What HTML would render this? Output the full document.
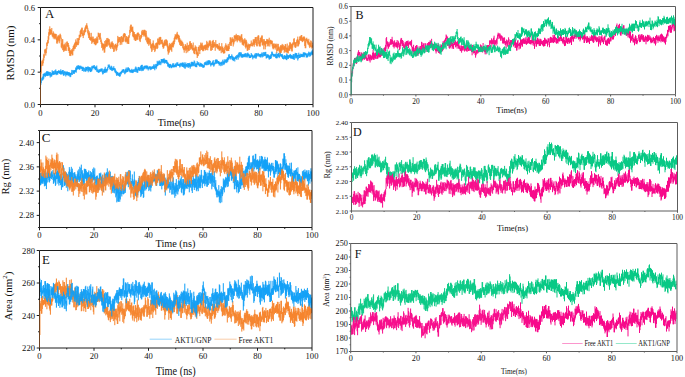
<!DOCTYPE html>
<html><head><meta charset="utf-8"><style>
html,body{margin:0;padding:0;background:#fff;}
svg{display:block;}
text{font-family:"Liberation Serif",serif;fill:#111;}
</style></head><body>
<svg width="685" height="377" viewBox="0 0 685 377">
<defs><clipPath id="cA"><rect x="40.5" y="7.5" width="272.5" height="97.0"/></clipPath><clipPath id="cC"><rect x="39.5" y="130.5" width="272.5" height="97.0"/></clipPath><clipPath id="cE"><rect x="39.5" y="250.5" width="272.5" height="97.5"/></clipPath><clipPath id="cB"><rect x="351.0" y="6.5" width="324.5" height="88.2"/></clipPath><clipPath id="cD"><rect x="351.5" y="122.5" width="326.0" height="88.5"/></clipPath><clipPath id="cF"><rect x="350.7" y="243.5" width="326.3" height="108.0"/></clipPath></defs>
<rect width="685" height="377" fill="#fff"/>
<path d="M40.2 81.5V104.6M40.8 73.6V81.7M41.2 64.6V73.6M41.8 61.2V66.2M42.2 59.9V64.4M42.8 61.2V65.8M43.2 58.4V63.3M43.8 54.4V60.6M44.2 53.5V57.8M44.8 49.6V53.5M45.2 48.9V52.6M45.8 49.9V55.6M46.2 48.4V53.2M46.8 42.8V49.4M47.2 41.9V46.0M47.8 39.9V43.8M48.2 36.2V43.1M48.8 32.2V39.7M49.2 29.1V35.7M49.8 26.3V34.2M50.2 28.9V34.7M50.8 29.6V34.7M51.2 30.1V33.9M51.8 28.0V34.5M52.2 33.9V36.4M52.8 32.9V36.8M53.2 31.3V38.4M53.8 32.6V36.9M54.2 34.0V39.3M54.8 33.6V38.0M55.2 34.2V38.8M55.8 33.8V38.4M56.2 34.1V40.0M56.8 38.1V43.4M57.2 36.7V43.7M57.8 36.4V42.0M58.2 34.9V40.0M58.8 36.1V40.9M59.2 36.2V43.3M59.8 34.6V41.4M60.2 33.7V37.5M60.8 35.2V38.6M61.2 37.7V47.4M61.8 43.2V48.4M62.2 39.2V46.3M62.8 39.2V50.1M63.2 44.5V50.3M63.8 45.9V52.0M64.2 44.4V50.6M64.8 44.4V50.6M65.2 42.6V50.7M65.8 46.2V49.6M66.2 44.5V51.0M66.8 41.8V45.6M67.2 41.4V46.7M67.8 42.8V46.7M68.2 43.0V50.8M68.8 45.1V51.0M69.2 47.2V53.0M69.8 48.1V55.9M70.2 51.0V55.6M70.8 50.0V56.1M71.2 51.1V53.7M71.8 49.2V53.8M72.2 49.7V55.3M72.8 48.1V55.3M73.2 46.1V48.8M73.8 45.3V51.2M74.2 44.1V49.3M74.8 43.1V48.4M75.2 42.0V48.8M75.8 39.4V44.7M76.2 41.4V47.0M76.8 42.0V45.5M77.2 38.0V44.7M77.8 42.6V45.1M78.2 38.6V45.1M78.8 37.9V43.4M79.2 34.8V40.1M79.8 34.8V38.1M80.2 31.0V36.5M80.8 29.8V36.9M81.2 29.3V34.0M81.8 27.7V34.0M82.2 27.7V35.9M82.8 32.7V35.5M83.2 33.4V38.1M83.8 30.5V35.7M84.2 30.0V35.0M84.8 28.4V33.2M85.2 26.9V31.9M85.8 25.6V31.9M86.2 24.9V28.6M86.8 23.2V28.6M87.2 25.5V28.7M87.8 27.8V33.4M88.2 29.8V35.3M88.8 33.0V38.0M89.2 31.3V38.3M89.8 33.1V39.9M90.2 37.6V39.9M90.8 36.9V40.9M91.2 32.8V39.7M91.8 37.8V43.9M92.2 36.6V41.7M92.8 39.3V42.7M93.2 36.6V41.8M93.8 39.0V41.9M94.2 39.4V44.1M94.8 38.5V43.9M95.2 39.7V45.2M95.8 38.2V45.2M96.2 38.9V44.4M96.8 36.6V43.0M97.2 38.5V43.4M97.8 36.7V42.8M98.2 32.6V37.0M98.8 33.1V36.9M99.2 35.3V39.9M99.8 33.6V38.4M100.2 32.9V39.0M100.8 37.6V42.1M101.2 39.5V44.0M101.8 41.7V48.0M102.2 43.5V46.9M102.8 43.3V50.6M103.2 43.7V49.4M103.8 44.1V49.4M104.2 44.6V52.7M104.8 41.0V52.5M105.2 44.1V48.3M105.8 39.9V46.4M106.2 40.8V46.6M106.8 38.1V46.6M107.2 39.9V46.5M107.8 37.9V44.5M108.2 38.7V42.1M108.8 39.3V45.6M109.2 39.3V44.7M109.8 42.7V47.5M110.2 43.7V47.6M110.8 45.0V49.0M111.2 41.8V47.2M111.8 43.0V47.2M112.2 41.3V47.5M112.8 42.8V48.9M113.2 43.4V49.2M113.8 48.4V52.0M114.2 44.9V51.4M114.8 45.8V47.6M115.2 44.0V49.5M115.8 43.7V47.5M116.2 45.3V51.2M116.8 45.0V50.0M117.2 43.3V47.5M117.8 35.9V46.1M118.2 39.2V42.9M118.8 37.1V42.2M119.2 37.0V40.3M119.8 37.4V42.0M120.2 38.8V45.1M120.8 37.0V43.3M121.2 36.2V38.7M121.8 36.2V44.7M122.2 38.0V42.0M122.8 37.1V42.3M123.2 34.7V40.5M123.8 33.6V41.8M124.2 33.2V37.5M124.8 33.1V36.5M125.2 34.0V41.2M125.8 38.4V42.3M126.2 36.2V42.2M126.8 36.1V41.0M127.2 38.7V43.8M127.8 37.1V42.7M128.2 37.0V44.0M128.8 35.4V44.0M129.2 35.1V37.7M129.8 29.9V35.3M130.2 26.3V33.1M130.8 24.7V30.6M131.2 24.7V31.4M131.8 27.5V31.8M132.2 26.9V32.0M132.8 26.6V36.3M133.2 30.8V37.2M133.8 32.0V37.4M134.2 32.0V39.9M134.8 34.3V39.2M135.2 34.0V41.0M135.8 35.4V41.0M136.2 34.8V40.2M136.8 34.2V39.1M137.2 33.0V39.3M137.8 32.6V40.1M138.2 32.5V36.6M138.8 33.5V35.0M139.2 34.2V39.5M139.8 35.8V41.1M140.2 38.1V42.1M140.8 34.9V39.1M141.2 34.9V38.2M141.8 31.2V37.0M142.2 29.9V34.8M142.8 32.2V34.9M143.2 29.9V34.6M143.8 31.2V36.5M144.2 29.8V35.1M144.8 29.8V35.8M145.2 30.4V37.1M145.8 33.1V40.3M146.2 30.8V36.4M146.8 35.7V41.9M147.2 37.4V43.3M147.8 37.6V44.2M148.2 37.8V43.5M148.8 37.6V45.8M149.2 38.6V42.4M149.8 40.5V44.5M150.2 39.0V44.4M150.8 42.6V48.1M151.2 44.6V49.3M151.8 44.3V52.0M152.2 44.0V50.6M152.8 42.9V46.6M153.2 40.4V48.1M153.8 43.7V49.9M154.2 45.2V47.7M154.8 45.9V52.1M155.2 46.2V50.8M155.8 43.3V48.9M156.2 42.9V48.5M156.8 42.5V46.6M157.2 42.8V49.1M157.8 38.6V48.1M158.2 38.6V44.5M158.8 40.9V43.8M159.2 37.3V45.2M159.8 37.5V44.6M160.2 36.8V40.7M160.8 37.1V44.3M161.2 40.0V43.9M161.8 40.0V42.7M162.2 39.5V44.4M162.8 42.0V47.1M163.2 43.7V48.8M163.8 43.2V48.2M164.2 40.8V46.3M164.8 39.8V45.6M165.2 42.1V45.6M165.8 39.5V44.8M166.2 39.4V45.9M166.8 39.9V44.8M167.2 40.7V47.3M167.8 43.6V51.4M168.2 46.6V54.7M168.8 46.3V53.2M169.2 45.0V52.4M169.8 42.9V50.2M170.2 44.3V49.5M170.8 44.0V49.5M171.2 45.2V50.5M171.8 42.8V51.8M172.2 42.8V47.1M172.8 42.4V47.1M173.2 40.9V47.5M173.8 40.6V45.5M174.2 37.9V44.1M174.8 36.5V41.9M175.2 34.1V39.4M175.8 35.2V38.6M176.2 34.8V39.2M176.8 33.4V39.6M177.2 31.8V38.1M177.8 34.1V38.3M178.2 35.1V39.6M178.8 34.9V41.8M179.2 35.9V42.7M179.8 38.0V45.1M180.2 40.4V43.9M180.8 39.5V46.0M181.2 41.2V45.8M181.8 40.6V45.9M182.2 41.7V44.2M182.8 42.3V47.9M183.2 43.7V49.2M183.8 46.9V50.2M184.2 47.9V52.7M184.8 45.9V49.8M185.2 44.1V49.3M185.8 44.7V50.8M186.2 45.8V53.2M186.8 45.9V49.8M187.2 42.7V49.0M187.8 47.9V52.4M188.2 45.0V50.9M188.8 45.6V50.5M189.2 44.6V50.9M189.8 41.5V45.9M190.2 41.1V49.9M190.8 43.2V48.6M191.2 43.0V48.2M191.8 44.4V48.9M192.2 45.2V50.2M192.8 47.7V50.5M193.2 42.5V50.1M193.8 48.1V52.9M194.2 48.6V54.1M194.8 47.4V54.1M195.2 45.3V50.4M195.8 46.7V51.1M196.2 46.7V54.5M196.8 49.5V54.3M197.2 51.7V58.0M197.8 52.7V56.3M198.2 47.0V55.8M198.8 46.9V50.9M199.2 45.4V50.8M199.8 49.4V54.1M200.2 45.3V50.7M200.8 42.5V48.3M201.2 43.5V49.8M201.8 44.6V49.8M202.2 42.7V49.8M202.8 45.5V51.2M203.2 45.6V51.2M203.8 46.7V50.5M204.2 45.6V48.9M204.8 45.1V48.7M205.2 44.6V50.6M205.8 44.8V49.9M206.2 44.8V48.5M206.8 40.8V50.1M207.2 42.1V47.1M207.8 43.9V50.3M208.2 44.3V47.8M208.8 42.6V47.2M209.2 40.7V45.4M209.8 40.6V45.9M210.2 40.4V45.8M210.8 41.8V50.7M211.2 45.9V50.8M211.8 43.8V46.9M212.2 41.1V50.0M212.8 40.7V47.6M213.2 39.9V47.6M213.8 43.8V47.6M214.2 42.0V46.9M214.8 43.5V45.9M215.2 44.2V50.8M215.8 40.1V46.4M216.2 45.3V47.8M216.8 43.9V47.0M217.2 44.0V48.4M217.8 44.4V48.8M218.2 45.6V49.6M218.8 45.8V48.9M219.2 42.9V50.7M219.8 46.6V50.7M220.2 46.3V49.6M220.8 46.6V50.4M221.2 48.1V53.2M221.8 43.1V48.6M222.2 46.9V51.8M222.8 46.5V52.1M223.2 48.0V53.2M223.8 49.8V53.7M224.2 49.6V53.2M224.8 46.8V53.2M225.2 45.4V49.8M225.8 43.3V46.8M226.2 45.9V50.3M226.8 44.8V51.1M227.2 47.2V51.1M227.8 45.8V50.6M228.2 43.8V51.0M228.8 46.1V51.0M229.2 44.4V49.0M229.8 42.1V45.0M230.2 37.3V44.0M230.8 37.6V45.9M231.2 40.6V45.9M231.8 38.6V43.3M232.2 37.2V42.0M232.8 39.1V41.7M233.2 38.7V46.5M233.8 39.7V44.4M234.2 35.5V42.4M234.8 35.5V38.3M235.2 35.1V41.4M235.8 36.2V39.1M236.2 33.8V40.8M236.8 35.6V39.7M237.2 35.3V42.3M237.8 35.1V40.6M238.2 38.7V40.2M238.8 35.1V39.5M239.2 36.4V40.8M239.8 35.8V41.4M240.2 36.6V42.6M240.8 36.6V40.4M241.2 34.7V39.5M241.8 34.1V42.4M242.2 37.8V44.6M242.8 39.7V44.7M243.2 39.4V45.5M243.8 41.7V45.5M244.2 39.5V43.5M244.8 38.2V43.3M245.2 41.2V47.1M245.8 39.5V48.5M246.2 40.1V46.4M246.8 41.7V47.4M247.2 45.5V50.8M247.8 44.5V50.8M248.2 43.5V49.7M248.8 44.7V46.5M249.2 44.7V50.0M249.8 44.1V48.2M250.2 43.9V46.5M250.8 43.7V46.1M251.2 40.5V44.3M251.8 42.7V46.0M252.2 44.5V46.6M252.8 42.5V45.8M253.2 39.4V45.2M253.8 39.4V44.5M254.2 41.0V46.8M254.8 39.1V44.7M255.2 37.1V43.1M255.8 37.1V41.4M256.2 39.7V45.0M256.8 36.9V46.3M257.2 42.5V46.3M257.8 36.4V43.2M258.2 35.2V40.6M258.8 35.5V44.3M259.2 40.3V46.3M259.8 41.8V46.3M260.2 37.9V46.6M260.8 37.9V43.2M261.2 36.8V41.5M261.8 35.5V42.2M262.2 35.5V45.4M262.8 39.4V45.4M263.2 41.6V44.3M263.8 39.2V49.4M264.2 39.2V44.6M264.8 41.2V45.6M265.2 41.2V49.4M265.8 41.2V46.8M266.2 41.2V44.1M266.8 38.9V42.8M267.2 39.7V44.2M267.8 39.4V46.3M268.2 39.5V46.3M268.8 40.8V44.6M269.2 37.7V42.5M269.8 41.2V46.6M270.2 39.8V42.8M270.8 39.9V44.4M271.2 41.1V44.0M271.8 40.4V44.2M272.2 40.9V46.4M272.8 43.8V48.4M273.2 43.6V49.4M273.8 43.6V48.5M274.2 45.9V47.7M274.8 43.5V47.5M275.2 44.3V49.6M275.8 44.3V47.8M276.2 43.6V47.3M276.8 45.3V53.0M277.2 48.3V50.8M277.8 43.8V51.0M278.2 43.9V49.3M278.8 46.7V50.6M279.2 47.3V51.9M279.8 48.8V54.6M280.2 46.2V53.3M280.8 45.0V52.9M281.2 46.2V52.7M281.8 45.2V50.7M282.2 43.9V50.4M282.8 45.7V48.7M283.2 44.7V49.7M283.8 47.2V49.8M284.2 45.9V52.8M284.8 46.4V51.0M285.2 44.2V52.2M285.8 44.2V48.9M286.2 47.9V52.4M286.8 47.5V52.6M287.2 43.5V52.0M287.8 47.6V53.2M288.2 48.5V53.4M288.8 45.8V50.7M289.2 44.9V50.3M289.8 42.3V50.9M290.2 42.3V48.8M290.8 43.2V48.5M291.2 44.8V49.4M291.8 44.0V51.4M292.2 43.8V51.4M292.8 42.5V47.6M293.2 42.7V45.3M293.8 38.9V43.7M294.2 38.1V44.5M294.8 42.2V46.8M295.2 42.1V47.9M295.8 43.0V47.7M296.2 42.0V46.5M296.8 40.2V43.4M297.2 39.0V42.6M297.8 36.6V46.4M298.2 40.2V46.4M298.8 40.8V45.3M299.2 39.0V43.9M299.8 36.5V40.3M300.2 36.4V40.2M300.8 36.4V40.8M301.2 35.0V40.5M301.8 35.1V41.0M302.2 37.4V42.2M302.8 38.1V41.9M303.2 36.9V40.4M303.8 36.6V41.0M304.2 36.5V39.9M304.8 37.5V46.0M305.2 38.9V48.2M305.8 41.1V48.2M306.2 38.5V41.4M306.8 37.7V41.0M307.2 39.1V42.7M307.8 40.2V43.7M308.2 40.8V45.0M308.8 38.8V44.2M309.2 41.9V46.5M309.8 43.0V48.1M310.2 43.0V46.6M310.8 40.4V46.8M311.2 41.2V47.1M311.8 45.7V48.6M312.2 42.6V46.7M312.8 45.0V47.9" fill="none" stroke="#f5822a" stroke-width="1.0" clip-path="url(#cA)"/>
<path d="M40.2 83.6V104.6M40.8 80.8V85.0M41.2 80.4V83.2M41.8 78.2V80.9M42.2 77.3V80.3M42.8 76.5V80.3M43.2 74.0V79.5M43.8 73.7V78.6M44.2 73.4V75.7M44.8 73.4V76.2M45.2 72.6V77.1M45.8 73.8V75.9M46.2 72.0V75.4M46.8 71.1V75.8M47.2 71.5V76.1M47.8 71.3V75.9M48.2 72.0V74.6M48.8 71.6V75.7M49.2 73.4V75.6M49.8 72.0V75.0M50.2 72.0V77.5M50.8 73.6V75.9M51.2 73.6V76.7M51.8 72.8V76.4M52.2 70.3V74.0M52.8 71.7V75.1M53.2 71.1V74.7M53.8 71.3V74.8M54.2 72.9V74.4M54.8 70.5V74.4M55.2 70.5V74.2M55.8 69.4V73.9M56.2 72.5V75.2M56.8 71.1V74.2M57.2 71.1V74.6M57.8 71.2V74.6M58.2 71.1V73.0M58.8 70.1V73.1M59.2 70.7V73.3M59.8 71.0V73.9M60.2 70.9V73.9M60.8 69.3V74.6M61.2 71.1V74.5M61.8 71.4V74.0M62.2 70.3V72.7M62.8 70.1V74.1M63.2 70.2V75.2M63.8 72.3V75.9M64.2 71.8V75.1M64.8 70.9V73.0M65.2 71.5V74.3M65.8 72.3V76.5M66.2 72.3V75.2M66.8 71.5V75.1M67.2 71.5V75.1M67.8 72.0V74.7M68.2 72.3V76.1M68.8 72.2V75.0M69.2 72.2V75.1M69.8 72.9V76.4M70.2 73.0V77.2M70.8 73.2V76.7M71.2 72.6V74.7M71.8 69.9V74.4M72.2 72.5V75.0M72.8 70.2V72.5M73.2 70.2V73.6M73.8 70.9V73.6M74.2 70.2V74.0M74.8 70.1V72.6M75.2 69.9V72.1M75.8 67.4V71.6M76.2 68.1V72.7M76.8 65.8V70.1M77.2 66.7V69.4M77.8 65.7V68.8M78.2 65.0V68.8M78.8 66.3V69.1M79.2 65.9V69.7M79.8 65.6V69.7M80.2 66.4V68.8M80.8 65.7V67.6M81.2 66.9V68.9M81.8 66.4V68.8M82.2 66.9V71.0M82.8 67.5V71.0M83.2 66.8V69.2M83.8 68.0V71.7M84.2 67.7V69.5M84.8 69.2V71.4M85.2 68.6V71.2M85.8 66.8V71.9M86.2 67.1V70.2M86.8 67.1V70.6M87.2 67.6V70.9M87.8 66.5V68.8M88.2 66.6V72.3M88.8 67.3V70.6M89.2 67.2V70.6M89.8 67.3V70.7M90.2 67.3V72.1M90.8 68.2V72.0M91.2 68.7V71.3M91.8 66.4V71.3M92.2 65.7V68.0M92.8 66.7V69.5M93.2 65.9V68.1M93.8 65.5V68.0M94.2 65.0V68.3M94.8 67.0V69.0M95.2 66.4V70.1M95.8 66.9V70.2M96.2 66.8V69.6M96.8 65.5V71.6M97.2 70.4V72.0M97.8 68.7V71.5M98.2 70.0V72.8M98.8 70.7V72.8M99.2 69.1V72.3M99.8 69.8V72.1M100.2 69.4V71.4M100.8 68.7V71.7M101.2 68.7V71.3M101.8 68.6V71.3M102.2 68.5V72.6M102.8 70.9V74.5M103.2 70.9V73.9M103.8 69.4V71.9M104.2 68.9V72.9M104.8 68.6V73.1M105.2 66.8V72.2M105.8 69.2V72.7M106.2 69.1V71.3M106.8 69.2V72.5M107.2 68.3V71.2M107.8 67.0V69.9M108.2 64.6V67.5M108.8 65.4V67.7M109.2 64.4V67.0M109.8 65.9V69.0M110.2 67.3V70.1M110.8 67.4V69.5M111.2 65.7V69.7M111.8 66.3V70.7M112.2 68.1V71.1M112.8 67.6V69.6M113.2 67.9V70.3M113.8 66.2V70.2M114.2 68.0V69.5M114.8 68.5V71.7M115.2 68.5V72.8M115.8 70.3V72.8M116.2 70.9V74.4M116.8 72.4V76.0M117.2 71.8V74.8M117.8 72.0V75.1M118.2 73.6V75.7M118.8 73.1V75.7M119.2 72.8V76.2M119.8 72.9V76.8M120.2 72.2V76.2M120.8 72.1V73.8M121.2 71.2V74.4M121.8 70.9V73.0M122.2 69.6V72.1M122.8 69.8V72.4M123.2 69.3V72.8M123.8 69.0V71.0M124.2 70.4V72.4M124.8 71.4V74.3M125.2 69.6V73.5M125.8 68.8V72.5M126.2 67.5V72.5M126.8 70.3V71.9M127.2 68.9V72.1M127.8 67.6V71.9M128.2 67.1V70.2M128.8 68.1V70.6M129.2 68.3V71.6M129.8 69.3V71.6M130.2 69.9V72.8M130.8 70.1V71.7M131.2 70.3V72.3M131.8 68.8V72.9M132.2 70.2V72.4M132.8 69.9V73.1M133.2 69.1V72.6M133.8 70.1V71.6M134.2 70.3V71.9M134.8 69.0V71.5M135.2 67.6V69.9M135.8 66.5V72.0M136.2 68.9V72.3M136.8 67.4V70.5M137.2 68.8V72.8M137.8 69.5V72.7M138.2 67.1V70.1M138.8 66.9V70.5M139.2 67.4V70.5M139.8 68.0V70.8M140.2 67.5V70.8M140.8 66.0V69.1M141.2 65.1V69.5M141.8 64.9V71.2M142.2 64.8V70.5M142.8 67.2V70.4M143.2 67.8V70.8M143.8 66.4V69.6M144.2 65.9V69.2M144.8 65.8V68.7M145.2 65.6V67.4M145.8 65.9V68.3M146.2 65.6V69.3M146.8 65.5V68.0M147.2 65.8V68.5M147.8 65.8V69.3M148.2 67.5V70.5M148.8 67.2V69.0M149.2 66.4V68.2M149.8 66.4V68.8M150.2 66.5V70.2M150.8 66.5V69.1M151.2 67.3V69.7M151.8 66.9V69.1M152.2 65.9V68.7M152.8 67.0V68.7M153.2 66.0V68.7M153.8 64.4V68.7M154.2 64.5V68.8M154.8 66.6V70.3M155.2 65.9V68.1M155.8 63.9V67.5M156.2 64.6V69.2M156.8 64.1V67.4M157.2 60.8V66.0M157.8 62.4V66.0M158.2 61.6V65.1M158.8 61.3V63.7M159.2 60.3V65.1M159.8 61.3V64.4M160.2 61.9V63.3M160.8 61.6V65.2M161.2 59.0V62.0M161.8 59.1V63.5M162.2 59.1V61.8M162.8 59.4V62.9M163.2 58.8V62.3M163.8 58.8V62.7M164.2 58.4V63.5M164.8 60.3V63.4M165.2 59.8V62.4M165.8 59.8V63.1M166.2 60.0V62.5M166.8 60.0V63.8M167.2 61.5V64.1M167.8 62.4V66.6M168.2 62.8V66.3M168.8 64.0V66.9M169.2 64.7V67.9M169.8 63.9V68.1M170.2 63.9V67.2M170.8 64.3V66.5M171.2 65.3V68.2M171.8 65.7V68.1M172.2 64.7V67.2M172.8 63.5V67.0M173.2 63.1V67.3M173.8 64.4V67.3M174.2 65.0V67.4M174.8 65.0V67.0M175.2 63.3V66.4M175.8 64.1V67.2M176.2 64.6V67.2M176.8 62.4V65.9M177.2 63.1V65.3M177.8 62.2V65.7M178.2 64.4V65.9M178.8 64.1V66.0M179.2 63.8V66.0M179.8 64.4V67.5M180.2 62.8V66.7M180.8 63.7V64.8M181.2 63.4V66.2M181.8 63.2V65.4M182.2 62.4V67.0M182.8 62.8V66.5M183.2 62.8V67.0M183.8 64.3V67.7M184.2 62.3V66.4M184.8 63.9V68.4M185.2 64.6V68.7M185.8 62.4V66.6M186.2 63.8V65.8M186.8 64.0V67.3M187.2 64.9V66.8M187.8 63.0V66.6M188.2 63.0V68.0M188.8 63.8V66.6M189.2 63.2V66.4M189.8 62.8V67.3M190.2 64.5V68.7M190.8 64.2V66.7M191.2 62.2V66.4M191.8 61.7V66.4M192.2 62.3V65.5M192.8 61.9V66.3M193.2 62.3V65.4M193.8 62.9V66.2M194.2 60.5V63.3M194.8 61.5V66.1M195.2 64.3V66.6M195.8 63.5V67.1M196.2 63.1V67.1M196.8 64.3V67.2M197.2 61.1V64.8M197.8 62.6V64.8M198.2 62.6V65.2M198.8 62.2V65.2M199.2 64.3V66.1M199.8 63.8V66.7M200.2 62.7V66.5M200.8 63.4V65.6M201.2 63.4V66.9M201.8 63.6V66.5M202.2 64.0V66.3M202.8 64.8V67.6M203.2 65.4V67.8M203.8 65.0V67.4M204.2 63.4V67.3M204.8 62.1V64.5M205.2 62.8V65.1M205.8 61.8V64.5M206.2 61.4V65.3M206.8 63.2V65.1M207.2 60.5V63.4M207.8 61.6V65.2M208.2 60.7V65.0M208.8 60.2V64.0M209.2 60.2V63.4M209.8 60.9V64.5M210.2 60.9V64.5M210.8 63.8V66.5M211.2 63.0V65.2M211.8 62.9V65.2M212.2 61.9V64.0M212.8 61.3V65.2M213.2 60.1V64.9M213.8 63.3V66.7M214.2 63.0V65.6M214.8 62.4V64.2M215.2 60.0V64.2M215.8 59.4V62.7M216.2 59.7V63.7M216.8 59.6V63.7M217.2 59.8V62.6M217.8 61.4V63.3M218.2 61.0V63.7M218.8 61.0V64.1M219.2 61.9V65.7M219.8 62.5V64.9M220.2 62.5V64.0M220.8 62.5V66.2M221.2 61.7V63.9M221.8 61.8V65.5M222.2 62.6V65.5M222.8 59.7V63.1M223.2 61.1V63.9M223.8 62.1V65.1M224.2 59.4V64.3M224.8 61.1V63.4M225.2 59.5V61.8M225.8 60.2V62.8M226.2 59.1V61.8M226.8 59.4V63.1M227.2 57.5V61.6M227.8 57.6V61.8M228.2 57.5V60.1M228.8 54.6V59.2M229.2 54.1V58.2M229.8 56.3V58.3M230.2 56.1V59.6M230.8 56.0V58.3M231.2 56.0V58.8M231.8 54.3V57.0M232.2 55.7V60.0M232.8 56.9V60.0M233.2 56.5V61.1M233.8 57.7V60.4M234.2 57.4V59.7M234.8 57.8V61.5M235.2 56.9V59.1M235.8 55.9V58.6M236.2 57.0V58.6M236.8 55.0V59.8M237.2 56.0V57.6M237.8 54.5V57.6M238.2 54.8V59.6M238.8 53.1V57.0M239.2 52.0V55.4M239.8 52.6V57.6M240.2 53.7V55.3M240.8 52.1V56.2M241.2 52.6V56.9M241.8 54.5V57.7M242.2 54.0V57.7M242.8 54.6V57.2M243.2 54.1V57.4M243.8 54.8V56.8M244.2 53.7V56.5M244.8 54.0V57.2M245.2 53.2V57.2M245.8 53.3V56.2M246.2 55.5V57.3M246.8 53.5V56.5M247.2 53.5V57.6M247.8 52.6V56.2M248.2 53.5V56.3M248.8 53.9V56.4M249.2 54.4V58.1M249.8 55.4V58.0M250.2 55.3V58.0M250.8 55.6V57.9M251.2 53.0V56.9M251.8 54.1V56.3M252.2 55.1V57.1M252.8 54.8V59.4M253.2 56.4V58.1M253.8 55.7V57.3M254.2 55.2V57.3M254.8 54.3V58.2M255.2 53.2V56.7M255.8 54.8V58.5M256.2 53.1V58.5M256.8 53.5V57.0M257.2 53.5V55.3M257.8 54.7V56.2M258.2 52.9V55.2M258.8 53.9V56.4M259.2 54.5V56.6M259.8 54.2V56.6M260.2 53.8V57.4M260.8 54.1V57.4M261.2 54.0V55.6M261.8 52.5V56.6M262.2 54.7V57.5M262.8 52.6V55.9M263.2 54.4V56.8M263.8 52.2V55.4M264.2 52.2V55.7M264.8 53.4V56.1M265.2 51.9V56.1M265.8 51.9V55.3M266.2 54.1V58.6M266.8 55.6V58.1M267.2 54.8V57.8M267.8 54.1V57.3M268.2 54.7V56.9M268.8 55.0V58.5M269.2 56.2V59.8M269.8 55.4V58.7M270.2 56.0V59.0M270.8 54.4V58.9M271.2 54.4V58.2M271.8 51.7V55.8M272.2 51.7V55.2M272.8 53.4V55.1M273.2 54.1V56.9M273.8 54.3V56.0M274.2 53.9V55.9M274.8 54.9V57.0M275.2 54.1V56.1M275.8 54.3V58.0M276.2 52.6V58.4M276.8 56.0V58.2M277.2 54.1V58.2M277.8 54.0V56.3M278.2 52.8V56.5M278.8 53.3V57.1M279.2 54.7V58.1M279.8 55.4V56.9M280.2 52.8V55.8M280.8 54.2V55.8M281.2 54.2V56.9M281.8 54.7V56.7M282.2 53.9V58.0M282.8 55.3V59.0M283.2 56.2V58.9M283.8 57.9V59.5M284.2 55.2V58.3M284.8 55.2V58.8M285.2 55.8V58.8M285.8 55.9V59.0M286.2 55.7V60.0M286.8 53.4V60.2M287.2 54.5V57.6M287.8 55.3V59.0M288.2 55.9V59.0M288.8 55.1V58.1M289.2 55.0V57.1M289.8 54.7V57.5M290.2 53.9V58.0M290.8 54.7V58.7M291.2 55.4V58.1M291.8 55.2V58.8M292.2 55.5V58.3M292.8 55.9V59.1M293.2 54.1V59.1M293.8 54.1V59.3M294.2 56.5V60.0M294.8 54.2V57.6M295.2 52.8V56.5M295.8 53.4V58.5M296.2 53.2V57.7M296.8 53.1V58.3M297.2 54.9V56.9M297.8 55.2V60.5M298.2 54.9V59.1M298.8 52.7V56.0M299.2 54.8V58.0M299.8 54.3V58.0M300.2 55.6V57.6M300.8 53.6V56.8M301.2 54.2V56.8M301.8 54.2V57.0M302.2 54.3V57.2M302.8 54.2V56.8M303.2 52.5V55.9M303.8 52.5V57.2M304.2 52.3V57.2M304.8 53.1V55.4M305.2 52.6V55.3M305.8 53.1V55.2M306.2 53.6V57.5M306.8 53.7V57.2M307.2 55.2V57.6M307.8 53.3V57.0M308.2 53.5V56.2M308.8 51.6V55.1M309.2 52.4V55.1M309.8 53.0V56.8M310.2 52.4V56.1M310.8 52.7V55.6M311.2 51.5V54.4M311.8 51.5V54.6M312.2 49.6V55.2M312.8 51.4V54.4" fill="none" stroke="#0f9ff7" stroke-width="1.0" clip-path="url(#cA)"/>
<path d="M40.5 7.5H313.0V104.5H40.5Z" fill="none" stroke="#1c1c1c" stroke-width="1"/>
<path d="M37.70 104.50H40.5M37.70 72.17H40.5M37.70 39.83H40.5M37.70 7.50H40.5M39.10 88.33H40.5M39.10 56.00H40.5M39.10 23.67H40.5M40.50 104.5V107.30M95.00 104.5V107.30M149.50 104.5V107.30M204.00 104.5V107.30M258.50 104.5V107.30M313.00 104.5V107.30M67.75 104.5V105.90M122.25 104.5V105.90M176.75 104.5V105.90M231.25 104.5V105.90M285.75 104.5V105.90" stroke="#1c1c1c" stroke-width="1"/>
<text x="35.1" y="104.50" font-size="8.6" text-anchor="end" dominant-baseline="central">0.0</text>
<text x="35.1" y="72.17" font-size="8.6" text-anchor="end" dominant-baseline="central">0.2</text>
<text x="35.1" y="39.83" font-size="8.6" text-anchor="end" dominant-baseline="central">0.4</text>
<text x="35.1" y="7.50" font-size="8.6" text-anchor="end" dominant-baseline="central">0.6</text>
<text x="40.50" y="112.5" font-size="8.6" text-anchor="middle" dominant-baseline="central">0</text>
<text x="95.00" y="112.5" font-size="8.6" text-anchor="middle" dominant-baseline="central">20</text>
<text x="149.50" y="112.5" font-size="8.6" text-anchor="middle" dominant-baseline="central">40</text>
<text x="204.00" y="112.5" font-size="8.6" text-anchor="middle" dominant-baseline="central">60</text>
<text x="258.50" y="112.5" font-size="8.6" text-anchor="middle" dominant-baseline="central">80</text>
<text x="313.00" y="112.5" font-size="8.6" text-anchor="middle" dominant-baseline="central">100</text>
<path d="M40.5 104.5V72" stroke="#f5822a" stroke-width="0.7" opacity="0.6"/>
<text x="45.1" y="18.4" font-size="12.8">A</text>
<text x="157.7" y="125.8" font-size="10.8" textLength="37.2" lengthAdjust="spacingAndGlyphs">Time(ns)</text>
<text transform="translate(14.2,80.5) rotate(-90)" font-size="11" textLength="54.9" lengthAdjust="spacingAndGlyphs">RMSD (nm)</text>
<path d="M39.9 175.4V185.3M40.4 173.1V185.3M40.9 173.1V184.8M41.4 175.3V183.5M41.9 172.5V182.2M42.4 172.5V183.8M42.9 175.4V182.6M43.4 173.0V181.4M43.9 178.3V183.8M44.4 174.4V186.3M44.9 171.6V182.2M45.4 172.3V185.8M45.9 175.9V184.4M46.4 177.7V189.1M46.9 172.5V183.2M47.4 170.8V178.4M47.9 170.8V182.1M48.4 171.7V178.0M48.9 167.7V180.2M49.4 173.5V182.5M49.9 173.8V181.0M50.4 174.2V178.2M50.9 172.9V177.3M51.4 171.4V179.1M51.9 171.6V176.7M52.4 174.5V177.6M52.9 170.1V179.9M53.4 177.2V183.8M53.9 172.7V183.1M54.4 172.9V180.4M54.9 173.2V181.7M55.4 175.4V185.9M55.9 177.3V184.6M56.4 172.1V179.2M56.9 168.5V178.7M57.4 170.8V178.8M57.9 170.4V183.7M58.4 171.9V181.7M58.9 171.6V185.6M59.4 175.5V183.0M59.9 175.1V182.7M60.4 174.2V185.2M60.9 174.2V180.2M61.4 179.1V189.9M61.9 176.7V183.8M62.4 178.3V187.2M62.9 172.6V187.2M63.4 165.2V178.0M63.9 167.7V178.0M64.3 171.5V185.9M64.8 176.3V185.9M65.3 179.4V184.8M65.8 172.8V181.4M66.3 172.4V187.8M66.8 173.4V182.3M67.3 174.1V185.7M67.8 176.6V191.3M68.3 174.9V181.6M68.8 171.6V180.5M69.3 167.1V176.9M69.8 169.3V180.8M70.3 172.1V180.8M70.8 172.3V184.3M71.3 166.8V179.9M71.8 170.9V177.3M72.3 168.6V180.9M72.8 172.7V181.4M73.3 176.8V184.8M73.8 173.1V182.8M74.3 172.4V178.8M74.8 172.2V178.2M75.3 175.8V183.0M75.8 174.3V182.0M76.3 176.3V182.9M76.8 178.1V183.4M77.3 174.3V187.3M77.8 170.6V182.3M78.3 172.3V180.2M78.8 169.3V178.7M79.3 176.2V182.0M79.8 166.7V180.8M80.3 174.1V180.5M80.8 167.9V178.8M81.3 164.6V173.8M81.8 171.8V185.5M82.3 170.2V185.5M82.8 173.6V183.3M83.3 175.3V185.1M83.8 173.4V182.3M84.3 168.8V183.9M84.8 168.8V178.3M85.3 169.2V178.3M85.8 169.2V179.1M86.3 170.8V181.0M86.8 173.0V183.0M87.3 172.2V178.3M87.8 172.6V180.6M88.3 172.3V179.4M88.8 170.4V178.9M89.3 174.8V183.4M89.8 174.6V181.0M90.3 171.1V183.5M90.8 174.1V183.1M91.3 172.1V182.3M91.8 173.1V178.0M92.3 175.3V180.1M92.8 168.8V181.9M93.3 170.8V179.4M93.8 167.4V180.3M94.3 174.4V180.3M94.8 168.4V179.8M95.3 177.0V183.0M95.8 179.1V187.3M96.3 175.9V187.3M96.8 176.4V181.9M97.3 175.4V185.0M97.8 177.4V190.2M98.3 179.1V188.7M98.8 178.2V190.3M99.3 173.3V181.6M99.8 173.5V179.4M100.3 173.8V180.0M100.8 172.6V180.4M101.3 177.3V186.0M101.8 176.4V187.4M102.3 174.5V187.1M102.8 179.9V187.1M103.3 182.5V192.0M103.8 177.7V183.2M104.3 174.3V181.7M104.8 173.7V181.5M105.3 173.7V182.9M105.8 176.9V184.2M106.3 172.2V182.2M106.8 172.9V179.2M107.3 168.3V178.2M107.8 173.6V177.7M108.3 171.7V177.6M108.8 173.6V180.5M109.3 175.7V180.5M109.8 173.9V180.2M110.3 171.6V183.8M110.8 180.5V185.7M111.3 176.7V184.5M111.8 176.1V184.7M112.3 175.8V191.3M112.8 178.8V192.9M113.3 179.5V188.7M113.8 184.0V192.7M114.3 183.4V193.4M114.8 184.2V190.7M115.3 184.3V190.0M115.8 183.7V197.4M116.3 183.7V195.6M116.8 184.2V202.4M117.3 186.6V193.4M117.8 179.9V201.4M118.3 188.0V201.7M118.8 188.2V201.7M119.3 183.9V198.4M119.8 192.0V201.8M120.3 190.0V199.5M120.8 187.2V193.7M121.3 187.2V194.3M121.8 184.9V196.5M122.3 181.4V187.3M122.8 187.3V193.9M123.3 189.0V194.4M123.8 184.4V194.0M124.3 185.2V193.3M124.8 185.2V191.0M125.3 175.5V192.9M125.8 175.3V186.2M126.3 175.5V183.6M126.8 172.3V181.3M127.3 171.8V183.6M127.8 178.0V184.4M128.3 178.1V187.2M128.8 170.1V184.7M129.3 171.7V177.7M129.8 170.0V177.0M130.3 171.1V179.1M130.8 178.4V187.0M131.3 181.1V187.1M131.8 181.1V184.9M132.3 174.4V183.6M132.8 179.1V186.2M133.3 180.6V189.1M133.8 182.3V186.6M134.3 171.5V184.5M134.8 179.6V189.6M135.3 186.5V195.7M135.8 186.5V195.7M136.3 185.1V197.2M136.8 183.6V190.0M137.3 181.8V195.3M137.8 184.1V195.3M138.3 179.9V192.5M138.8 178.1V191.2M139.3 175.9V184.2M139.8 177.6V189.9M140.3 183.7V192.6M140.8 185.3V197.1M141.3 183.6V195.7M141.8 181.4V194.1M142.3 181.2V194.1M142.8 177.3V190.3M143.3 184.5V197.9M143.8 189.4V197.2M144.3 181.0V190.7M144.8 176.6V188.8M145.3 181.6V186.9M145.8 183.8V190.5M146.3 180.4V189.1M146.8 179.5V188.3M147.3 180.9V187.0M147.8 175.6V186.7M148.3 175.0V187.4M148.8 182.3V191.1M149.3 182.4V187.0M149.8 179.7V190.2M150.3 180.8V187.5M150.8 179.1V191.5M151.3 177.1V187.7M151.8 177.0V182.5M152.3 176.4V183.2M152.8 176.9V181.6M153.3 174.6V181.5M153.8 172.2V181.4M154.3 175.3V181.4M154.8 178.1V181.2M155.3 174.7V183.6M155.8 173.8V183.4M156.3 174.7V185.9M156.8 174.7V185.7M157.3 170.2V180.7M157.8 171.4V179.0M158.3 170.4V180.4M158.8 173.2V180.4M159.3 175.4V180.7M159.8 174.0V185.9M160.3 174.5V185.9M160.8 173.8V186.1M161.3 173.2V184.9M161.8 175.8V189.4M162.3 176.3V185.5M162.8 177.7V186.0M163.3 176.9V184.8M163.8 175.4V185.2M164.3 174.6V184.1M164.8 184.1V189.0M165.3 183.0V195.6M165.8 177.6V188.6M166.3 179.7V187.7M166.8 183.6V188.5M167.3 179.3V187.5M167.8 184.3V188.6M168.3 177.6V187.5M168.8 176.9V188.4M169.3 182.1V187.1M169.8 184.0V192.8M170.3 175.9V189.5M170.8 185.9V189.9M171.3 181.6V189.3M171.8 189.1V194.6M172.3 183.4V194.3M172.8 180.4V188.4M173.3 177.3V189.9M173.8 183.2V194.6M174.3 185.4V193.6M174.8 187.1V197.8M175.3 182.9V192.2M175.8 186.2V196.1M176.3 179.1V191.7M176.8 184.5V193.7M177.3 184.8V190.4M177.8 187.7V194.5M178.3 181.2V191.5M178.8 179.7V185.6M179.3 180.8V189.2M179.8 181.4V187.8M180.3 178.5V187.7M180.8 180.0V185.0M181.3 176.3V192.1M181.8 181.6V193.2M182.3 183.2V189.3M182.8 179.1V188.1M183.3 179.0V195.3M183.8 180.2V195.3M184.3 183.4V194.4M184.8 184.3V190.5M185.3 180.5V187.3M185.8 181.4V188.8M186.3 181.0V188.5M186.8 181.2V188.2M187.3 178.9V186.0M187.8 176.0V188.9M188.3 180.3V186.7M188.8 175.4V187.2M189.3 175.8V192.3M189.8 180.8V186.7M190.3 183.7V187.2M190.8 180.5V187.8M191.3 176.3V184.5M191.8 177.3V190.7M192.3 179.9V193.0M192.8 179.9V186.5M193.3 175.7V185.0M193.8 178.3V187.5M194.3 178.9V190.0M194.8 178.8V187.9M195.3 179.0V187.6M195.8 174.9V186.7M196.3 174.9V190.5M196.8 182.1V191.3M197.3 179.4V189.3M197.8 176.4V182.8M198.3 176.2V191.2M198.8 177.6V187.8M199.3 178.5V186.6M199.8 174.5V188.2M200.3 176.5V188.2M200.8 175.2V186.3M201.3 169.9V182.7M201.8 174.7V181.5M202.3 180.2V188.0M202.8 179.1V184.2M203.3 175.7V183.5M203.8 175.7V183.3M204.3 170.1V183.3M204.8 170.1V186.2M205.3 171.9V184.3M205.8 171.9V180.9M206.3 173.5V183.6M206.8 178.8V186.7M207.3 176.3V186.7M207.8 172.5V184.9M208.3 175.9V185.1M208.8 172.9V180.1M209.3 170.4V179.4M209.8 173.0V183.3M210.3 173.3V183.8M210.8 173.8V181.3M211.3 172.7V182.8M211.8 176.2V189.3M212.3 167.6V186.5M212.8 173.3V181.4M213.3 175.8V182.4M213.8 180.8V187.0M214.3 171.2V182.9M214.8 177.1V188.7M215.3 183.2V189.9M215.8 180.1V191.3M216.3 187.4V194.7M216.8 189.2V197.4M217.3 189.7V194.9M217.8 191.1V197.3M218.3 191.2V195.7M218.8 185.1V196.7M219.3 191.6V202.4M219.8 190.5V199.8M220.3 192.3V203.2M220.8 189.0V197.8M221.3 186.2V193.7M221.8 189.8V202.4M222.3 187.9V196.1M222.8 187.0V194.3M223.3 178.5V188.8M223.8 181.3V190.2M224.3 180.4V192.4M224.8 179.6V187.0M225.3 178.5V187.4M225.8 176.9V187.4M226.3 178.2V185.7M226.8 177.7V183.4M227.3 174.0V187.1M227.8 169.9V184.1M228.3 173.2V186.5M228.8 171.5V181.0M229.3 172.3V181.6M229.8 168.0V175.8M230.3 169.2V175.5M230.8 165.6V174.1M231.3 167.7V180.5M231.8 171.7V180.7M232.3 170.6V178.4M232.8 167.2V178.8M233.3 171.3V183.1M233.8 170.1V180.2M234.3 174.0V189.2M234.8 176.8V189.2M235.3 168.8V182.0M235.8 173.1V185.8M236.3 176.2V189.2M236.8 181.9V192.4M237.3 180.4V187.2M237.8 180.2V187.0M238.3 184.0V193.3M238.8 181.4V191.8M239.3 182.4V191.8M239.8 170.4V184.0M240.3 170.4V188.8M240.8 179.8V189.0M241.3 178.4V185.5M241.8 174.9V185.1M242.3 179.0V185.2M242.8 168.1V181.0M243.3 171.0V187.7M243.8 176.0V184.6M244.3 170.5V183.8M244.8 175.2V181.3M245.3 169.2V176.7M245.8 166.7V175.8M246.3 166.0V175.9M246.8 166.6V172.6M247.3 162.6V171.6M247.8 162.4V175.4M248.3 158.0V169.2M248.8 156.4V169.2M249.3 155.7V166.6M249.8 163.6V170.3M250.3 166.2V169.1M250.8 162.4V168.3M251.3 162.4V169.2M251.8 164.3V170.8M252.3 161.9V170.8M252.8 155.8V166.6M253.3 155.4V164.6M253.8 159.4V171.5M254.3 158.7V169.2M254.8 159.7V165.6M255.3 153.9V167.4M255.8 153.9V167.1M256.4 160.2V169.5M256.9 160.6V166.1M257.4 159.5V169.1M257.9 159.7V167.1M258.4 161.2V173.0M258.9 161.1V173.4M259.4 159.6V169.8M259.9 156.1V170.3M260.4 161.3V166.4M260.9 159.3V166.4M261.4 155.9V163.7M261.9 156.6V168.8M262.4 156.6V167.8M262.9 164.9V168.8M263.4 160.4V167.9M263.9 159.2V171.1M264.4 159.9V169.5M264.9 156.8V171.4M265.4 159.2V170.5M265.9 159.6V171.0M266.4 159.7V170.7M266.9 163.4V169.0M267.4 157.4V169.0M267.9 162.4V171.4M268.4 165.5V177.4M268.9 164.7V171.3M269.4 162.7V171.3M269.9 164.2V170.6M270.4 165.7V175.6M270.9 164.5V172.4M271.4 162.8V169.0M271.9 166.2V171.2M272.4 165.6V170.3M272.9 162.8V170.3M273.4 166.0V173.8M273.9 168.9V177.6M274.4 171.1V177.6M274.9 166.8V174.6M275.4 160.1V172.1M275.9 160.1V173.9M276.4 161.4V171.6M276.9 160.7V171.6M277.4 161.4V169.2M277.9 163.7V177.1M278.4 165.1V174.0M278.9 163.8V173.9M279.4 167.4V174.1M279.9 170.1V174.2M280.4 163.3V175.3M280.9 164.1V173.3M281.4 168.1V173.4M281.9 167.1V175.3M282.4 166.4V175.3M282.9 158.7V174.4M283.4 158.7V166.5M283.9 153.3V168.7M284.4 153.3V165.2M284.9 156.1V169.8M285.4 164.0V169.8M285.9 159.3V167.8M286.4 162.9V171.6M286.9 164.7V173.9M287.4 165.6V174.8M287.9 169.1V177.1M288.4 165.5V177.8M288.9 168.5V175.8M289.4 166.1V173.7M289.9 162.9V173.7M290.4 168.6V176.4M290.9 169.9V176.3M291.4 162.6V174.2M291.9 169.3V182.1M292.4 172.4V182.1M292.9 173.5V181.9M293.4 173.1V184.0M293.9 170.6V184.0M294.4 170.6V178.6M294.9 172.2V176.8M295.4 169.9V180.5M295.9 169.9V175.0M296.4 168.2V174.5M296.9 171.6V181.3M297.4 172.0V181.3M297.9 167.3V179.0M298.4 173.6V181.5M298.9 174.3V180.4M299.4 173.9V181.4M299.9 174.8V183.0M300.4 178.5V187.0M300.9 176.1V182.8M301.4 176.5V183.5M301.9 177.9V186.0M302.4 171.2V186.6M302.9 179.1V186.6M303.4 170.3V179.6M303.9 173.3V179.5M304.4 172.2V180.5M304.9 169.5V177.6M305.4 171.7V178.7M305.9 173.5V177.2M306.4 170.3V177.7M306.9 173.0V179.2M307.4 174.4V181.3M307.9 170.3V180.6M308.4 172.2V185.7M308.9 170.1V177.1M309.4 173.9V180.5M309.9 174.2V183.6M310.4 171.3V178.8M310.9 168.3V178.8M311.4 171.8V181.6M311.9 170.4V176.2M312.4 168.1V175.2M312.9 168.0V178.3" fill="none" stroke="#0f9ff7" stroke-width="1.0" clip-path="url(#cC)"/>
<path d="M39.9 166.2V178.7M40.4 166.4V172.5M40.9 159.4V172.3M41.4 162.5V170.5M41.9 166.4V176.0M42.4 169.3V176.0M42.9 162.5V176.9M43.4 167.3V172.8M43.9 168.9V174.3M44.4 170.5V177.9M44.9 168.9V176.4M45.4 165.8V172.0M45.9 155.6V177.8M46.4 159.0V169.1M46.9 157.3V164.6M47.4 160.0V177.5M47.9 165.5V171.1M48.4 161.0V173.2M48.9 158.6V171.4M49.4 164.8V175.9M49.9 166.3V176.9M50.4 162.6V166.7M50.9 159.2V170.4M51.4 160.1V168.1M51.9 154.6V165.6M52.4 157.8V168.6M52.9 158.6V168.6M53.4 162.8V168.7M53.9 160.8V174.1M54.4 159.5V168.1M54.9 162.6V168.3M55.4 162.6V174.5M55.9 160.2V173.0M56.4 154.9V170.2M56.9 152.6V163.2M57.4 160.3V168.5M57.9 154.2V170.2M58.4 162.4V172.6M58.9 164.5V169.5M59.4 161.1V173.3M59.9 161.6V176.1M60.4 162.7V168.3M60.9 168.1V180.3M61.4 168.5V178.1M61.9 162.0V169.7M62.4 162.5V170.5M62.9 166.8V175.1M63.4 170.4V175.9M63.9 168.5V179.7M64.3 172.2V181.7M64.8 172.1V179.3M65.3 171.1V176.2M65.8 172.1V183.2M66.3 174.5V180.6M66.8 177.0V186.3M67.3 176.3V183.4M67.8 179.8V186.5M68.3 174.8V186.3M68.8 180.5V187.4M69.3 180.2V188.7M69.8 179.9V190.4M70.3 182.0V188.5M70.8 180.7V186.8M71.3 180.2V186.5M71.8 177.0V191.8M72.3 180.8V191.8M72.8 182.5V190.6M73.3 184.2V195.5M73.8 182.7V190.5M74.3 182.9V190.6M74.8 178.6V187.4M75.3 178.9V186.1M75.8 181.6V189.4M76.3 181.5V186.8M76.8 182.4V185.7M77.3 179.5V186.9M77.8 183.6V187.1M78.3 183.1V191.0M78.8 183.2V197.0M79.3 183.7V190.9M79.8 184.1V193.7M80.3 181.8V188.9M80.8 185.0V190.8M81.3 180.1V191.8M81.8 178.0V188.5M82.3 181.3V186.0M82.8 184.0V192.1M83.3 186.3V195.9M83.8 183.7V189.3M84.3 184.1V199.5M84.8 183.2V192.5M85.3 183.3V190.2M85.8 186.9V194.6M86.3 180.7V193.7M86.8 181.1V194.4M87.3 181.1V186.6M87.8 180.1V187.0M88.3 178.3V185.8M88.8 177.3V186.0M89.3 184.2V192.2M89.8 176.7V192.2M90.3 179.5V190.0M90.8 179.0V188.1M91.3 179.0V190.9M91.8 183.7V192.9M92.3 177.5V187.6M92.8 183.8V193.7M93.3 185.4V192.3M93.8 182.6V192.3M94.3 182.1V191.8M94.8 179.1V189.3M95.3 185.2V192.4M95.8 185.2V199.7M96.3 184.5V196.7M96.8 185.6V191.4M97.3 184.2V193.0M97.8 178.6V189.1M98.3 178.8V192.7M98.8 178.6V190.6M99.3 179.2V186.9M99.8 184.0V189.9M100.3 181.9V188.4M100.8 176.7V186.9M101.3 184.6V190.2M101.8 183.8V191.1M102.3 183.5V195.6M102.8 175.2V187.2M103.3 180.9V188.9M103.8 185.1V192.6M104.3 172.5V186.4M104.8 179.7V186.0M105.3 178.7V190.2M105.8 177.3V190.5M106.3 175.2V183.8M106.8 180.2V185.6M107.3 177.2V184.7M107.8 177.5V183.1M108.3 176.4V182.7M108.8 174.0V186.7M109.3 170.5V182.9M109.8 173.8V184.2M110.3 179.8V189.7M110.8 177.4V187.1M111.3 177.1V193.6M111.8 178.6V186.3M112.3 176.6V185.2M112.8 178.4V186.5M113.3 176.9V182.0M113.8 176.1V183.1M114.3 176.4V185.4M114.8 173.7V184.5M115.3 179.7V189.3M115.8 183.5V187.2M116.3 177.3V187.0M116.8 179.8V188.3M117.3 177.9V188.6M117.8 180.2V186.1M118.3 179.6V189.5M118.8 176.7V184.2M119.3 181.9V185.8M119.8 183.7V187.2M120.3 174.2V189.2M120.8 174.2V185.3M121.3 183.6V191.0M121.8 178.7V188.9M122.3 180.0V184.0M122.8 176.0V185.2M123.3 177.6V183.0M123.8 176.8V190.7M124.3 183.2V189.8M124.8 180.7V188.5M125.3 174.2V187.9M125.8 171.9V183.5M126.3 176.7V184.8M126.8 176.7V183.2M127.3 175.7V181.8M127.8 176.0V180.5M128.3 170.9V180.2M128.8 170.9V184.7M129.3 171.8V184.0M129.8 181.4V189.6M130.3 184.3V188.2M130.8 181.6V197.6M131.3 183.9V193.7M131.8 184.5V192.6M132.3 186.7V190.5M132.8 186.7V193.7M133.3 188.7V197.0M133.8 191.3V199.9M134.3 186.3V198.8M134.8 186.0V192.6M135.3 185.1V192.6M135.8 180.5V192.3M136.3 180.5V195.4M136.8 190.3V201.1M137.3 185.4V194.1M137.8 186.9V197.6M138.3 183.1V191.6M138.8 184.8V191.2M139.3 176.1V191.1M139.8 178.2V186.4M140.3 181.3V189.7M140.8 176.6V187.4M141.3 175.7V184.6M141.8 176.0V186.2M142.3 175.4V182.2M142.8 173.4V182.9M143.3 172.3V181.4M143.8 171.8V180.8M144.3 170.1V181.4M144.8 168.8V180.7M145.3 169.7V182.1M145.8 170.9V187.3M146.3 176.7V180.3M146.8 171.5V180.0M147.3 175.9V181.4M147.8 174.8V181.4M148.3 174.8V182.1M148.8 175.8V186.8M149.3 177.7V185.2M149.8 174.9V183.2M150.3 172.8V180.9M150.8 171.9V185.3M151.3 174.1V182.1M151.8 177.1V183.7M152.3 172.8V185.8M152.8 170.5V183.0M153.3 174.1V180.1M153.8 172.3V178.7M154.3 169.3V178.8M154.8 173.4V177.8M155.3 176.7V182.4M155.8 176.6V185.6M156.3 174.2V185.6M156.8 176.6V183.2M157.3 176.4V182.6M157.8 172.7V182.6M158.3 169.0V179.2M158.8 168.7V175.6M159.3 172.1V179.4M159.8 168.9V183.4M160.3 177.2V182.5M160.8 171.3V181.5M161.3 165.1V181.3M161.8 171.9V177.8M162.3 174.4V182.7M162.8 173.9V181.3M163.3 173.4V180.7M163.8 176.7V180.7M164.3 173.6V181.8M164.8 178.3V192.3M165.3 179.7V189.3M165.8 179.7V190.0M166.3 184.7V189.0M166.8 184.1V190.4M167.3 170.1V186.2M167.8 178.1V183.4M168.3 177.6V184.2M168.8 174.1V178.2M169.3 173.2V179.1M169.8 170.4V179.8M170.3 171.9V178.7M170.8 170.3V181.6M171.3 168.9V176.2M171.8 172.1V178.4M172.3 172.0V177.1M172.8 169.0V181.6M173.3 166.1V171.0M173.8 166.1V175.1M174.3 166.1V172.3M174.8 161.4V172.1M175.3 158.8V168.8M175.8 162.9V172.5M176.3 160.1V173.2M176.8 159.2V174.8M177.3 160.6V173.7M177.8 166.4V177.0M178.3 169.6V179.0M178.8 172.4V179.6M179.3 165.9V177.2M179.8 159.3V173.0M180.3 159.3V175.0M180.8 168.4V172.5M181.3 168.7V176.2M181.8 164.1V172.1M182.3 164.1V172.7M182.8 167.2V177.6M183.3 169.8V176.2M183.8 169.5V176.9M184.3 167.0V178.3M184.8 173.2V183.1M185.3 174.1V180.6M185.8 174.8V182.3M186.3 177.5V184.7M186.8 167.4V180.9M187.3 170.7V178.4M187.8 170.7V179.9M188.3 174.1V184.3M188.8 170.3V178.3M189.3 168.0V179.5M189.8 174.3V179.6M190.3 167.3V178.9M190.8 170.2V181.0M191.3 171.1V184.1M191.8 165.6V174.2M192.3 166.9V177.1M192.8 165.7V177.1M193.3 164.9V175.7M193.8 167.1V174.3M194.3 167.1V173.1M194.8 165.3V174.0M195.3 168.8V176.7M195.8 167.3V175.2M196.3 167.6V175.1M196.8 163.5V175.0M197.3 162.5V171.6M197.8 165.0V176.9M198.3 166.6V173.2M198.8 164.2V172.6M199.3 157.6V166.4M199.8 157.6V164.0M200.3 157.0V162.2M200.8 151.4V164.4M201.3 159.5V164.4M201.8 160.4V165.4M202.3 154.5V163.9M202.8 154.5V161.2M203.3 157.3V165.7M203.8 159.7V166.4M204.3 158.5V165.4M204.8 154.9V161.1M205.3 160.0V164.7M205.8 153.1V163.9M206.3 156.7V163.8M206.8 150.6V163.9M207.3 155.0V168.2M207.8 152.0V164.4M208.3 162.1V168.4M208.8 158.1V167.6M209.3 158.4V169.0M209.8 159.4V169.5M210.3 156.2V163.9M210.8 162.2V171.9M211.3 160.2V169.9M211.8 160.0V164.9M212.3 164.8V172.4M212.8 164.1V174.9M213.3 162.8V170.3M213.8 164.2V172.8M214.3 158.6V168.0M214.8 157.3V166.8M215.3 161.3V172.5M215.8 160.7V169.4M216.3 159.0V170.7M216.8 165.3V173.3M217.3 157.9V171.6M217.8 161.8V168.9M218.3 158.1V167.4M218.8 161.0V168.7M219.3 161.0V169.3M219.8 165.7V171.7M220.3 163.6V176.3M220.8 160.1V165.2M221.3 161.3V172.9M221.8 151.4V168.3M222.3 157.3V164.9M222.8 159.7V169.6M223.3 160.0V166.0M223.8 160.8V171.8M224.3 157.3V172.8M224.8 161.7V174.1M225.3 164.3V172.1M225.8 164.3V171.0M226.3 163.3V171.0M226.8 161.7V174.3M227.3 166.0V172.9M227.8 156.3V168.8M228.3 161.6V168.2M228.8 166.0V176.6M229.3 168.2V173.9M229.8 160.1V172.2M230.3 162.0V170.5M230.8 160.4V171.0M231.3 157.6V171.0M231.8 160.6V172.2M232.3 162.7V173.5M232.8 168.7V176.9M233.3 169.0V172.8M233.8 170.6V181.6M234.3 165.8V176.2M234.8 166.1V173.9M235.3 160.3V174.3M235.8 165.7V172.0M236.3 164.6V176.2M236.8 161.9V173.5M237.3 162.9V169.9M237.8 162.5V172.5M238.3 165.2V173.8M238.8 164.5V173.1M239.3 164.4V171.1M239.8 156.7V172.8M240.3 164.8V170.4M240.8 169.6V178.8M241.3 161.8V177.2M241.8 164.8V172.2M242.3 164.8V176.0M242.8 174.3V182.1M243.3 173.0V184.3M243.8 177.2V187.0M244.3 177.2V189.9M244.8 173.6V184.8M245.3 176.9V187.0M245.8 178.3V183.9M246.3 176.3V185.1M246.8 172.9V182.9M247.3 172.9V186.7M247.8 179.3V188.6M248.3 176.0V190.7M248.8 173.7V188.2M249.3 171.2V177.0M249.8 170.6V178.5M250.3 172.7V181.3M250.8 173.2V181.9M251.3 175.2V185.5M251.8 169.1V182.4M252.3 167.8V179.4M252.8 167.8V179.7M253.3 173.5V182.8M253.8 171.4V178.4M254.3 173.0V184.8M254.8 171.7V184.2M255.3 171.7V180.5M255.8 174.2V182.8M256.4 171.9V182.8M256.9 175.3V185.5M257.4 182.4V187.8M257.9 173.1V188.4M258.4 175.0V185.5M258.9 171.3V181.1M259.4 171.6V182.6M259.9 167.8V180.0M260.4 174.6V185.9M260.9 175.4V185.1M261.4 174.9V180.4M261.9 173.8V185.7M262.4 170.9V182.1M262.9 180.0V191.3M263.4 171.4V184.0M263.9 171.4V187.0M264.4 175.5V187.0M264.9 179.2V186.3M265.4 183.4V194.1M265.9 178.2V190.7M266.4 183.8V190.0M266.9 187.7V190.9M267.4 188.7V196.7M267.9 189.3V196.7M268.4 184.7V192.5M268.9 179.8V192.6M269.4 181.4V188.5M269.9 182.2V186.7M270.4 176.9V185.4M270.9 181.8V189.9M271.4 182.0V192.7M271.9 181.8V186.3M272.4 181.9V189.6M272.9 178.8V192.6M273.4 185.4V196.2M273.9 187.9V197.1M274.4 184.0V192.3M274.9 184.1V197.4M275.4 181.8V190.3M275.9 181.3V191.3M276.4 183.5V189.8M276.9 177.9V185.9M277.4 176.6V183.5M277.9 176.9V192.5M278.4 175.2V184.4M278.9 176.9V182.5M279.4 172.4V180.7M279.9 173.9V181.5M280.4 177.2V189.5M280.9 175.9V183.3M281.4 171.2V180.1M281.9 169.1V178.3M282.4 169.1V178.3M282.9 171.0V179.9M283.4 171.0V180.8M283.9 174.6V189.5M284.4 178.0V190.7M284.9 174.2V184.0M285.4 172.8V183.2M285.9 180.3V186.8M286.4 180.3V186.4M286.9 180.0V191.6M287.4 181.9V192.5M287.9 181.1V189.8M288.4 182.0V190.2M288.9 182.0V194.9M289.4 187.5V195.5M289.9 181.3V193.4M290.4 182.1V194.9M290.9 184.7V192.2M291.4 181.4V191.2M291.9 178.2V187.2M292.4 175.9V190.0M292.9 180.8V187.7M293.4 181.7V191.6M293.9 185.1V194.3M294.4 181.8V191.4M294.9 184.1V188.3M295.4 178.9V185.0M295.9 181.5V193.4M296.4 181.1V190.9M296.9 182.1V191.9M297.4 182.3V193.9M297.9 186.1V196.1M298.4 185.9V193.2M298.9 185.1V189.2M299.4 179.5V194.2M299.9 183.8V193.7M300.4 183.2V196.7M300.9 181.5V189.7M301.4 186.7V197.1M301.9 182.9V190.9M302.4 176.0V190.9M302.9 180.3V190.2M303.4 181.1V190.6M303.9 180.4V189.1M304.4 183.5V190.3M304.9 178.8V193.2M305.4 187.6V192.4M305.9 189.2V196.1M306.4 188.2V195.7M306.9 184.7V199.6M307.4 189.6V199.6M307.9 184.3V195.5M308.4 186.5V194.8M308.9 190.9V196.3M309.4 189.7V199.3M309.9 189.6V199.9M310.4 192.3V202.9M310.9 192.0V202.9M311.4 190.1V196.2M311.9 190.6V199.0M312.4 190.1V198.5M312.9 189.7V199.2" fill="none" stroke="#f5822a" stroke-width="1.0" clip-path="url(#cC)"/>
<path d="M39.5 130.5H312.0V227.5H39.5Z" fill="none" stroke="#1c1c1c" stroke-width="1"/>
<path d="M36.70 215.38H39.5M36.70 191.12H39.5M36.70 166.87H39.5M36.70 142.62H39.5M38.10 227.50H39.5M38.10 203.25H39.5M38.10 179.00H39.5M38.10 154.75H39.5M38.10 130.50H39.5M39.50 227.5V230.30M94.00 227.5V230.30M148.50 227.5V230.30M203.00 227.5V230.30M257.50 227.5V230.30M312.00 227.5V230.30M66.75 227.5V228.90M121.25 227.5V228.90M175.75 227.5V228.90M230.25 227.5V228.90M284.75 227.5V228.90" stroke="#1c1c1c" stroke-width="1"/>
<text x="34.0" y="215.38" font-size="8.6" text-anchor="end" dominant-baseline="central">2.28</text>
<text x="34.0" y="191.12" font-size="8.6" text-anchor="end" dominant-baseline="central">2.32</text>
<text x="34.0" y="166.87" font-size="8.6" text-anchor="end" dominant-baseline="central">2.36</text>
<text x="34.0" y="142.62" font-size="8.6" text-anchor="end" dominant-baseline="central">2.40</text>
<text x="39.50" y="235.3" font-size="8.6" text-anchor="middle" dominant-baseline="central">0</text>
<text x="94.00" y="235.3" font-size="8.6" text-anchor="middle" dominant-baseline="central">20</text>
<text x="148.50" y="235.3" font-size="8.6" text-anchor="middle" dominant-baseline="central">40</text>
<text x="203.00" y="235.3" font-size="8.6" text-anchor="middle" dominant-baseline="central">60</text>
<text x="257.50" y="235.3" font-size="8.6" text-anchor="middle" dominant-baseline="central">80</text>
<text x="312.00" y="235.3" font-size="8.6" text-anchor="middle" dominant-baseline="central">100</text>
<text x="41.8" y="142.3" font-size="13">C</text>
<text x="155.5" y="247.3" font-size="11.3" textLength="39.8" lengthAdjust="spacingAndGlyphs">Time (ns)</text>
<text transform="translate(8.6,194.6) rotate(-90)" font-size="11" textLength="36" lengthAdjust="spacingAndGlyphs">Rg (nm)</text>
<path d="M39.9 311.1V335.0M40.4 303.3V311.1M40.9 300.9V307.8M41.4 297.1V313.7M41.9 309.1V313.7M42.4 295.9V309.1M42.9 299.5V305.0M43.4 300.0V305.3M43.9 300.6V304.2M44.4 298.0V304.4M44.9 295.3V303.4M45.4 295.8V306.8M45.9 298.7V304.5M46.4 297.8V301.9M46.9 297.6V309.3M47.4 299.0V304.0M47.9 296.1V304.7M48.4 290.8V305.6M48.9 291.3V300.9M49.4 289.5V308.6M49.9 303.3V310.6M50.4 300.7V314.7M50.9 299.3V304.3M51.4 298.4V305.5M51.9 298.9V305.5M52.4 288.1V301.7M52.9 291.1V300.5M53.4 289.2V293.7M53.9 284.6V294.8M54.4 284.4V294.9M54.9 284.2V294.8M55.4 284.2V291.9M55.9 282.7V286.8M56.4 278.5V290.2M56.9 284.2V292.2M57.4 282.6V293.4M57.9 282.2V289.4M58.4 287.8V294.3M58.9 280.5V289.1M59.4 281.9V289.9M59.9 285.6V289.0M60.4 283.8V292.7M60.9 286.1V296.0M61.4 286.2V294.4M61.9 290.3V299.0M62.4 286.2V299.0M62.9 280.3V291.3M63.4 287.3V296.4M63.9 282.0V292.4M64.3 282.0V295.9M64.8 284.8V295.1M65.3 286.0V294.8M65.8 287.2V298.4M66.3 277.7V298.1M66.8 288.4V296.4M67.3 284.6V290.7M67.8 286.3V294.6M68.3 286.1V294.1M68.8 288.2V297.3M69.3 285.9V297.2M69.8 279.9V294.4M70.3 284.1V296.7M70.8 284.1V294.0M71.3 279.3V292.4M71.8 287.1V292.9M72.3 290.0V299.6M72.8 296.4V302.5M73.3 290.8V298.4M73.8 293.8V307.3M74.3 291.9V307.3M74.8 287.6V300.3M75.3 287.6V300.3M75.8 295.6V310.3M76.3 293.9V310.0M76.8 291.0V307.5M77.3 296.3V302.1M77.8 299.0V306.7M78.3 297.6V305.5M78.8 293.0V302.8M79.3 295.5V304.5M79.8 299.3V304.7M80.3 296.6V301.6M80.8 293.7V301.1M81.3 297.9V311.3M81.8 291.2V310.9M82.3 296.6V306.7M82.8 294.0V302.3M83.3 298.8V306.1M83.8 298.9V311.3M84.3 298.9V308.0M84.8 301.3V308.0M85.3 304.2V309.2M85.8 292.7V312.0M86.3 296.9V302.7M86.8 298.7V304.6M87.3 298.7V306.7M87.8 304.2V309.0M88.3 299.9V309.0M88.8 299.9V308.3M89.3 301.0V307.2M89.8 297.9V306.1M90.3 298.8V305.3M90.8 305.3V310.2M91.3 296.0V305.8M91.8 295.2V300.7M92.3 291.3V305.0M92.8 301.8V307.2M93.3 295.4V311.8M93.8 297.5V314.5M94.3 295.6V303.3M94.8 291.7V302.6M95.3 293.0V306.9M95.8 296.6V307.6M96.3 297.4V302.1M96.8 286.1V299.2M97.3 292.0V302.0M97.8 294.1V302.0M98.3 296.0V300.9M98.8 289.4V300.2M99.3 289.4V302.2M99.8 290.4V298.0M100.3 291.5V297.6M100.8 292.8V299.2M101.3 291.6V299.6M101.8 292.4V302.0M102.3 289.1V302.0M102.8 289.1V301.5M103.3 295.0V303.3M103.8 290.5V303.7M104.3 302.0V313.5M104.8 303.5V312.3M105.3 303.8V311.9M105.8 306.8V315.4M106.3 307.4V314.2M106.8 306.8V313.7M107.3 306.9V315.1M107.8 302.9V317.4M108.3 312.4V319.8M108.8 311.0V320.4M109.3 311.3V317.8M109.8 309.7V316.1M110.3 312.4V322.1M110.8 308.4V320.0M111.3 312.2V316.7M111.8 309.9V318.8M112.3 307.9V318.8M112.8 306.2V316.8M113.3 306.7V321.1M113.8 309.1V316.3M114.3 309.4V319.6M114.8 313.1V325.2M115.3 308.8V319.4M115.8 308.8V317.2M116.3 310.8V316.8M116.8 308.6V320.5M117.3 314.1V324.0M117.8 305.2V324.0M118.3 301.8V311.2M118.8 306.8V317.6M119.3 301.9V314.3M119.8 307.2V321.3M120.3 306.3V312.5M120.8 301.2V311.4M121.3 301.3V311.1M121.8 309.4V314.8M122.3 308.0V313.4M122.8 303.3V321.9M123.3 309.0V314.7M123.8 308.7V323.3M124.3 308.7V319.2M124.8 310.3V317.3M125.3 305.5V316.0M125.8 298.7V305.9M126.3 299.4V311.4M126.8 298.7V309.3M127.3 303.6V309.6M127.8 301.2V308.9M128.3 301.2V310.5M128.8 301.7V311.2M129.3 305.1V310.8M129.8 298.7V311.7M130.3 305.2V312.7M130.8 305.2V315.4M131.3 302.9V314.6M131.8 302.4V311.4M132.3 310.7V318.5M132.8 306.3V320.6M133.3 305.6V315.9M133.8 305.6V314.6M134.3 310.2V321.5M134.8 311.8V316.2M135.3 305.0V318.2M135.8 305.6V314.2M136.3 307.7V318.5M136.8 312.9V322.2M137.3 299.6V316.9M137.8 305.2V315.2M138.3 304.7V320.7M138.8 312.4V319.5M139.3 307.4V312.8M139.8 309.2V317.4M140.3 311.8V320.1M140.8 308.6V319.6M141.3 308.3V320.7M141.8 307.7V316.2M142.3 309.2V313.5M142.8 307.3V311.9M143.3 307.4V315.3M143.8 305.3V316.6M144.3 306.4V316.7M144.8 304.6V312.4M145.3 297.5V307.9M145.8 300.3V309.2M146.3 304.9V308.0M146.8 306.5V316.8M147.3 307.0V316.7M147.8 297.2V313.1M148.3 299.1V309.6M148.8 306.7V315.0M149.3 306.1V314.5M149.8 310.0V318.7M150.3 303.4V314.6M150.8 299.9V305.8M151.3 299.9V314.6M151.8 307.2V311.4M152.3 300.8V310.9M152.8 300.8V318.1M153.3 299.5V312.3M153.8 302.2V310.9M154.3 296.8V310.1M154.8 297.2V305.4M155.3 298.2V311.5M155.8 305.4V314.8M156.3 296.6V307.9M156.8 296.6V307.4M157.3 300.2V308.9M157.8 296.2V302.1M158.3 291.7V300.4M158.8 294.7V305.2M159.3 296.8V306.6M159.8 296.9V303.5M160.3 296.8V303.5M160.8 296.6V303.6M161.3 298.9V310.6M161.8 297.3V310.6M162.3 297.3V307.9M162.8 296.5V305.8M163.3 301.8V310.2M163.8 303.2V310.0M164.3 299.4V311.5M164.8 303.3V319.6M165.3 303.2V315.1M165.8 303.2V310.2M166.3 301.4V311.4M166.8 301.9V308.2M167.3 303.2V310.0M167.8 304.1V308.7M168.3 305.7V312.5M168.8 306.1V319.8M169.3 306.6V313.3M169.8 306.3V313.3M170.3 299.6V318.1M170.8 310.1V318.1M171.3 310.5V319.8M171.8 306.9V314.5M172.3 304.1V310.6M172.8 300.7V308.1M173.3 305.5V309.2M173.8 300.5V312.1M174.3 298.4V312.1M174.8 301.4V309.4M175.3 296.2V304.7M175.8 300.9V306.1M176.3 296.3V304.6M176.8 300.2V313.5M177.3 295.1V313.9M177.8 303.5V311.2M178.3 305.4V308.4M178.8 302.7V308.0M179.3 301.9V311.6M179.8 306.6V311.0M180.3 304.5V311.6M180.8 304.5V317.9M181.3 305.7V317.9M181.8 301.7V310.8M182.3 306.1V313.2M182.8 304.3V313.2M183.3 300.5V308.2M183.8 293.7V305.7M184.3 298.0V312.7M184.8 296.3V306.5M185.3 304.9V309.6M185.8 308.9V313.7M186.3 308.9V315.0M186.8 311.0V319.4M187.3 305.6V315.7M187.8 305.1V312.7M188.3 307.7V314.2M188.8 304.6V310.9M189.3 303.4V309.5M189.8 306.6V314.8M190.3 312.3V316.6M190.8 312.7V319.4M191.3 307.9V318.8M191.8 306.3V317.0M192.3 302.3V313.8M192.8 305.2V314.8M193.3 303.3V312.0M193.8 303.4V314.9M194.3 302.8V312.3M194.8 303.6V313.3M195.3 307.6V316.6M195.8 308.6V314.9M196.3 304.9V314.2M196.8 307.2V318.9M197.3 296.8V312.5M197.8 305.2V313.4M198.3 305.1V311.3M198.8 305.4V311.3M199.3 306.7V313.8M199.8 307.0V316.2M200.3 302.5V310.1M200.8 299.6V311.8M201.3 299.6V305.0M201.8 304.2V313.5M202.3 308.5V314.1M202.8 293.1V311.5M203.3 293.1V308.3M203.8 300.1V312.6M204.3 306.7V312.6M204.8 307.1V312.6M205.3 300.1V316.3M205.8 307.9V312.7M206.3 306.5V314.9M206.8 310.6V317.4M207.3 312.3V318.9M207.8 307.1V318.6M208.3 304.3V308.8M208.8 308.0V316.0M209.3 308.8V314.8M209.8 306.8V321.6M210.3 312.9V319.3M210.8 312.8V318.6M211.3 313.0V323.7M211.8 308.5V319.8M212.3 303.8V316.0M212.8 303.9V314.4M213.3 306.9V314.4M213.8 306.0V311.8M214.3 303.9V318.6M214.8 303.9V318.7M215.3 307.8V317.4M215.8 306.3V315.1M216.3 302.7V311.1M216.8 295.7V311.1M217.3 295.7V304.1M217.8 303.0V312.9M218.3 305.3V310.6M218.8 302.0V310.6M219.3 296.8V308.5M219.8 298.0V307.0M220.3 295.4V302.7M220.8 301.4V306.4M221.3 302.4V310.6M221.8 300.6V311.7M222.3 308.0V316.3M222.8 303.5V315.9M223.3 303.1V315.0M223.8 305.2V311.6M224.3 305.7V314.7M224.8 298.0V315.8M225.3 298.0V310.3M225.8 308.0V315.4M226.3 300.9V312.2M226.8 305.7V313.9M227.3 309.8V322.5M227.8 308.7V316.0M228.3 311.7V317.9M228.8 311.7V315.4M229.3 305.9V317.0M229.8 307.0V313.8M230.3 308.1V317.6M230.8 307.6V318.5M231.3 314.0V321.8M231.8 307.0V316.7M232.3 305.2V312.2M232.8 301.0V316.2M233.3 305.0V314.5M233.8 311.1V315.9M234.3 312.4V317.3M234.8 313.3V323.5M235.3 310.3V323.1M235.8 313.6V320.2M236.3 314.5V322.8M236.8 311.7V320.2M237.3 311.7V321.3M237.8 316.9V319.9M238.3 313.9V326.0M238.8 311.4V320.1M239.3 312.2V323.4M239.8 313.1V324.7M240.3 310.2V319.7M240.8 316.5V326.8M241.3 318.3V324.0M241.8 318.3V331.6M242.3 321.8V329.2M242.8 318.1V324.3M243.3 320.0V328.7M243.8 319.7V330.5M244.3 314.6V322.4M244.8 312.8V321.9M245.3 312.8V321.7M245.8 314.9V323.3M246.3 310.8V323.4M246.8 309.2V317.7M247.3 311.3V324.5M247.8 311.3V320.1M248.3 314.1V322.0M248.8 315.8V324.7M249.3 313.8V320.4M249.8 314.5V320.6M250.3 316.7V322.0M250.8 315.9V326.2M251.3 316.8V329.3M251.8 315.1V329.3M252.3 316.4V325.8M252.8 316.8V324.5M253.3 317.2V323.8M253.8 314.8V326.9M254.3 313.7V323.1M254.8 309.7V323.1M255.3 313.9V323.1M255.8 320.7V326.3M256.4 314.4V327.4M256.9 315.3V321.0M257.4 314.6V324.1M257.9 318.3V326.7M258.4 316.7V327.6M258.9 318.4V325.6M259.4 312.6V320.6M259.9 312.6V331.2M260.4 311.7V326.2M260.9 314.6V317.3M261.4 316.5V321.5M261.9 316.5V322.1M262.4 307.9V319.7M262.9 306.9V314.7M263.4 311.4V321.8M263.9 314.2V322.4M264.4 310.2V322.4M264.9 311.7V317.3M265.4 311.3V317.7M265.9 307.9V317.8M266.4 315.9V323.1M266.9 310.6V321.2M267.4 310.2V316.7M267.9 310.1V321.6M268.4 315.5V322.0M268.9 311.6V319.6M269.4 309.2V318.4M269.9 308.9V318.8M270.4 308.5V313.0M270.9 309.0V316.7M271.4 311.6V321.5M271.9 306.6V312.8M272.4 300.6V319.3M272.9 306.4V313.4M273.4 303.3V320.9M273.9 302.9V309.0M274.4 308.4V314.3M274.9 307.4V312.5M275.4 305.5V313.0M275.9 308.0V313.0M276.4 304.2V312.0M276.9 304.2V313.9M277.4 301.8V313.5M277.9 305.2V313.0M278.4 308.5V313.6M278.9 301.9V317.4M279.4 304.0V317.4M279.9 313.2V320.7M280.4 310.8V320.7M280.9 300.8V314.0M281.4 300.8V314.0M281.9 308.0V323.3M282.4 312.0V321.4M282.9 312.4V321.5M283.4 306.5V320.2M283.9 309.2V317.7M284.4 307.7V313.1M284.9 310.6V315.2M285.4 304.1V314.9M285.9 302.8V310.0M286.4 297.5V309.1M286.9 304.1V312.7M287.4 302.2V308.9M287.9 301.4V311.0M288.4 302.2V311.0M288.9 306.0V314.6M289.4 308.7V317.2M289.9 306.4V317.2M290.4 311.8V322.8M290.9 312.4V320.9M291.4 308.8V319.7M291.9 313.0V320.5M292.4 313.9V322.9M292.9 311.6V322.9M293.4 306.5V318.0M293.9 309.1V323.9M294.4 311.7V326.9M294.9 306.5V326.2M295.4 310.8V320.8M295.9 308.1V319.8M296.4 313.0V321.0M296.9 310.6V321.7M297.4 311.7V314.5M297.9 307.9V315.6M298.4 307.9V315.0M298.9 311.2V318.7M299.4 314.4V320.9M299.9 308.7V318.9M300.4 311.9V320.0M300.9 313.6V321.5M301.4 312.7V319.5M301.9 303.9V320.2M302.4 307.7V322.0M302.9 311.8V326.0M303.4 312.1V323.5M303.9 309.7V319.2M304.4 304.3V318.3M304.9 305.8V312.5M305.4 305.8V320.1M305.9 315.6V320.3M306.4 310.5V320.4M306.9 308.7V317.0M307.4 306.7V315.3M307.9 311.2V318.7M308.4 306.8V319.9M308.9 302.5V311.0M309.4 304.8V315.4M309.9 308.5V318.5M310.4 308.5V314.4M310.9 307.0V319.3M311.4 308.3V313.2M311.9 302.2V312.8M312.4 302.3V313.0" fill="none" stroke="#f5822a" stroke-width="1.0" clip-path="url(#cE)"/>
<path d="M39.9 278.7V292.4M40.4 282.4V292.0M40.9 288.4V295.9M41.4 280.0V298.0M41.9 288.1V295.8M42.4 290.3V293.3M42.9 286.1V294.4M43.4 285.0V292.6M43.9 289.3V298.7M44.4 287.8V296.1M44.9 281.1V292.5M45.4 281.1V297.1M45.9 283.3V298.6M46.4 288.8V300.6M46.9 284.7V293.6M47.4 283.2V302.0M47.9 283.2V295.2M48.4 284.0V298.0M48.9 289.0V300.3M49.4 284.2V296.1M49.9 290.2V302.0M50.4 297.4V304.4M50.9 286.0V298.0M51.4 288.7V295.2M51.9 286.9V294.8M52.4 288.2V297.8M52.9 286.7V295.7M53.4 282.9V295.0M53.9 283.8V298.5M54.4 293.2V297.5M54.9 294.9V299.2M55.4 292.8V302.8M55.9 291.6V301.1M56.4 295.7V307.7M56.9 293.9V302.3M57.4 286.3V298.1M57.9 286.3V303.3M58.4 295.0V306.0M58.9 293.3V300.0M59.4 295.1V303.4M59.9 298.0V307.9M60.4 296.2V304.6M60.9 293.7V303.3M61.4 296.2V301.5M61.9 297.2V307.3M62.4 296.1V307.3M62.9 296.8V305.4M63.4 291.7V299.1M63.9 294.8V305.7M64.3 294.6V308.9M64.8 294.7V300.6M65.3 296.7V303.7M65.8 300.4V309.1M66.3 301.0V311.3M66.8 292.9V305.5M67.3 288.2V297.1M67.8 284.0V292.1M68.3 291.2V299.5M68.8 287.7V298.9M69.3 296.1V304.4M69.8 297.0V304.4M70.3 295.9V301.4M70.8 288.3V301.9M71.3 283.4V298.8M71.8 292.4V299.9M72.3 282.9V294.5M72.8 290.6V297.0M73.3 291.3V295.0M73.8 290.5V296.5M74.3 296.4V301.5M74.8 291.4V298.9M75.3 286.5V298.2M75.8 288.1V301.9M76.3 294.8V299.9M76.8 285.7V304.8M77.3 286.4V299.6M77.8 286.7V303.1M78.3 286.7V297.0M78.8 295.6V305.5M79.3 298.1V305.2M79.8 293.8V304.9M80.3 292.0V300.7M80.8 297.0V301.6M81.3 289.2V301.1M81.8 291.1V300.9M82.3 292.5V300.9M82.8 291.5V303.3M83.3 289.0V297.9M83.8 289.0V295.7M84.3 289.3V301.2M84.8 290.1V301.2M85.3 286.7V299.1M85.8 285.8V293.9M86.3 290.0V298.5M86.8 293.9V302.6M87.3 290.9V306.8M87.8 286.5V295.3M88.3 289.1V300.9M88.8 292.4V299.0M89.3 292.8V301.3M89.8 285.7V303.5M90.3 286.9V297.7M90.8 284.2V295.4M91.3 294.8V302.6M91.8 294.9V302.6M92.3 289.3V295.6M92.8 286.6V302.8M93.3 294.4V305.4M93.8 295.0V301.4M94.3 294.5V304.6M94.8 293.8V303.1M95.3 296.8V306.7M95.8 293.3V301.9M96.3 296.6V305.4M96.8 296.1V301.4M97.3 293.1V299.2M97.8 292.1V301.3M98.3 288.4V296.3M98.8 292.8V298.9M99.3 289.6V298.3M99.8 291.9V300.8M100.3 286.9V297.0M100.8 286.4V301.2M101.3 291.6V301.7M101.8 294.0V305.5M102.3 297.6V305.5M102.8 297.6V311.6M103.3 301.5V308.5M103.8 302.2V312.2M104.3 294.1V308.9M104.8 293.0V308.4M105.3 297.7V308.4M105.8 292.0V303.7M106.3 293.3V303.0M106.8 293.3V299.6M107.3 292.3V306.9M107.8 292.1V304.6M108.3 299.2V307.0M108.8 295.8V304.0M109.3 296.6V304.4M109.8 297.0V304.0M110.3 296.5V310.7M110.8 300.9V309.3M111.3 304.5V310.6M111.8 303.7V316.4M112.3 300.4V308.9M112.8 298.6V306.1M113.3 299.0V307.2M113.8 301.7V310.9M114.3 296.3V310.6M114.8 296.5V303.6M115.3 295.0V300.5M115.8 293.6V298.7M116.3 292.8V302.7M116.8 290.2V300.0M117.3 290.0V299.6M117.8 292.9V303.5M118.3 291.8V303.5M118.8 289.7V299.8M119.3 287.5V295.5M119.8 287.5V296.1M120.3 289.0V296.1M120.8 289.0V297.8M121.3 289.0V295.7M121.8 289.7V300.2M122.3 288.4V296.3M122.8 285.3V294.2M123.3 278.5V289.8M123.8 278.5V296.4M124.3 290.0V297.7M124.8 291.0V297.3M125.3 282.5V294.3M125.8 282.5V296.4M126.3 283.5V303.2M126.8 291.2V297.3M127.3 290.3V297.0M127.8 282.2V294.1M128.3 283.9V290.7M128.8 288.5V292.3M129.3 284.2V293.5M129.8 284.3V293.4M130.3 289.5V295.9M130.8 289.2V297.6M131.3 283.7V294.5M131.8 287.5V291.5M132.3 285.5V295.4M132.8 281.9V291.1M133.3 289.3V295.7M133.8 285.8V294.6M134.3 291.1V304.3M134.8 284.1V301.8M135.3 284.6V292.4M135.8 280.0V295.7M136.3 280.9V291.1M136.8 286.0V297.7M137.3 285.9V292.7M137.8 289.5V293.6M138.3 282.4V300.3M138.8 285.3V295.0M139.3 281.9V293.3M139.8 283.8V294.4M140.3 286.5V292.4M140.8 285.3V298.0M141.3 294.1V299.3M141.8 286.6V299.4M142.3 287.1V294.5M142.8 285.3V297.3M143.3 283.7V293.9M143.8 285.1V296.7M144.3 281.7V295.0M144.8 285.9V293.9M145.3 285.9V296.3M145.8 289.1V296.5M146.3 287.8V297.1M146.8 287.8V296.0M147.3 286.4V294.8M147.8 287.1V296.1M148.3 282.6V293.1M148.8 284.3V292.7M149.3 282.9V291.3M149.8 283.9V297.9M150.3 286.7V294.8M150.8 285.0V293.1M151.3 291.1V304.6M151.8 282.4V299.4M152.3 282.4V302.6M152.8 295.5V303.7M153.3 289.7V305.1M153.8 295.2V304.1M154.3 288.6V300.8M154.8 294.9V305.4M155.3 291.5V303.5M155.8 296.9V308.0M156.3 290.5V299.8M156.8 290.4V299.1M157.3 293.4V300.1M157.8 295.7V304.1M158.3 295.6V305.1M158.8 300.4V305.2M159.3 298.1V306.5M159.8 299.5V305.2M160.3 294.3V301.7M160.8 292.7V301.2M161.3 291.9V305.8M161.8 296.6V305.8M162.3 295.6V303.2M162.8 295.4V303.3M163.3 297.4V308.2M163.8 293.5V307.0M164.3 293.5V306.8M164.8 298.4V307.3M165.3 292.2V308.4M165.8 294.0V305.6M166.3 296.3V303.7M166.8 297.0V309.9M167.3 297.0V310.9M167.8 298.8V304.8M168.3 299.9V307.8M168.8 298.3V307.5M169.3 293.4V307.5M169.8 296.2V309.7M170.3 297.6V309.4M170.8 301.2V310.8M171.3 299.9V306.5M171.8 301.5V309.9M172.3 302.4V312.1M172.8 301.4V313.3M173.3 300.6V306.9M173.8 292.7V307.3M174.3 294.6V307.3M174.8 297.4V302.6M175.3 294.3V304.4M175.8 290.3V299.9M176.3 291.4V298.8M176.8 292.4V299.8M177.3 297.2V305.1M177.8 299.3V308.4M178.3 296.9V308.3M178.8 301.6V315.9M179.3 295.1V303.0M179.8 296.4V308.6M180.3 296.5V307.4M180.8 293.7V300.7M181.3 291.5V299.4M181.8 294.0V302.8M182.3 292.5V301.2M182.8 292.6V308.2M183.3 290.5V303.8M183.8 291.6V300.8M184.3 291.2V300.2M184.8 283.6V300.2M185.3 291.4V304.4M185.8 295.2V304.1M186.3 292.5V305.8M186.8 291.4V300.0M187.3 294.4V301.8M187.8 288.4V304.2M188.3 293.0V301.6M188.8 292.8V304.4M189.3 296.5V304.5M189.8 296.4V302.3M190.3 290.1V297.4M190.8 293.3V309.1M191.3 294.4V309.1M191.8 292.7V313.1M192.3 301.9V313.1M192.8 299.9V302.7M193.3 298.2V307.3M193.8 291.7V308.4M194.3 296.1V311.7M194.8 300.4V308.3M195.3 300.6V313.4M195.8 301.3V309.2M196.3 300.9V317.6M196.8 295.7V315.5M197.3 297.3V304.9M197.8 294.9V305.0M198.3 294.9V304.9M198.8 293.1V304.0M199.3 292.3V303.5M199.8 294.8V301.6M200.3 296.2V302.8M200.8 292.1V303.3M201.3 293.2V299.2M201.8 293.6V305.3M202.3 289.0V301.1M202.8 285.2V299.7M203.3 281.5V290.6M203.8 287.3V291.0M204.3 288.6V295.2M204.8 291.0V303.1M205.3 295.2V307.7M205.8 292.1V298.4M206.3 296.1V303.9M206.8 296.0V300.2M207.3 297.5V309.0M207.8 295.9V301.6M208.3 298.4V307.8M208.8 301.1V307.1M209.3 302.7V309.4M209.8 297.0V310.4M210.3 302.3V310.4M210.8 296.9V304.9M211.3 299.6V306.1M211.8 293.8V305.8M212.3 292.9V301.3M212.8 288.3V299.3M213.3 295.0V310.9M213.8 292.9V302.8M214.3 294.3V308.1M214.8 292.3V300.9M215.3 289.2V303.8M215.8 288.6V300.5M216.3 292.7V300.0M216.8 292.0V307.1M217.3 292.0V298.5M217.8 295.0V307.8M218.3 293.7V304.4M218.8 293.5V298.6M219.3 284.4V305.1M219.8 285.2V296.4M220.3 293.1V300.7M220.8 292.6V300.7M221.3 291.6V302.7M221.8 292.9V300.8M222.3 292.9V302.3M222.8 294.4V302.6M223.3 283.2V296.0M223.8 292.1V300.3M224.3 292.3V299.4M224.8 291.8V299.6M225.3 296.8V307.5M225.8 295.7V307.5M226.3 295.1V301.1M226.8 295.8V306.9M227.3 295.2V305.7M227.8 288.4V299.4M228.3 288.2V300.8M228.8 289.7V300.9M229.3 287.6V295.4M229.8 281.5V290.6M230.3 284.1V292.8M230.8 284.7V296.9M231.3 285.9V300.1M231.8 288.4V294.7M232.3 288.5V302.4M232.8 288.6V294.3M233.3 290.9V299.0M233.8 288.6V296.0M234.3 283.6V295.8M234.8 280.2V290.4M235.3 282.1V290.6M235.8 281.3V291.6M236.3 283.5V291.9M236.8 284.4V295.9M237.3 288.3V297.5M237.8 287.1V294.0M238.3 279.6V295.8M238.8 287.6V298.7M239.3 284.9V298.3M239.8 286.3V293.2M240.3 287.4V294.7M240.8 291.6V296.0M241.3 282.6V293.6M241.8 289.8V298.3M242.3 291.9V299.7M242.8 293.5V299.7M243.3 295.4V310.6M243.8 284.7V306.3M244.3 284.7V300.8M244.8 290.1V297.5M245.3 281.0V295.6M245.8 284.9V294.5M246.3 282.5V295.1M246.8 279.4V288.3M247.3 283.1V297.6M247.8 279.9V293.1M248.3 280.7V288.0M248.8 281.3V289.1M249.3 284.4V290.6M249.8 283.8V294.7M250.3 276.3V289.3M250.8 281.4V288.6M251.3 283.9V290.3M251.8 275.5V290.3M252.3 276.0V290.4M252.8 287.5V293.3M253.3 283.2V293.6M253.8 289.2V302.9M254.3 288.4V301.2M254.8 287.0V292.7M255.3 286.1V296.1M255.8 286.1V296.1M256.4 284.2V291.8M256.9 280.7V291.6M257.4 283.7V297.0M257.9 286.8V292.2M258.4 286.3V291.9M258.9 285.8V294.0M259.4 285.8V297.6M259.9 288.5V302.4M260.4 285.5V304.7M260.9 289.3V297.6M261.4 287.6V297.6M261.9 289.8V301.3M262.4 287.7V298.3M262.9 281.9V290.3M263.4 284.4V299.0M263.9 287.0V299.9M264.4 288.0V302.4M264.9 284.5V292.4M265.4 280.7V295.2M265.9 281.5V294.9M266.4 287.2V293.8M266.9 284.7V293.8M267.4 285.2V296.1M267.9 288.2V295.8M268.4 284.7V295.3M268.9 280.9V293.3M269.4 284.2V297.0M269.9 291.8V302.0M270.4 292.9V302.0M270.9 280.8V300.2M271.4 289.2V301.1M271.9 288.3V293.2M272.4 287.9V295.0M272.9 280.8V292.7M273.4 286.0V294.6M273.9 276.4V289.1M274.4 278.9V289.5M274.9 279.8V290.7M275.4 279.8V292.2M275.9 281.8V292.1M276.4 284.8V289.5M276.9 284.4V291.6M277.4 277.3V290.8M277.9 286.3V290.8M278.4 286.0V291.5M278.9 284.7V297.9M279.4 272.6V286.7M279.9 276.9V285.1M280.4 281.0V289.9M280.9 281.6V295.8M281.4 277.3V294.7M281.9 283.2V291.4M282.4 283.1V293.7M282.9 279.9V289.0M283.4 284.2V292.8M283.9 279.3V285.0M284.4 282.7V288.4M284.9 283.3V290.4M285.4 284.8V298.6M285.9 284.1V294.2M286.4 284.5V296.2M286.9 286.1V292.2M287.4 281.0V289.1M287.9 284.2V290.4M288.4 284.5V294.9M288.9 289.9V297.2M289.4 287.1V294.6M289.9 282.4V296.6M290.4 282.2V291.6M290.9 285.1V295.2M291.4 290.4V299.4M291.9 293.6V300.0M292.4 291.5V301.2M292.9 293.1V303.5M293.4 296.2V301.6M293.9 292.1V306.6M294.4 292.8V301.7M294.9 295.4V300.4M295.4 295.7V301.8M295.9 286.0V300.5M296.4 293.0V302.7M296.9 289.9V301.7M297.4 291.7V301.2M297.9 296.8V303.9M298.4 288.1V301.3M298.9 295.8V303.3M299.4 293.0V299.4M299.9 293.0V300.3M300.4 293.2V305.5M300.9 292.2V305.6M301.4 288.8V298.5M301.9 295.2V301.3M302.4 290.7V306.9M302.9 290.9V297.8M303.4 290.7V297.9M303.9 291.5V300.4M304.4 288.7V297.2M304.9 292.4V302.0M305.4 290.1V299.6M305.9 290.1V297.1M306.4 291.3V300.0M306.9 289.7V297.7M307.4 287.9V297.0M307.9 290.3V298.2M308.4 293.0V302.9M308.9 296.1V306.7M309.4 294.2V305.1M309.9 300.1V305.4M310.4 294.7V303.3M310.9 294.7V307.6M311.4 297.5V308.4M311.9 298.7V305.0M312.4 298.6V305.5" fill="none" stroke="#0f9ff7" stroke-width="1.0" clip-path="url(#cE)"/>
<path d="M39.5 250.5H312.0V348.0H39.5Z" fill="none" stroke="#1c1c1c" stroke-width="1"/>
<path d="M36.70 348.00H39.5M36.70 315.50H39.5M36.70 283.00H39.5M36.70 250.50H39.5M38.10 331.75H39.5M38.10 299.25H39.5M38.10 266.75H39.5M39.50 348.0V350.80M94.00 348.0V350.80M148.50 348.0V350.80M203.00 348.0V350.80M257.50 348.0V350.80M312.00 348.0V350.80M66.75 348.0V349.40M121.25 348.0V349.40M175.75 348.0V349.40M230.25 348.0V349.40M284.75 348.0V349.40" stroke="#1c1c1c" stroke-width="1"/>
<text x="35.0" y="348.00" font-size="8.6" text-anchor="end" dominant-baseline="central">220</text>
<text x="35.0" y="315.50" font-size="8.6" text-anchor="end" dominant-baseline="central">240</text>
<text x="35.0" y="283.00" font-size="8.6" text-anchor="end" dominant-baseline="central">260</text>
<text x="35.0" y="250.50" font-size="8.6" text-anchor="end" dominant-baseline="central">280</text>
<text x="39.50" y="355.6" font-size="8.6" text-anchor="middle" dominant-baseline="central">0</text>
<text x="94.00" y="355.6" font-size="8.6" text-anchor="middle" dominant-baseline="central">20</text>
<text x="148.50" y="355.6" font-size="8.6" text-anchor="middle" dominant-baseline="central">40</text>
<text x="203.00" y="355.6" font-size="8.6" text-anchor="middle" dominant-baseline="central">60</text>
<text x="257.50" y="355.6" font-size="8.6" text-anchor="middle" dominant-baseline="central">80</text>
<text x="312.00" y="355.6" font-size="8.6" text-anchor="middle" dominant-baseline="central">100</text>
<path d="M39.6 348V300" stroke="#f5822a" stroke-width="0.7" opacity="0.6"/>
<text x="42.1" y="263.5" font-size="12.8">E</text>
<text x="155.8" y="375.1" font-size="11.5" textLength="40" lengthAdjust="spacingAndGlyphs">Time (ns)</text>
<text transform="translate(11.6,320.5) rotate(-90)" font-size="11">Area (nm<tspan font-size="7" dy="-4.2">2</tspan><tspan dy="4.2">)</tspan></text>
<path d="M149.7 339.2H171.9" stroke="#0f9ff7" stroke-width="0.8" opacity="0.55"/>
<text x="174.7" y="343.0" font-size="8" textLength="36.7" lengthAdjust="spacingAndGlyphs">AKT1/GNP</text>
<path d="M214.4 339.2H236.6" stroke="#f5822a" stroke-width="0.8" opacity="0.5"/>
<text x="238.6" y="343.0" font-size="8" textLength="34.7" lengthAdjust="spacingAndGlyphs">Free AKT1</text>
<path d="M351.1 82.6V94.8M351.6 73.9V82.6M352.1 71.2V75.7M352.6 67.5V73.6M353.1 63.2V69.2M353.6 62.1V65.7M354.1 61.3V65.7M354.6 57.9V63.0M355.1 59.9V63.0M355.6 58.0V63.0M356.1 60.2V63.6M356.6 57.5V63.9M357.1 56.1V59.6M357.6 53.6V61.0M358.1 51.8V61.0M358.6 50.2V55.1M359.1 52.1V56.8M359.6 52.1V54.6M360.1 53.9V57.3M360.6 55.0V57.8M361.1 52.2V58.0M361.6 52.8V58.6M362.1 54.4V59.9M362.6 54.0V60.5M363.1 52.7V57.1M363.6 53.7V59.3M364.1 52.1V56.4M364.6 54.5V59.8M365.1 53.2V58.6M365.6 54.5V58.6M366.1 52.6V58.2M366.6 57.2V60.5M367.1 57.9V60.8M367.6 58.3V60.9M368.1 54.9V59.6M368.6 54.6V58.7M369.1 54.2V61.1M369.6 56.7V60.0M370.1 55.2V62.5M370.6 54.6V59.1M371.1 57.0V60.4M371.6 55.7V60.0M372.1 55.5V59.3M372.6 52.7V58.6M373.1 49.5V59.7M373.6 52.2V59.7M374.1 53.1V59.9M374.6 54.3V58.4M375.1 52.8V56.4M375.6 52.5V58.7M376.1 53.7V59.0M376.6 51.1V56.0M377.1 50.9V58.7M377.6 52.2V58.7M378.1 52.5V58.3M378.6 52.2V56.6M379.1 51.6V56.7M379.6 53.3V57.3M380.1 51.2V57.5M380.6 51.7V57.1M381.1 47.9V52.6M381.6 49.9V55.9M382.1 51.0V54.9M382.6 49.2V52.9M383.1 51.0V55.8M383.6 50.6V53.7M384.1 47.9V52.4M384.6 47.7V50.6M385.1 46.8V53.0M385.6 44.8V51.1M386.1 38.2V48.8M386.6 37.1V44.3M387.1 42.2V46.6M387.6 41.3V46.3M388.1 42.2V49.1M388.6 43.8V48.3M389.1 42.3V46.9M389.6 43.8V46.3M390.1 41.4V45.0M390.6 39.1V44.6M391.1 39.6V44.4M391.6 39.4V44.6M392.1 36.8V43.8M392.6 39.9V44.0M393.1 41.0V46.8M393.6 42.5V46.6M394.1 42.5V48.4M394.6 40.3V46.1M395.1 43.7V46.9M395.6 42.8V45.6M396.1 42.1V47.3M396.6 42.3V47.3M397.1 40.0V46.7M397.6 43.2V48.7M398.1 40.7V46.9M398.6 41.7V44.9M399.1 42.9V47.5M399.6 44.6V50.2M400.1 43.4V48.8M400.6 39.5V46.2M401.1 37.9V44.1M401.6 38.2V43.3M402.1 40.3V46.2M402.6 40.0V46.2M403.1 41.0V43.9M403.6 43.1V47.8M404.1 44.0V47.8M404.6 45.2V49.1M405.1 42.1V45.5M405.6 42.6V47.2M406.1 41.5V46.6M406.6 41.1V46.8M407.1 41.0V46.2M407.6 41.1V45.8M408.1 40.4V46.3M408.6 42.5V48.2M409.1 42.8V44.9M409.6 41.8V44.0M410.1 41.1V44.4M410.6 41.3V45.4M411.1 42.3V45.6M411.6 39.8V47.2M412.1 46.6V51.1M412.6 46.8V51.3M413.1 47.8V54.5M413.6 44.8V52.4M414.1 47.7V51.3M414.6 50.1V53.6M415.1 48.7V54.8M415.6 45.9V51.1M416.1 47.1V50.8M416.6 45.0V51.8M417.1 45.4V51.8M417.6 49.5V55.7M418.1 48.2V51.4M418.6 49.3V54.3M419.1 46.2V53.6M419.6 47.9V53.1M420.1 47.9V53.6M420.6 45.9V51.7M421.1 48.1V53.2M421.6 41.8V50.3M422.1 42.5V46.6M422.6 45.0V48.8M423.1 47.5V49.1M423.6 43.5V50.2M424.1 43.1V48.9M424.6 47.1V50.4M425.1 45.7V49.5M425.6 43.2V47.9M426.1 47.2V52.0M426.6 46.1V49.9M427.1 43.6V47.1M427.6 43.1V46.7M428.1 44.9V50.3M428.6 42.1V50.0M429.1 41.9V46.9M429.6 42.2V47.0M430.1 40.4V44.6M430.6 40.8V45.3M431.1 41.8V47.9M431.6 38.8V46.5M432.1 42.7V47.8M432.6 44.3V49.2M433.1 44.0V47.9M433.6 43.8V47.4M434.1 43.8V48.6M434.6 46.1V49.7M435.1 47.2V49.4M435.6 49.0V51.3M436.1 49.1V53.5M436.6 47.4V51.2M437.1 45.7V51.4M437.6 45.2V51.4M438.1 43.3V48.5M438.6 44.9V53.0M439.1 48.1V53.0M439.6 48.5V53.7M440.1 46.0V52.7M440.6 45.6V49.7M441.1 45.6V50.4M441.6 44.8V49.8M442.1 44.3V49.2M442.6 43.3V51.3M443.1 41.1V50.0M443.6 42.5V45.9M444.1 40.7V45.3M444.6 40.2V44.3M445.1 39.2V43.2M445.6 37.9V41.1M446.1 34.5V41.6M446.6 35.4V38.9M447.1 37.7V41.5M447.6 36.5V45.9M448.1 38.2V45.9M448.6 39.6V45.4M449.1 42.3V48.1M449.6 43.1V48.7M450.1 45.2V48.2M450.6 40.2V47.1M451.1 39.6V44.3M451.6 39.5V46.1M452.1 43.4V48.7M452.6 42.9V47.3M453.1 41.6V48.6M453.6 43.9V49.0M454.1 42.1V45.0M454.6 42.2V45.2M455.1 40.5V43.9M455.6 40.5V47.4M456.1 43.7V46.7M456.6 41.9V45.7M457.1 42.9V48.7M457.6 40.9V46.1M458.1 42.0V46.1M458.6 42.8V48.6M459.1 44.5V48.8M459.6 46.3V49.1M460.1 46.1V50.7M460.6 48.1V51.1M461.1 45.1V50.3M461.6 45.7V52.7M462.1 46.4V50.6M462.6 46.3V50.4M463.1 45.9V50.1M463.6 45.8V48.5M464.1 45.6V50.9M464.6 46.6V51.6M465.1 44.2V48.9M465.6 45.5V50.6M466.1 47.4V50.3M466.6 47.7V51.2M467.1 45.0V51.9M467.6 45.0V49.2M468.1 46.1V50.9M468.6 47.0V51.0M469.1 44.8V50.6M469.6 45.3V50.3M470.1 47.6V50.8M470.6 44.8V50.5M471.1 44.8V49.4M471.6 47.6V52.0M472.1 47.2V55.3M472.6 44.9V51.6M473.1 47.4V50.5M473.6 48.6V53.5M474.1 48.0V52.9M474.6 51.0V53.1M475.1 50.9V55.0M475.6 52.6V57.7M476.1 50.7V55.3M476.6 50.0V53.4M477.1 50.8V53.9M477.6 50.1V52.6M478.1 46.9V53.2M478.6 47.9V52.3M479.1 47.6V52.0M479.6 48.3V52.1M480.1 47.4V51.4M480.6 44.4V51.3M481.1 45.1V48.8M481.6 45.9V51.3M482.1 47.9V52.2M482.6 46.8V52.5M483.1 43.0V50.2M483.6 46.8V51.0M484.1 46.6V51.0M484.6 49.8V52.2M485.1 47.7V54.3M485.6 48.7V52.1M486.1 47.4V54.3M486.6 46.7V50.8M487.1 45.3V48.7M487.6 45.0V51.2M488.1 45.7V49.6M488.6 45.0V48.6M489.1 45.1V48.5M489.6 40.4V45.6M490.1 40.6V43.6M490.6 40.4V43.4M491.1 40.4V47.3M491.6 38.3V43.9M492.1 39.7V44.1M492.6 40.4V44.3M493.1 39.5V43.4M493.6 37.7V44.2M494.1 35.7V39.8M494.6 39.8V47.2M495.1 40.9V44.3M495.6 40.3V44.0M496.1 40.0V45.6M496.6 38.7V42.8M497.1 37.6V44.4M497.6 34.6V38.4M498.1 32.7V39.1M498.6 33.9V36.0M499.1 33.1V36.8M499.6 34.4V38.5M500.1 33.6V38.4M500.6 35.3V40.7M501.1 36.4V40.7M501.6 35.4V38.3M502.1 36.1V39.5M502.6 37.4V43.3M503.1 38.1V43.6M503.6 38.1V43.3M504.1 37.1V43.5M504.6 37.8V43.1M505.1 40.9V44.8M505.6 41.1V45.3M506.1 42.1V48.1M506.6 39.5V43.7M507.1 40.4V44.4M507.6 41.3V46.7M508.1 40.2V45.1M508.6 37.3V42.0M509.1 39.3V43.4M509.6 42.1V47.1M510.1 42.0V46.5M510.6 40.1V45.5M511.1 40.5V44.4M511.6 40.0V43.8M512.0 40.9V43.2M512.5 40.7V44.0M513.0 39.8V43.9M513.5 41.8V46.5M514.0 40.8V44.5M514.5 37.8V45.3M515.0 37.8V47.8M515.5 39.6V47.8M516.0 43.2V47.1M516.5 42.7V50.5M517.0 42.7V50.5M517.5 40.7V47.5M518.0 40.0V45.7M518.5 43.9V45.8M519.0 43.7V49.5M519.5 42.6V46.0M520.0 44.6V48.5M520.5 39.1V48.5M521.0 39.1V46.6M521.5 39.8V45.0M522.0 42.2V45.3M522.5 39.2V46.7M523.0 38.8V42.8M523.5 38.3V43.6M524.0 38.9V43.8M524.5 39.8V43.8M525.0 37.8V43.8M525.5 39.5V43.5M526.0 36.8V44.3M526.5 40.9V44.8M527.0 38.4V41.8M527.5 38.6V43.8M528.0 36.7V40.8M528.5 37.0V43.3M529.0 37.2V41.5M529.5 37.2V43.8M530.0 40.0V43.9M530.5 40.0V44.1M531.0 39.9V44.6M531.5 40.0V43.4M532.0 35.1V41.6M532.5 37.1V43.2M533.0 39.7V45.3M533.5 40.8V43.8M534.0 38.4V46.0M534.5 43.3V48.9M535.0 39.3V44.0M535.5 39.1V43.5M536.0 41.4V46.6M536.5 40.0V46.6M537.0 38.8V44.2M537.5 37.6V44.2M538.0 38.3V43.5M538.5 39.6V43.9M539.0 39.3V45.6M539.5 40.6V45.9M540.0 38.6V44.2M540.5 39.2V45.9M541.0 39.2V43.9M541.5 40.8V44.3M542.0 40.6V43.9M542.5 41.1V45.5M543.0 42.8V45.1M543.5 40.0V46.5M544.0 41.0V46.4M544.5 37.8V46.0M545.0 37.9V46.0M545.5 39.5V43.8M546.0 39.3V43.7M546.5 39.8V43.4M547.0 40.2V42.5M547.5 41.0V46.6M548.0 38.3V42.6M548.5 38.6V42.1M549.0 38.6V45.1M549.5 41.9V47.3M550.0 37.6V42.7M550.5 36.8V42.8M551.0 37.3V42.8M551.5 37.5V42.5M552.0 38.5V41.0M552.5 38.2V42.6M553.0 34.8V40.6M553.5 36.9V43.1M554.0 35.3V41.0M554.5 34.6V42.2M555.0 36.5V42.2M555.5 37.2V39.8M556.0 38.4V43.1M556.5 37.9V43.7M557.0 39.4V43.0M557.5 38.6V43.1M558.0 39.1V43.6M558.5 35.7V41.3M559.0 37.3V41.5M559.5 37.8V41.3M560.0 36.9V41.1M560.5 34.0V39.1M561.0 37.8V41.1M561.5 36.7V41.1M562.0 37.8V41.1M562.5 38.8V42.6M563.0 39.1V43.8M563.5 36.9V42.5M564.0 41.8V44.5M564.5 40.0V46.1M565.0 37.2V45.9M565.5 40.7V45.6M566.0 37.0V43.3M566.5 36.5V42.3M567.0 38.5V43.0M567.5 39.0V43.9M568.0 37.6V40.4M568.5 38.0V42.1M569.0 37.9V43.8M569.5 39.7V43.2M570.0 38.6V43.1M570.5 37.2V42.2M571.0 36.7V41.6M571.5 36.0V45.0M572.0 34.2V41.5M572.5 35.1V39.1M573.0 37.4V39.5M573.5 36.7V41.7M574.0 35.2V38.8M574.5 34.7V38.5M575.0 33.2V36.3M575.5 30.3V37.1M576.0 32.2V38.9M576.5 31.9V37.5M577.0 32.1V35.7M577.5 33.0V37.1M578.0 34.2V38.2M578.5 36.0V39.5M579.0 32.1V37.7M579.5 32.1V38.8M580.0 36.6V41.4M580.5 35.2V39.8M581.0 34.2V37.7M581.5 33.7V38.0M582.0 32.2V38.7M582.5 35.5V39.6M583.0 35.2V39.4M583.5 35.9V38.9M584.0 36.1V42.9M584.5 34.5V42.9M585.0 33.8V39.3M585.5 36.9V39.4M586.0 36.3V41.3M586.5 37.7V43.0M587.0 36.3V41.4M587.5 36.3V42.5M588.0 38.4V41.5M588.5 37.7V41.8M589.0 38.0V42.8M589.5 38.5V44.0M590.0 36.3V40.9M590.5 38.7V40.8M591.0 37.0V40.9M591.5 35.2V40.5M592.0 35.0V40.2M592.5 36.0V41.3M593.0 37.1V42.3M593.5 34.1V42.9M594.0 36.0V42.2M594.5 33.6V38.8M595.0 35.4V40.0M595.5 36.5V40.3M596.0 36.4V41.2M596.5 37.5V42.2M597.0 37.4V41.9M597.5 37.6V40.7M598.0 37.1V41.8M598.5 38.8V46.6M599.0 35.9V44.2M599.5 38.4V42.4M600.0 36.3V41.7M600.5 40.2V45.3M601.0 36.8V42.8M601.5 36.4V40.7M602.0 35.1V41.7M602.5 38.6V42.2M603.0 37.6V42.1M603.5 40.2V44.1M604.0 36.8V40.4M604.5 36.4V40.2M605.0 35.4V42.1M605.5 40.5V44.9M606.0 40.6V43.7M606.5 40.6V45.3M607.0 39.5V46.0M607.5 39.1V45.5M608.0 38.2V43.1M608.5 37.9V43.6M609.0 39.6V42.6M609.5 39.3V44.2M610.0 36.7V41.8M610.5 36.9V40.8M611.0 35.7V41.3M611.5 31.6V37.8M612.0 35.2V39.6M612.5 36.0V39.4M613.0 34.0V38.7M613.5 35.9V39.5M614.0 32.7V37.3M614.5 31.5V34.1M615.0 29.8V34.9M615.5 30.3V35.9M616.0 27.6V33.7M616.5 25.1V33.0M617.0 23.5V29.4M617.5 27.0V32.1M618.0 27.4V32.0M618.5 25.3V29.6M619.0 24.7V28.7M619.5 23.8V30.9M620.0 28.0V31.5M620.5 30.6V35.4M621.0 29.8V35.8M621.5 29.7V32.7M622.0 29.0V34.3M622.5 27.9V31.2M623.0 26.6V29.7M623.5 25.3V32.0M624.0 25.3V32.3M624.5 28.9V34.6M625.0 29.4V32.1M625.5 29.3V33.6M626.0 30.3V32.7M626.5 30.7V35.8M627.0 30.4V35.8M627.5 30.4V34.8M628.0 32.0V37.5M628.5 28.7V35.1M629.0 32.8V37.3M629.5 31.1V38.1M630.0 34.7V38.5M630.5 31.4V42.7M631.0 35.3V40.7M631.5 36.4V40.2M632.0 36.4V41.0M632.5 33.8V39.0M633.0 34.3V42.4M633.5 38.4V42.4M634.0 38.5V42.1M634.5 38.9V45.3M635.0 36.8V43.9M635.5 35.3V41.0M636.0 36.1V43.0M636.5 38.4V44.0M637.0 40.7V44.3M637.5 40.2V42.7M638.0 37.9V41.0M638.5 35.0V37.9M639.0 34.4V39.6M639.5 37.2V42.2M640.0 34.5V37.4M640.5 36.0V41.9M641.0 34.8V40.3M641.5 34.4V39.3M642.0 34.0V39.3M642.5 35.8V39.8M643.0 35.2V41.4M643.5 35.2V41.4M644.0 37.2V42.0M644.5 38.5V41.6M645.0 36.7V41.7M645.5 35.7V40.2M646.0 37.9V44.3M646.5 36.7V40.5M647.0 36.8V41.8M647.5 34.8V41.6M648.0 35.0V40.5M648.5 35.9V41.2M649.0 34.9V40.3M649.5 37.3V39.9M650.0 35.9V39.4M650.5 37.6V42.2M651.0 37.7V43.3M651.5 38.9V42.7M652.0 37.6V42.6M652.5 39.9V42.3M653.0 37.8V40.7M653.5 36.8V41.2M654.0 39.2V43.3M654.5 38.0V43.4M655.0 38.9V43.4M655.5 36.2V45.5M656.0 39.2V43.7M656.5 34.8V39.8M657.0 35.2V39.4M657.5 36.6V40.7M658.0 36.6V42.8M658.5 36.5V40.7M659.0 35.2V40.2M659.5 37.3V41.2M660.0 36.2V41.4M660.5 34.4V38.8M661.0 35.8V42.4M661.5 33.6V40.9M662.0 35.8V40.1M662.5 34.5V41.7M663.0 35.9V41.7M663.5 36.6V41.0M664.0 36.6V42.3M664.5 37.6V42.4M665.0 39.3V43.3M665.5 36.8V44.6M666.0 37.8V41.9M666.5 34.6V38.4M667.0 33.5V37.6M667.5 30.0V35.3M668.0 29.7V36.3M668.5 25.9V32.0M669.0 26.9V30.3M669.5 25.4V30.4M670.0 28.9V32.4M670.5 25.1V32.8M671.0 26.6V30.9M671.5 26.9V32.7M672.0 24.5V29.7M672.5 24.0V26.9M673.0 20.7V28.4M673.5 21.7V25.7M674.0 23.1V31.3M674.5 24.7V30.5M675.0 25.2V31.0M675.5 28.4V30.7" fill="none" stroke="#f70a8b" stroke-width="1.0" clip-path="url(#cB)"/>
<path d="M351.1 82.0V94.8M351.6 72.8V82.1M352.1 69.4V76.7M352.6 66.8V70.6M353.1 64.5V68.7M353.6 60.2V65.9M354.1 59.3V66.5M354.6 58.4V63.0M355.1 61.1V63.1M355.6 59.8V63.1M356.1 57.2V62.3M356.6 58.9V62.2M357.1 56.8V62.8M357.6 55.0V60.4M358.1 57.1V61.0M358.6 58.9V61.9M359.1 56.0V61.3M359.6 56.3V60.5M360.1 59.1V61.5M360.6 56.3V60.2M361.1 55.7V62.3M361.6 57.2V61.5M362.1 53.4V59.0M362.6 54.0V58.8M363.1 54.2V58.5M363.6 54.5V57.6M364.1 51.9V58.0M364.6 52.5V56.1M365.1 52.1V58.3M365.6 51.0V54.6M366.1 51.4V54.6M366.6 52.2V54.9M367.1 52.2V54.5M367.6 47.7V53.1M368.1 44.0V49.0M368.6 42.7V46.7M369.1 40.7V46.2M369.6 37.0V44.8M370.1 37.6V43.1M370.6 37.3V43.3M371.1 38.6V44.5M371.6 38.4V44.7M372.1 43.2V48.8M372.6 43.6V48.8M373.1 41.4V48.2M373.6 44.4V50.1M374.1 44.4V49.4M374.6 45.0V48.5M375.1 47.2V51.3M375.6 48.3V50.2M376.1 44.6V51.5M376.6 49.8V55.6M377.1 51.0V54.9M377.6 49.2V54.9M378.1 48.5V51.9M378.6 44.7V52.5M379.1 47.6V52.7M379.6 46.9V53.9M380.1 46.3V51.9M380.6 51.2V55.0M381.1 49.3V52.1M381.6 48.0V53.4M382.1 50.7V55.7M382.6 50.5V55.5M383.1 48.3V54.7M383.6 50.2V58.1M384.1 51.1V58.0M384.6 51.1V58.0M385.1 52.8V57.0M385.6 52.1V56.3M386.1 52.1V57.9M386.6 52.1V59.1M387.1 49.4V56.0M387.6 54.0V59.2M388.1 55.5V61.0M388.6 51.6V57.7M389.1 51.6V55.7M389.6 50.6V55.6M390.1 54.8V63.5M390.6 57.6V62.5M391.1 58.1V64.2M391.6 57.4V61.3M392.1 56.5V61.3M392.6 58.5V62.4M393.1 53.6V61.0M393.6 53.6V59.5M394.1 52.5V58.8M394.6 55.3V59.7M395.1 56.0V59.7M395.6 53.3V58.8M396.1 53.1V57.6M396.6 53.1V57.7M397.1 53.3V57.1M397.6 50.7V56.6M398.1 49.2V55.3M398.6 52.8V56.8M399.1 53.0V57.3M399.6 53.3V57.3M400.1 53.2V57.1M400.6 53.5V56.8M401.1 53.2V58.8M401.6 52.6V57.8M402.1 51.6V56.0M402.6 47.2V53.7M403.1 48.5V50.6M403.6 50.0V56.5M404.1 49.2V53.9M404.6 49.1V51.7M405.1 47.5V55.1M405.6 47.4V49.8M406.1 45.6V50.5M406.6 45.8V54.8M407.1 48.7V52.8M407.6 46.8V52.8M408.1 49.2V54.3M408.6 49.2V52.7M409.1 48.9V53.5M409.6 48.2V55.3M410.1 51.8V55.3M410.6 49.4V53.9M411.1 52.7V56.3M411.6 51.2V56.3M412.1 50.7V55.3M412.6 54.7V58.0M413.1 54.8V58.0M413.6 53.1V57.1M414.1 51.3V54.7M414.6 51.7V55.6M415.1 51.1V56.7M415.6 51.4V56.3M416.1 50.9V56.3M416.6 48.9V56.3M417.1 49.4V53.6M417.6 47.3V52.6M418.1 49.2V55.9M418.6 50.2V53.8M419.1 47.6V50.3M419.6 48.6V53.0M420.1 50.5V53.0M420.6 49.0V55.0M421.1 50.4V56.8M421.6 50.4V55.2M422.1 51.8V55.3M422.6 47.8V53.9M423.1 47.5V52.8M423.6 49.3V52.0M424.1 50.5V53.5M424.6 49.0V53.0M425.1 47.8V52.5M425.6 45.5V48.8M426.1 45.3V49.4M426.6 46.2V50.2M427.1 47.2V51.8M427.6 45.4V51.9M428.1 45.0V51.9M428.6 45.9V52.7M429.1 47.7V52.3M429.6 45.5V49.5M430.1 45.6V48.3M430.6 43.8V48.1M431.1 44.1V47.5M431.6 41.1V45.8M432.1 43.6V49.7M432.6 46.3V50.4M433.1 44.6V49.3M433.6 44.5V51.1M434.1 44.8V48.9M434.6 41.7V48.9M435.1 42.7V49.2M435.6 44.0V48.0M436.1 42.9V47.5M436.6 43.8V48.1M437.1 45.3V48.3M437.6 45.6V50.2M438.1 42.8V50.7M438.6 46.0V50.7M439.1 45.7V51.8M439.6 46.9V52.5M440.1 44.2V51.9M440.6 47.8V53.7M441.1 50.7V54.8M441.6 47.3V52.0M442.1 47.0V50.4M442.6 42.8V49.0M443.1 42.8V49.3M443.6 45.6V48.0M444.1 45.7V48.8M444.6 43.2V47.6M445.1 41.8V45.0M445.6 42.8V47.6M446.1 41.9V49.3M446.6 40.9V44.4M447.1 40.2V43.8M447.6 38.5V45.5M448.1 38.3V43.9M448.6 38.3V44.2M449.1 40.9V46.4M449.6 37.6V44.8M450.1 41.8V45.0M450.6 36.7V41.8M451.1 36.0V42.0M451.6 39.0V42.2M452.1 39.2V44.0M452.6 36.3V41.7M453.1 36.3V40.7M453.6 37.6V42.8M454.1 35.9V41.6M454.6 37.6V41.4M455.1 37.4V39.6M455.6 35.2V39.2M456.1 32.0V36.8M456.6 31.3V34.1M457.1 29.0V34.1M457.6 32.3V39.0M458.1 37.1V41.1M458.6 38.9V44.1M459.1 39.5V43.8M459.6 38.0V42.7M460.1 38.0V42.7M460.6 36.9V42.1M461.1 36.5V41.0M461.6 39.5V44.9M462.1 38.6V45.1M462.6 38.3V41.7M463.1 39.4V44.8M463.6 40.1V45.4M464.1 37.2V45.6M464.6 41.4V47.9M465.1 45.5V49.0M465.6 45.0V49.2M466.1 42.8V47.3M466.6 40.3V47.5M467.1 40.3V43.1M467.6 42.3V46.4M468.1 40.3V44.5M468.6 41.6V47.9M469.1 42.6V48.0M469.6 46.0V49.6M470.1 44.9V49.1M470.6 44.9V49.4M471.1 43.8V48.5M471.6 46.2V49.6M472.1 47.4V52.3M472.6 47.0V51.4M473.1 47.1V51.6M473.6 44.6V50.8M474.1 45.6V50.6M474.6 46.1V50.1M475.1 44.0V49.6M475.6 46.1V50.8M476.1 41.7V48.1M476.6 43.8V48.1M477.1 44.4V48.3M477.6 44.6V48.6M478.1 45.1V49.0M478.6 44.5V52.0M479.1 47.0V52.0M479.6 46.9V51.3M480.1 46.5V49.6M480.6 48.0V52.1M481.1 46.4V50.9M481.6 49.6V52.0M482.1 47.2V50.1M482.6 49.5V51.9M483.1 46.4V51.6M483.6 46.0V48.5M484.1 46.5V50.5M484.6 46.2V50.3M485.1 44.6V49.4M485.6 46.8V49.4M486.1 48.0V52.7M486.6 45.3V50.1M487.1 49.7V53.5M487.6 48.6V52.1M488.1 47.1V51.1M488.6 46.9V50.5M489.1 48.2V55.2M489.6 46.0V50.2M490.1 46.4V50.5M490.6 45.1V48.9M491.1 47.8V52.6M491.6 49.3V53.0M492.1 46.8V51.6M492.6 46.9V52.7M493.1 44.2V49.9M493.6 45.5V48.6M494.1 45.1V48.6M494.6 46.4V52.2M495.1 45.6V52.2M495.6 46.7V49.0M496.1 48.6V51.0M496.6 48.6V50.9M497.1 46.9V51.3M497.6 45.6V50.3M498.1 47.3V50.6M498.6 48.0V52.2M499.1 46.6V51.6M499.6 47.6V51.5M500.1 47.9V53.4M500.6 51.3V56.8M501.1 51.1V56.5M501.6 51.1V58.3M502.1 49.3V53.2M502.6 48.7V53.4M503.1 49.4V53.4M503.6 47.5V55.1M504.1 47.1V52.3M504.6 46.4V54.5M505.1 48.9V54.5M505.6 50.2V54.8M506.1 47.4V53.1M506.6 50.3V53.8M507.1 50.5V53.9M507.6 49.2V53.8M508.1 48.3V53.7M508.6 45.0V51.5M509.1 44.9V49.0M509.6 45.7V50.7M510.1 46.0V50.9M510.6 46.8V51.1M511.1 42.4V47.5M511.6 44.3V47.1M512.0 42.7V45.2M512.5 39.1V44.2M513.0 38.9V42.4M513.5 39.1V44.9M514.0 38.3V42.3M514.5 37.6V41.5M515.0 34.0V37.6M515.5 34.7V37.8M516.0 33.9V40.4M516.5 32.2V36.1M517.0 33.3V36.9M517.5 33.2V38.0M518.0 30.0V35.1M518.5 35.1V38.3M519.0 33.0V38.3M519.5 34.2V39.3M520.0 33.1V36.3M520.5 34.2V39.5M521.0 34.1V36.8M521.5 27.5V36.8M522.0 26.9V35.9M522.5 27.8V34.3M523.0 28.3V33.1M523.5 29.1V32.2M524.0 28.4V31.8M524.5 31.1V35.6M525.0 31.1V34.7M525.5 29.3V34.0M526.0 30.6V33.3M526.5 29.3V35.6M527.0 31.2V37.5M527.5 31.6V37.1M528.0 30.6V35.9M528.5 31.0V35.6M529.0 30.3V37.0M529.5 31.8V36.9M530.0 32.6V38.4M530.5 33.4V37.0M531.0 28.5V34.7M531.5 28.5V35.5M532.0 31.6V35.4M532.5 31.7V39.5M533.0 36.5V40.5M533.5 34.3V40.5M534.0 32.9V37.7M534.5 31.9V36.6M535.0 33.1V40.3M535.5 31.4V40.7M536.0 33.0V38.5M536.5 33.8V36.3M537.0 33.4V36.9M537.5 33.1V37.1M538.0 30.8V36.4M538.5 28.6V36.0M539.0 27.9V33.0M539.5 29.0V33.8M540.0 30.2V34.2M540.5 28.6V33.8M541.0 25.5V31.1M541.5 24.6V29.0M542.0 24.2V32.0M542.5 24.2V29.9M543.0 23.9V31.0M543.5 21.1V27.4M544.0 24.1V27.3M544.5 23.2V26.9M545.0 19.3V26.0M545.5 19.8V23.5M546.0 20.1V23.7M546.5 20.1V26.6M547.0 19.1V24.6M547.5 18.6V23.1M548.0 19.8V23.6M548.5 17.3V24.4M549.0 20.7V26.4M549.5 20.4V24.6M550.0 21.2V26.3M550.5 19.8V23.8M551.0 23.7V29.1M551.5 24.1V28.4M552.0 21.8V28.0M552.5 22.1V28.6M553.0 26.6V33.7M553.5 27.3V31.0M554.0 25.4V32.0M554.5 26.9V33.9M555.0 29.9V33.9M555.5 31.5V35.3M556.0 28.6V34.2M556.5 28.6V34.5M557.0 30.0V34.8M557.5 31.9V38.3M558.0 32.4V38.3M558.5 30.5V34.6M559.0 31.7V35.6M559.5 31.1V35.5M560.0 33.4V35.8M560.5 28.3V33.7M561.0 30.3V35.3M561.5 30.3V36.6M562.0 30.4V34.9M562.5 29.3V34.8M563.0 30.5V34.8M563.5 29.2V35.0M564.0 31.4V33.9M564.5 30.2V34.1M565.0 27.9V34.2M565.5 28.9V37.2M566.0 32.0V34.3M566.5 30.9V34.1M567.0 30.9V37.1M567.5 32.8V36.5M568.0 30.3V34.5M568.5 30.5V33.8M569.0 28.1V32.1M569.5 27.5V32.8M570.0 29.2V33.0M570.5 29.1V36.0M571.0 31.5V36.2M571.5 32.5V35.7M572.0 30.1V32.5M572.5 27.1V35.5M573.0 28.1V32.6M573.5 30.3V33.7M574.0 31.6V36.1M574.5 28.8V32.6M575.0 28.8V34.0M575.5 30.7V34.5M576.0 31.4V36.8M576.5 30.2V34.2M577.0 32.0V36.8M577.5 32.2V37.1M578.0 31.3V36.5M578.5 31.3V36.2M579.0 33.0V37.0M579.5 29.4V37.0M580.0 31.3V35.6M580.5 31.2V35.0M581.0 32.5V35.2M581.5 32.0V37.5M582.0 33.2V37.5M582.5 33.2V36.6M583.0 29.7V36.2M583.5 28.5V34.2M584.0 30.4V34.2M584.5 30.6V34.6M585.0 29.7V33.6M585.5 27.2V32.1M586.0 26.7V32.1M586.5 27.6V32.1M587.0 28.0V32.2M587.5 26.1V28.9M588.0 24.5V28.9M588.5 22.6V29.7M589.0 22.6V27.8M589.5 26.6V29.4M590.0 26.3V31.3M590.5 28.1V31.3M591.0 26.9V32.3M591.5 29.7V32.1M592.0 31.2V34.6M592.5 29.4V34.1M593.0 30.0V33.9M593.5 31.8V36.6M594.0 28.1V34.4M594.5 29.8V35.2M595.0 32.0V34.7M595.5 32.1V35.5M596.0 30.2V35.4M596.5 29.9V34.4M597.0 28.3V33.3M597.5 29.4V35.3M598.0 30.6V32.5M598.5 29.5V32.1M599.0 26.2V32.0M599.5 27.6V35.1M600.0 29.8V35.1M600.5 31.0V34.6M601.0 30.4V34.6M601.5 30.4V35.4M602.0 30.1V31.7M602.5 28.1V32.7M603.0 27.4V32.7M603.5 28.3V33.9M604.0 30.1V33.6M604.5 29.0V33.1M605.0 29.6V34.3M605.5 30.2V34.2M606.0 28.6V37.0M606.5 28.2V35.6M607.0 28.6V34.6M607.5 28.6V33.0M608.0 24.3V32.3M608.5 27.6V32.1M609.0 28.1V35.9M609.5 30.5V37.0M610.0 30.5V35.1M610.5 32.6V36.9M611.0 32.9V37.2M611.5 31.1V37.2M612.0 31.5V36.1M612.5 32.3V36.1M613.0 29.7V35.5M613.5 30.8V33.6M614.0 30.9V34.9M614.5 29.3V35.0M615.0 29.1V32.4M615.5 27.3V33.7M616.0 26.6V32.1M616.5 26.6V32.7M617.0 26.8V31.9M617.5 28.1V35.4M618.0 28.5V32.2M618.5 28.5V33.1M619.0 30.0V34.3M619.5 28.0V32.2M620.0 29.3V32.3M620.5 26.1V31.9M621.0 26.3V32.1M621.5 26.7V30.9M622.0 23.8V31.9M622.5 30.1V34.1M623.0 28.8V34.1M623.5 28.2V32.0M624.0 30.4V34.4M624.5 29.2V32.7M625.0 28.2V34.6M625.5 29.6V34.4M626.0 29.0V35.6M626.5 28.8V32.2M627.0 27.8V33.1M627.5 29.1V31.9M628.0 30.4V34.4M628.5 27.8V33.2M629.0 26.8V30.9M629.5 23.7V30.9M630.0 25.1V29.4M630.5 26.4V30.8M631.0 27.1V30.3M631.5 24.6V30.9M632.0 23.5V32.4M632.5 23.9V32.4M633.0 24.2V30.0M633.5 23.7V30.8M634.0 23.7V28.4M634.5 24.0V31.0M635.0 23.4V28.2M635.5 20.2V25.1M636.0 21.4V28.3M636.5 21.2V25.3M637.0 24.8V28.4M637.5 24.6V28.1M638.0 24.6V31.0M638.5 26.2V31.7M639.0 25.9V30.5M639.5 22.2V26.9M640.0 20.3V26.9M640.5 22.8V27.4M641.0 23.1V26.6M641.5 23.0V28.0M642.0 22.9V26.9M642.5 19.6V25.6M643.0 21.4V26.5M643.5 21.6V27.2M644.0 21.3V25.4M644.5 24.2V29.5M645.0 22.6V26.4M645.5 21.8V26.6M646.0 20.9V26.1M646.5 21.4V25.9M647.0 21.4V26.6M647.5 22.2V25.4M648.0 21.4V24.6M648.5 20.7V23.9M649.0 22.4V27.1M649.5 21.2V24.4M650.0 17.6V23.4M650.5 23.4V30.0M651.0 24.3V29.9M651.5 24.3V30.2M652.0 20.5V26.5M652.5 20.8V26.5M653.0 24.0V29.4M653.5 23.8V27.8M654.0 22.5V26.1M654.5 23.2V26.0M655.0 20.6V27.1M655.5 21.5V24.6M656.0 22.4V25.5M656.5 21.9V26.4M657.0 19.7V25.4M657.5 21.1V27.2M658.0 16.2V23.3M658.5 16.8V23.2M659.0 19.5V26.2M659.5 19.5V23.8M660.0 19.7V22.9M660.5 19.3V24.6M661.0 20.7V24.2M661.5 20.0V25.3M662.0 21.2V23.9M662.5 18.3V23.5M663.0 18.3V24.9M663.5 17.9V22.5M664.0 15.8V20.0M664.5 17.3V23.4M665.0 19.1V23.5M665.5 19.7V22.8M666.0 19.3V23.1M666.5 17.3V24.2M667.0 17.3V21.4M667.5 16.8V23.9M668.0 20.4V23.6M668.5 18.7V23.8M669.0 19.3V22.5M669.5 17.7V22.5M670.0 20.1V23.5M670.5 17.4V22.7M671.0 19.2V23.0M671.5 15.7V20.7M672.0 17.9V24.5M672.5 17.6V24.5M673.0 18.8V21.0M673.5 15.3V23.7M674.0 16.9V23.8M674.5 18.8V25.5M675.0 19.7V23.6M675.5 23.6V25.6" fill="none" stroke="#08c985" stroke-width="1.0" clip-path="url(#cB)"/>
<path d="M351.0 6.5H675.5V94.7H351.0Z" fill="none" stroke="#5c5c5c" stroke-width="1"/>
<path d="M349.20 94.70H351.0M349.20 80.00H351.0M349.20 65.30H351.0M349.20 50.60H351.0M349.20 35.90H351.0M349.20 21.20H351.0M349.20 6.50H351.0M351.00 94.7V96.50M415.90 94.7V96.50M480.80 94.7V96.50M545.70 94.7V96.50M610.60 94.7V96.50M675.50 94.7V96.50M383.45 94.7V95.70M448.35 94.7V95.70M513.25 94.7V95.70M578.15 94.7V95.70M643.05 94.7V95.70" stroke="#5c5c5c" stroke-width="1"/>
<text x="347.9" y="95.10" font-size="7.3" text-anchor="end" dominant-baseline="central">0.0</text>
<text x="347.9" y="80.40" font-size="7.3" text-anchor="end" dominant-baseline="central">0.1</text>
<text x="347.9" y="65.70" font-size="7.3" text-anchor="end" dominant-baseline="central">0.2</text>
<text x="347.9" y="51.00" font-size="7.3" text-anchor="end" dominant-baseline="central">0.3</text>
<text x="347.9" y="36.30" font-size="7.3" text-anchor="end" dominant-baseline="central">0.4</text>
<text x="347.9" y="21.60" font-size="7.3" text-anchor="end" dominant-baseline="central">0.5</text>
<text x="347.9" y="6.90" font-size="7.3" text-anchor="end" dominant-baseline="central">0.6</text>
<text x="351.00" y="101.2" font-size="7.4" text-anchor="middle" dominant-baseline="central">0</text>
<text x="415.90" y="101.2" font-size="7.4" text-anchor="middle" dominant-baseline="central">20</text>
<text x="480.80" y="101.2" font-size="7.4" text-anchor="middle" dominant-baseline="central">40</text>
<text x="545.70" y="101.2" font-size="7.4" text-anchor="middle" dominant-baseline="central">60</text>
<text x="610.60" y="101.2" font-size="7.4" text-anchor="middle" dominant-baseline="central">80</text>
<text x="675.50" y="101.2" font-size="7.4" text-anchor="middle" dominant-baseline="central">100</text>
<path d="M351 94.7V78" stroke="#08c985" stroke-width="0.7" opacity="0.6"/>
<text x="355.6" y="18.7" font-size="12">B</text>
<text x="496.3" y="112.8" font-size="8.6" textLength="30.6" lengthAdjust="spacingAndGlyphs">Time(ns)</text>
<text transform="translate(333.0,65.4) rotate(-90)" font-size="8.5" textLength="39" lengthAdjust="spacingAndGlyphs">RMSD (nm)</text>
<path d="M351.6 179.4V190.1M352.1 174.1V182.0M352.6 172.8V177.9M353.1 172.1V178.4M353.6 168.8V180.7M354.1 169.8V174.4M354.6 166.2V174.9M355.1 168.7V175.1M355.6 168.3V178.8M356.1 170.9V178.8M356.6 166.9V176.4M357.1 168.9V176.4M357.6 172.5V178.0M358.1 170.5V175.9M358.6 167.6V175.0M359.1 167.6V174.4M359.6 164.8V173.0M360.1 165.8V176.4M360.6 168.9V176.0M361.1 170.0V177.9M361.6 165.7V176.0M362.1 169.6V174.5M362.6 167.6V171.7M363.1 168.8V174.3M363.6 166.4V170.5M364.1 167.8V171.6M364.6 160.3V169.1M365.1 164.0V169.2M365.6 166.1V174.1M366.1 165.4V172.4M366.6 168.1V176.2M367.1 159.9V173.2M367.6 160.6V169.7M368.1 158.3V170.1M368.6 157.3V166.5M369.1 157.2V167.5M369.6 161.7V168.2M370.1 158.5V168.3M370.6 158.4V167.8M371.1 158.6V164.9M371.6 154.7V166.2M372.1 154.7V163.6M372.6 154.5V165.6M373.1 156.2V163.7M373.6 156.5V161.2M374.1 154.8V159.1M374.6 153.5V161.7M375.1 155.2V167.4M375.6 155.2V167.4M376.1 158.8V163.8M376.6 160.1V165.8M377.1 154.5V161.9M377.6 158.6V167.1M378.1 157.4V165.8M378.6 160.1V166.1M379.1 156.6V167.1M379.6 161.6V167.1M380.1 160.7V166.3M380.6 162.6V172.3M381.1 162.6V172.3M381.6 163.2V171.7M382.1 162.7V170.7M382.6 161.1V167.8M383.1 164.9V169.7M383.6 161.5V170.2M384.1 160.3V168.1M384.6 163.0V168.1M385.1 159.1V164.9M385.6 156.7V165.4M386.1 162.2V169.8M386.6 162.4V173.9M387.1 164.3V177.7M387.6 163.1V177.7M388.1 166.7V175.8M388.6 171.9V179.0M389.1 167.1V176.7M389.6 171.9V177.8M390.1 175.2V178.9M390.6 171.4V178.9M391.1 172.4V181.2M391.6 172.2V180.3M392.1 172.1V179.9M392.6 173.8V179.8M393.1 171.0V180.3M393.6 172.5V180.3M394.1 172.3V180.1M394.6 171.3V177.3M395.1 164.5V173.5M395.6 164.5V169.8M396.1 168.3V176.0M396.6 162.3V171.7M397.1 164.0V172.2M397.6 164.8V169.5M398.1 166.7V177.5M398.6 168.5V173.6M399.1 162.8V171.5M399.6 162.8V166.9M400.1 161.9V167.1M400.6 163.9V170.9M401.1 164.0V174.0M401.6 160.1V168.2M402.1 164.8V172.4M402.6 166.2V173.6M403.1 164.0V172.4M403.6 166.7V172.3M404.1 164.4V170.5M404.6 167.5V175.8M405.1 163.3V173.9M405.6 161.8V173.1M406.1 162.6V169.2M406.6 164.3V168.5M407.1 161.8V166.6M407.6 163.8V171.8M408.1 164.5V172.7M408.6 165.2V172.7M409.1 165.0V171.8M409.6 159.5V171.1M410.1 159.5V172.0M410.6 161.8V172.3M411.1 166.3V173.7M411.6 168.2V172.2M412.1 163.3V171.3M412.6 163.0V171.1M413.1 157.2V171.9M413.6 165.3V171.9M414.1 164.2V170.7M414.6 163.9V174.3M415.1 167.1V171.8M415.6 163.7V172.4M416.1 165.3V169.9M416.6 163.4V172.6M417.1 161.6V174.1M417.6 168.9V172.2M418.1 165.1V170.9M418.6 164.4V169.5M419.1 161.4V167.8M419.6 161.0V169.9M420.1 160.3V168.9M420.6 160.2V167.3M421.1 161.6V169.2M421.6 160.1V167.1M422.1 163.9V167.7M422.6 161.7V169.8M423.1 162.2V167.9M423.6 158.8V163.9M424.1 159.0V168.7M424.6 159.3V169.7M425.1 164.0V171.3M425.6 160.9V172.2M426.1 157.5V167.4M426.6 159.8V170.4M427.1 162.1V168.2M427.6 163.7V168.5M428.1 164.4V171.4M428.6 169.0V175.2M429.1 171.5V182.2M429.6 172.5V177.9M430.1 172.3V178.6M430.6 167.6V177.3M431.1 169.5V176.0M431.6 169.5V175.9M432.1 170.3V179.0M432.6 169.7V178.9M433.1 171.5V176.2M433.6 172.9V175.5M434.1 170.2V175.4M434.6 165.3V175.4M435.1 164.3V171.7M435.6 164.3V174.2M436.1 168.7V173.8M436.6 167.5V172.4M437.1 164.8V169.1M437.6 164.7V170.2M438.1 161.8V170.8M438.6 168.7V180.7M439.1 170.1V180.7M439.6 170.2V176.6M440.1 170.1V178.5M440.6 168.4V174.9M441.1 166.3V179.9M441.6 165.9V178.5M442.1 164.0V171.5M442.6 164.1V174.6M443.1 164.1V173.9M443.6 167.5V173.6M444.1 169.9V175.6M444.6 167.3V176.6M445.1 163.0V172.8M445.6 163.0V176.5M446.1 167.9V173.1M446.6 170.5V176.8M447.1 169.8V177.1M447.6 164.4V174.9M448.1 168.3V174.9M448.6 167.7V171.6M449.1 168.4V174.4M449.6 163.4V174.0M450.1 160.7V170.3M450.6 167.1V176.5M451.1 166.1V174.8M451.6 167.6V174.8M452.1 168.3V178.5M452.6 168.3V177.8M453.1 169.2V179.9M453.6 171.7V179.1M454.1 169.7V176.3M454.6 170.5V178.9M455.1 168.8V176.6M455.6 169.4V177.8M456.1 168.3V176.7M456.6 169.9V176.0M457.1 173.4V179.4M457.6 166.7V177.5M458.1 172.0V178.1M458.6 170.1V183.2M459.1 167.2V172.2M459.6 165.7V172.7M460.1 163.6V171.3M460.6 164.4V171.9M461.1 167.2V172.5M461.6 171.7V180.9M462.1 171.6V177.6M462.6 169.4V175.1M463.1 170.5V174.8M463.6 170.2V176.7M464.1 168.8V175.3M464.6 168.5V174.5M465.1 171.6V180.6M465.6 176.5V185.4M466.1 173.6V181.4M466.6 164.9V176.7M467.1 166.2V172.4M467.6 166.9V176.7M468.1 170.5V176.0M468.6 170.0V177.2M469.1 172.4V177.9M469.6 171.7V178.0M470.1 166.8V179.2M470.6 166.6V175.1M471.1 169.1V177.1M471.6 171.2V178.7M472.1 174.2V180.7M472.6 170.7V178.8M473.1 168.8V175.9M473.6 167.2V175.8M474.1 170.8V176.0M474.6 167.5V177.3M475.1 167.5V175.4M475.6 171.0V178.8M476.1 172.5V183.6M476.6 171.2V180.0M477.1 172.4V179.0M477.6 171.6V178.5M478.1 171.7V178.5M478.6 170.3V175.8M479.1 171.7V182.3M479.6 170.9V183.2M480.1 170.4V179.1M480.6 171.8V176.1M481.1 172.1V178.4M481.6 168.1V176.2M482.1 169.7V180.0M482.6 174.3V184.1M483.1 175.2V184.7M483.6 172.8V180.5M484.1 166.2V177.1M484.6 165.9V181.2M485.1 165.9V174.8M485.6 168.9V177.2M486.1 170.7V177.9M486.6 170.1V180.7M487.1 176.3V183.0M487.6 172.7V179.6M488.1 165.6V172.8M488.6 164.4V172.6M489.1 166.9V171.9M489.6 167.7V175.9M490.1 171.7V178.8M490.6 168.9V180.0M491.1 169.7V175.6M491.6 164.9V176.2M492.1 165.3V170.8M492.6 164.8V169.0M493.1 165.7V172.9M493.6 169.9V182.1M494.1 169.4V179.7M494.6 165.8V176.5M495.1 167.9V173.8M495.6 167.9V175.5M496.1 168.8V176.3M496.6 170.2V176.1M497.1 168.1V174.9M497.6 169.8V173.0M498.1 166.1V176.0M498.6 171.5V175.4M499.1 171.9V181.0M499.6 173.5V179.1M500.1 173.3V179.1M500.6 168.8V178.2M501.1 168.5V174.2M501.6 167.9V173.4M502.1 168.7V172.5M502.6 169.8V177.4M503.1 169.0V172.8M503.6 169.4V175.4M504.1 168.8V175.4M504.6 165.9V174.7M505.1 170.7V176.5M505.6 171.3V176.3M506.1 168.5V177.2M506.6 169.1V178.6M507.1 173.5V182.2M507.6 174.0V181.0M508.1 174.1V180.6M508.6 174.1V179.5M509.1 171.0V179.0M509.6 166.2V177.9M510.1 168.5V177.9M510.6 160.7V172.7M511.1 160.7V165.9M511.6 158.6V168.8M512.0 159.4V168.0M512.5 161.6V173.6M513.0 162.6V171.4M513.5 161.8V169.1M514.0 156.1V169.1M514.5 156.8V163.5M515.0 154.1V167.5M515.5 160.1V164.8M516.0 158.3V166.7M516.5 160.7V165.4M517.0 161.6V170.1M517.5 158.9V169.1M518.0 158.7V166.7M518.5 155.0V162.4M519.0 156.3V165.0M519.5 157.9V163.4M520.0 157.9V164.4M520.5 156.6V165.3M521.0 157.3V162.5M521.5 158.1V166.6M522.0 155.3V160.5M522.5 155.3V164.4M523.0 159.8V164.4M523.5 159.7V166.1M524.0 159.7V169.1M524.5 161.5V169.1M525.0 161.5V170.2M525.5 161.7V167.5M526.0 158.4V166.2M526.5 164.8V171.0M527.0 162.7V171.4M527.5 165.2V174.4M528.0 161.2V171.2M528.5 164.0V168.0M529.0 160.7V168.1M529.5 165.5V172.7M530.0 162.4V168.4M530.5 162.1V169.9M531.0 162.0V169.9M531.5 159.4V165.7M532.0 159.4V165.8M532.5 158.1V162.9M533.0 162.2V171.3M533.5 167.5V172.2M534.0 162.6V169.5M534.5 161.0V169.6M535.0 161.0V169.1M535.5 161.5V170.9M536.0 158.7V168.6M536.5 161.9V167.5M537.0 164.0V172.7M537.5 163.4V171.3M538.0 163.3V172.4M538.5 164.8V173.7M539.0 162.6V173.3M539.5 163.1V171.5M540.0 164.9V172.0M540.5 164.9V170.7M541.0 164.5V170.6M541.5 159.8V170.2M542.0 159.5V165.9M542.5 162.6V169.5M543.0 156.3V163.3M543.5 155.1V162.3M544.0 156.5V165.6M544.5 149.3V164.1M545.0 150.9V160.9M545.5 154.1V164.0M546.0 156.7V163.7M546.5 155.1V160.1M547.0 146.6V157.3M547.5 147.3V156.0M548.0 144.2V152.2M548.5 149.7V154.7M549.0 147.1V154.9M549.5 142.2V153.5M550.0 145.2V154.9M550.5 144.0V154.8M551.0 144.0V152.1M551.5 142.6V151.2M552.0 144.2V153.2M552.5 149.3V155.1M553.0 149.3V154.8M553.5 148.2V154.4M554.0 152.7V155.6M554.5 153.0V160.6M555.0 145.3V156.9M555.5 145.3V149.3M556.0 149.3V156.5M556.5 146.0V150.9M557.0 148.6V154.2M557.5 144.8V154.0M558.0 145.3V154.3M558.5 145.3V156.4M559.0 147.0V153.8M559.5 146.4V157.4M560.0 152.1V158.5M560.5 146.2V154.2M561.0 149.4V156.9M561.5 154.8V161.0M562.0 153.2V161.1M562.5 151.2V158.6M563.0 148.4V158.6M563.5 150.0V156.0M564.0 151.2V156.6M564.5 152.2V156.8M565.0 149.7V156.8M565.5 150.8V158.7M566.0 155.6V162.6M566.5 149.8V159.1M567.0 155.4V164.1M567.5 152.4V159.4M568.0 152.7V160.6M568.5 157.5V165.3M569.0 157.4V162.6M569.5 155.8V161.4M570.0 157.7V162.3M570.5 157.5V165.2M571.0 156.4V162.5M571.5 155.9V163.9M572.0 160.6V164.7M572.5 161.4V168.3M573.0 163.6V168.5M573.5 160.5V168.0M574.0 164.1V171.7M574.5 161.3V168.2M575.0 161.3V169.9M575.5 163.4V173.1M576.0 162.9V168.2M576.5 162.9V168.2M577.0 157.3V166.9M577.5 157.9V167.0M578.0 157.9V168.3M578.5 152.6V163.1M579.0 153.3V164.4M579.5 158.6V164.3M580.0 161.1V170.2M580.5 159.2V165.0M581.0 156.3V165.0M581.5 155.1V163.5M582.0 153.8V160.3M582.5 156.1V160.2M583.0 156.1V165.2M583.5 156.1V162.7M584.0 156.8V169.8M584.5 158.3V169.8M585.0 158.0V166.0M585.5 157.1V165.5M586.0 157.7V163.6M586.5 156.9V164.9M587.0 155.2V162.9M587.5 151.3V159.3M588.0 151.2V159.8M588.5 151.2V162.7M589.0 158.2V164.2M589.5 153.3V163.3M590.0 158.7V163.4M590.5 154.7V164.0M591.0 156.7V169.0M591.5 156.6V166.0M592.0 156.6V167.3M592.5 155.7V165.9M593.0 151.8V163.5M593.5 157.2V163.3M594.0 154.4V162.2M594.5 153.8V159.0M595.0 155.0V167.3M595.5 164.1V171.2M596.0 161.5V172.2M596.5 161.9V167.4M597.0 159.6V166.4M597.5 155.1V164.5M598.0 159.0V166.5M598.5 161.9V166.4M599.0 161.9V166.4M599.5 161.9V168.8M600.0 159.4V165.4M600.5 153.3V164.7M601.0 153.3V160.0M601.5 158.8V167.7M602.0 156.3V165.9M602.5 156.1V166.0M603.0 154.9V165.1M603.5 155.6V164.7M604.0 155.6V164.1M604.5 156.7V164.9M605.0 154.1V163.8M605.5 154.2V160.2M606.0 155.6V162.5M606.5 152.2V163.3M607.0 151.4V162.0M607.5 156.4V161.0M608.0 157.1V164.0M608.5 152.9V162.8M609.0 153.6V164.9M609.5 156.6V163.8M610.0 161.0V166.1M610.5 161.1V166.5M611.0 156.4V167.5M611.5 156.4V169.4M612.0 152.0V164.9M612.5 152.0V166.6M613.0 159.1V168.1M613.5 160.4V169.5M614.0 161.9V169.5M614.5 160.2V165.7M615.0 161.0V170.8M615.5 159.9V169.4M616.0 156.5V169.4M616.5 160.3V171.6M617.0 163.6V170.3M617.5 163.2V170.3M618.0 165.1V175.8M618.5 163.8V172.3M619.0 162.0V172.6M619.5 164.8V174.2M620.0 162.9V170.8M620.5 162.6V170.5M621.0 162.6V166.6M621.5 161.3V169.9M622.0 162.3V169.7M622.5 162.2V168.5M623.0 156.7V168.9M623.5 160.5V162.8M624.0 154.7V163.2M624.5 155.8V164.2M625.0 157.8V166.1M625.5 158.7V168.4M626.0 156.9V164.5M626.5 157.8V166.9M627.0 157.7V164.4M627.5 160.4V166.8M628.0 157.7V166.2M628.5 157.4V167.1M629.0 165.0V172.3M629.5 158.2V170.2M630.0 151.4V164.3M630.5 158.1V165.9M631.0 163.2V169.3M631.5 157.2V169.7M632.0 165.6V172.3M632.5 156.5V167.7M633.0 159.5V166.0M633.5 152.2V161.3M634.0 156.1V164.6M634.5 152.0V165.4M635.0 153.5V159.3M635.5 154.3V162.8M636.0 158.1V163.0M636.5 159.0V164.1M637.0 155.6V161.8M637.5 156.5V164.5M638.0 156.5V161.2M638.5 153.7V159.2M639.0 151.3V157.2M639.5 153.4V158.8M640.0 154.8V159.0M640.5 156.3V163.0M641.0 152.8V158.2M641.5 155.3V160.2M642.0 152.8V159.2M642.5 150.1V161.2M643.0 149.7V156.6M643.5 153.3V156.6M644.0 153.3V158.6M644.5 152.3V162.7M645.0 154.9V166.8M645.5 153.4V159.9M646.0 155.5V161.0M646.5 154.6V161.8M647.0 154.1V159.6M647.5 156.3V164.6M648.0 154.2V161.8M648.5 158.9V164.1M649.0 153.2V163.5M649.5 150.2V163.3M650.0 154.1V164.1M650.5 158.0V165.9M651.0 155.0V165.9M651.5 155.0V162.1M652.0 154.5V161.3M652.5 153.0V162.0M653.0 156.8V163.7M653.5 154.7V159.9M654.0 152.0V159.9M654.5 152.0V161.8M655.0 153.4V161.9M655.5 157.3V165.1M656.0 153.3V158.5M656.5 155.0V163.0M657.0 159.5V165.3M657.5 156.8V162.9M658.0 160.5V170.7M658.5 162.0V170.2M659.0 157.6V166.5M659.5 161.3V173.6M660.0 158.0V164.7M660.5 155.2V165.8M661.0 153.2V167.1M661.5 153.2V164.6M662.0 162.6V166.6M662.5 159.3V166.6M663.0 158.3V164.5M663.5 156.2V166.4M664.0 161.7V165.2M664.5 160.3V166.9M665.0 161.1V172.3M665.5 164.7V169.9M666.0 161.8V167.0M666.5 157.7V165.0M667.0 160.7V166.8M667.5 161.2V166.4M668.0 162.0V168.7M668.5 162.5V167.9M669.0 160.7V167.0M669.5 160.7V168.8M670.0 161.2V168.0M670.5 162.7V165.3M671.0 163.3V167.2M671.5 159.1V169.4M672.0 161.8V167.6M672.5 157.7V167.6M673.0 161.6V167.6M673.5 156.4V162.7M674.0 159.2V168.6M674.5 159.8V168.3M675.0 161.0V169.9M675.5 157.7V164.4M676.0 157.9V161.4M676.5 155.4V164.7M677.0 155.7V160.9M677.5 157.3V160.6" fill="none" stroke="#08c985" stroke-width="1.0" clip-path="url(#cD)"/>
<path d="M351.6 191.9V200.2M352.1 196.8V202.0M352.6 197.2V203.0M353.1 196.8V201.3M353.6 193.9V204.8M354.1 191.2V200.8M354.6 191.2V202.0M355.1 198.3V204.8M355.6 195.3V204.8M356.1 193.3V199.4M356.6 194.8V203.9M357.1 196.4V201.3M357.6 194.8V202.2M358.1 191.8V202.4M358.6 197.8V202.8M359.1 196.4V206.9M359.6 193.1V203.4M360.1 194.1V201.1M360.6 194.6V200.4M361.1 194.8V206.2M361.6 197.8V204.7M362.1 201.9V205.4M362.6 202.4V207.4M363.1 194.6V204.8M363.6 197.3V203.9M364.1 190.4V203.5M364.6 190.4V204.1M365.1 196.0V203.9M365.6 191.1V200.9M366.1 186.7V196.4M366.6 186.7V195.9M367.1 188.7V196.4M367.6 188.2V193.6M368.1 189.1V196.8M368.6 184.0V192.1M369.1 186.0V192.1M369.6 184.4V192.1M370.1 186.9V192.4M370.6 180.5V192.6M371.1 182.1V187.3M371.6 181.5V190.9M372.1 185.7V193.6M372.6 182.5V191.6M373.1 185.6V194.8M373.6 189.4V201.1M374.1 185.1V197.2M374.6 192.6V197.3M375.1 191.0V200.5M375.6 194.1V200.4M376.1 189.9V198.5M376.6 190.4V197.4M377.1 190.4V197.4M377.6 191.4V201.4M378.1 195.7V202.0M378.6 191.4V199.9M379.1 190.5V199.6M379.6 197.2V201.9M380.1 197.0V202.1M380.6 194.6V202.4M381.1 194.6V203.3M381.6 193.6V202.8M382.1 197.2V203.0M382.6 197.6V207.6M383.1 194.2V200.5M383.6 194.4V200.8M384.1 192.2V199.6M384.6 191.4V201.6M385.1 190.1V196.8M385.6 189.1V194.6M386.1 177.9V189.1M386.6 177.6V183.4M387.1 175.7V183.8M387.6 175.5V186.3M388.1 175.5V183.7M388.6 171.9V179.3M389.1 175.6V179.9M389.6 178.0V188.5M390.1 176.8V184.0M390.6 175.6V182.9M391.1 175.5V185.9M391.6 176.4V185.1M392.1 175.2V181.6M392.6 173.7V182.6M393.1 177.6V184.7M393.6 177.4V189.9M394.1 180.0V187.4M394.6 180.0V186.3M395.1 179.3V185.8M395.6 180.4V191.1M396.1 176.6V184.8M396.6 176.7V186.0M397.1 180.8V189.7M397.6 179.1V186.6M398.1 179.4V183.7M398.6 178.1V183.6M399.1 173.5V181.6M399.6 179.3V187.4M400.1 179.5V186.6M400.6 177.8V185.6M401.1 177.7V182.6M401.6 175.6V182.0M402.1 173.2V187.2M402.6 175.0V182.8M403.1 180.8V186.9M403.6 177.2V186.9M404.1 176.9V185.8M404.6 176.5V186.3M405.1 172.4V181.5M405.6 171.3V181.5M406.1 178.9V186.5M406.6 174.1V184.1M407.1 174.4V182.1M407.6 174.4V182.5M408.1 175.8V183.5M408.6 178.7V185.7M409.1 178.2V183.5M409.6 182.0V187.4M410.1 179.9V190.2M410.6 179.8V185.0M411.1 179.8V189.8M411.6 183.1V188.0M412.1 185.0V196.8M412.6 181.6V193.0M413.1 181.6V190.4M413.6 184.5V191.1M414.1 182.8V191.8M414.6 182.6V186.9M415.1 177.9V185.1M415.6 181.1V187.3M416.1 178.9V186.9M416.6 178.7V186.6M417.1 180.0V190.4M417.6 181.6V189.2M418.1 181.4V195.2M418.6 188.1V195.2M419.1 188.4V191.4M419.6 183.3V189.0M420.1 180.7V189.1M420.6 182.6V188.5M421.1 183.8V190.9M421.6 183.8V191.2M422.1 185.2V191.2M422.6 181.1V189.2M423.1 182.0V189.1M423.6 182.7V188.5M424.1 183.2V191.8M424.6 184.0V191.5M425.1 184.3V190.4M425.6 184.3V194.3M426.1 181.6V194.3M426.6 183.7V189.9M427.1 183.7V189.5M427.6 178.8V188.9M428.1 185.0V193.0M428.6 187.2V193.0M429.1 189.4V193.6M429.6 184.3V191.6M430.1 185.6V193.4M430.6 185.0V192.6M431.1 188.4V194.0M431.6 190.7V195.4M432.1 187.5V193.0M432.6 187.1V190.9M433.1 185.4V193.7M433.6 185.5V196.2M434.1 189.6V200.8M434.6 190.4V198.5M435.1 186.9V197.0M435.6 187.4V193.8M436.1 186.4V193.8M436.6 179.8V189.8M437.1 185.8V192.5M437.6 184.5V192.8M438.1 184.8V195.2M438.6 187.6V197.0M439.1 188.3V193.9M439.6 185.1V193.8M440.1 185.4V193.1M440.6 182.7V189.3M441.1 181.6V187.5M441.6 186.2V193.6M442.1 187.0V194.8M442.6 182.4V191.3M443.1 184.6V192.8M443.6 182.8V190.0M444.1 182.0V189.2M444.6 187.4V191.2M445.1 183.9V191.0M445.6 182.6V187.1M446.1 183.3V191.2M446.6 183.9V189.1M447.1 179.6V187.3M447.6 180.2V187.8M448.1 181.9V189.4M448.6 180.9V185.6M449.1 182.2V193.7M449.6 183.5V190.0M450.1 184.3V194.1M450.6 180.6V189.4M451.1 179.9V188.5M451.6 183.5V190.6M452.1 183.5V194.5M452.6 187.4V197.1M453.1 183.2V195.6M453.6 184.8V193.8M454.1 184.6V194.4M454.6 184.7V195.5M455.1 185.9V192.2M455.6 184.1V188.1M456.1 185.4V191.6M456.6 183.5V191.4M457.1 182.8V185.4M457.6 183.0V189.4M458.1 183.5V192.5M458.6 181.8V191.8M459.1 178.9V187.2M459.6 183.3V189.2M460.1 184.6V192.9M460.6 187.2V192.9M461.1 187.7V195.2M461.6 187.4V192.3M462.1 184.4V192.1M462.6 186.4V193.9M463.1 189.0V194.4M463.6 186.7V192.8M464.1 183.6V194.0M464.6 183.4V193.1M465.1 186.4V193.5M465.6 186.4V194.7M466.1 186.6V192.0M466.6 185.3V190.4M467.1 183.7V191.5M467.6 183.8V190.1M468.1 183.4V192.9M468.6 176.8V185.1M469.1 181.9V186.2M469.6 185.2V194.1M470.1 182.5V187.7M470.6 182.3V188.6M471.1 181.3V187.4M471.6 181.8V189.5M472.1 181.8V191.1M472.6 178.0V189.3M473.1 182.1V186.2M473.6 179.8V191.1M474.1 186.1V192.1M474.6 181.4V187.5M475.1 181.7V189.1M475.6 179.9V190.3M476.1 181.7V190.3M476.6 183.0V190.5M477.1 184.8V189.8M477.6 178.7V190.8M478.1 184.5V190.0M478.6 179.7V189.9M479.1 186.6V193.5M479.6 190.2V194.9M480.1 188.0V197.3M480.6 190.4V197.8M481.1 187.3V194.6M481.6 184.6V191.7M482.1 183.8V190.5M482.6 187.7V192.0M483.1 183.4V192.0M483.6 184.1V193.0M484.1 188.6V193.5M484.6 187.5V195.9M485.1 184.3V188.9M485.6 187.1V197.7M486.1 192.1V196.2M486.6 187.6V196.5M487.1 181.1V192.3M487.6 188.5V193.7M488.1 188.6V193.2M488.6 188.1V194.2M489.1 187.5V195.2M489.6 189.1V193.8M490.1 186.8V195.8M490.6 187.2V195.8M491.1 183.4V192.6M491.6 185.1V188.7M492.1 185.7V191.0M492.6 186.8V193.7M493.1 184.4V189.6M493.6 179.4V190.2M494.1 182.1V186.9M494.6 180.8V187.0M495.1 180.7V187.9M495.6 181.6V188.0M496.1 182.7V193.6M496.6 185.7V191.7M497.1 183.6V192.2M497.6 184.5V190.9M498.1 184.5V194.3M498.6 186.2V194.3M499.1 185.5V189.5M499.6 180.4V187.7M500.1 179.2V188.2M500.6 184.1V190.7M501.1 186.6V193.0M501.6 184.3V189.3M502.1 186.9V192.0M502.6 188.7V193.5M503.1 185.2V189.9M503.6 180.8V190.4M504.1 181.7V190.1M504.6 180.7V189.1M505.1 185.5V193.6M505.6 179.8V190.4M506.1 183.1V190.7M506.6 182.1V186.1M507.1 182.2V190.9M507.6 181.7V190.0M508.1 180.3V184.1M508.6 178.6V186.0M509.1 177.9V185.5M509.6 182.3V190.1M510.1 177.1V188.7M510.6 181.1V188.9M511.1 183.6V190.6M511.6 187.4V191.9M512.0 187.3V191.7M512.5 190.0V195.4M513.0 181.3V192.3M513.5 181.3V189.1M514.0 186.7V192.2M514.5 187.6V192.4M515.0 183.9V191.7M515.5 180.8V189.8M516.0 181.7V189.8M516.5 178.6V188.3M517.0 179.7V191.0M517.5 177.7V188.4M518.0 180.0V185.4M518.5 184.4V187.5M519.0 184.5V190.9M519.5 179.5V187.3M520.0 182.2V189.5M520.5 178.9V185.2M521.0 180.2V188.5M521.5 181.8V192.5M522.0 182.2V188.7M522.5 184.8V191.5M523.0 186.3V191.7M523.5 180.8V192.9M524.0 180.8V187.5M524.5 179.3V187.4M525.0 184.3V189.5M525.5 183.1V190.0M526.0 182.9V192.0M526.5 185.5V192.0M527.0 182.6V193.1M527.5 183.7V193.1M528.0 183.7V191.1M528.5 183.8V189.5M529.0 185.4V190.1M529.5 185.9V192.0M530.0 186.7V194.6M530.5 187.6V196.7M531.0 183.4V195.0M531.5 186.0V197.3M532.0 190.4V196.1M532.5 190.6V198.0M533.0 190.5V198.9M533.5 189.8V198.9M534.0 190.4V200.8M534.5 190.6V201.4M535.0 186.5V201.4M535.5 189.4V198.5M536.0 189.9V198.3M536.5 188.9V198.0M537.0 189.1V195.0M537.5 182.9V192.4M538.0 186.0V191.5M538.5 183.3V191.4M539.0 184.9V193.1M539.5 186.7V195.5M540.0 192.9V196.7M540.5 193.3V199.3M541.0 189.6V202.8M541.5 188.7V196.0M542.0 187.5V196.8M542.5 187.0V195.9M543.0 179.0V188.6M543.5 180.4V192.4M544.0 183.2V190.4M544.5 178.0V185.9M545.0 180.6V187.1M545.5 182.8V189.2M546.0 185.6V190.9M546.5 182.2V190.9M547.0 180.4V190.6M547.5 182.6V189.2M548.0 179.9V188.5M548.5 178.6V189.8M549.0 185.8V192.6M549.5 183.7V186.9M550.0 178.4V189.1M550.5 177.9V189.8M551.0 177.9V187.1M551.5 181.7V187.1M552.0 180.3V187.1M552.5 185.4V192.2M553.0 182.6V189.6M553.5 183.9V188.2M554.0 181.3V190.5M554.5 185.8V191.0M555.0 186.1V195.1M555.5 188.0V194.1M556.0 180.9V191.5M556.5 182.0V187.3M557.0 182.9V189.4M557.5 185.7V191.2M558.0 183.6V194.4M558.5 181.6V190.3M559.0 185.3V192.7M559.5 176.6V188.0M560.0 182.2V193.5M560.5 178.2V184.3M561.0 178.7V188.8M561.5 179.9V185.8M562.0 179.7V186.3M562.5 174.1V185.0M563.0 172.5V180.0M563.5 175.5V182.3M564.0 178.5V185.0M564.5 180.0V187.4M565.0 178.5V183.4M565.5 180.0V184.3M566.0 179.7V186.8M566.5 180.2V186.9M567.0 180.5V186.9M567.5 176.4V182.8M568.0 176.9V186.6M568.5 176.9V186.1M569.0 177.6V183.5M569.5 174.4V186.6M570.0 174.4V184.3M570.5 174.9V183.0M571.0 171.6V182.7M571.5 170.2V178.5M572.0 175.7V186.1M572.5 181.1V187.5M573.0 176.2V186.0M573.5 179.8V188.0M574.0 181.4V186.6M574.5 179.0V186.2M575.0 180.0V186.3M575.5 177.3V183.9M576.0 173.7V182.4M576.5 173.7V185.2M577.0 172.7V182.6M577.5 170.1V180.2M578.0 175.7V182.7M578.5 176.9V183.2M579.0 171.3V183.3M579.5 172.8V180.5M580.0 174.6V183.9M580.5 179.1V185.7M581.0 181.4V187.6M581.5 177.1V184.2M582.0 173.4V180.0M582.5 175.2V183.3M583.0 172.3V181.8M583.5 172.3V185.6M584.0 178.7V185.6M584.5 181.6V188.9M585.0 178.2V188.0M585.5 180.7V187.9M586.0 181.2V191.2M586.5 181.0V190.3M587.0 186.5V194.6M587.5 183.0V191.7M588.0 181.4V190.9M588.5 183.9V190.8M589.0 184.3V191.7M589.5 183.9V190.3M590.0 178.0V186.8M590.5 175.6V184.3M591.0 175.3V184.3M591.5 171.1V183.0M592.0 173.6V183.3M592.5 178.0V183.4M593.0 178.8V187.1M593.5 177.7V184.9M594.0 179.2V185.2M594.5 173.2V181.4M595.0 176.3V180.0M595.5 174.4V182.8M596.0 177.6V184.0M596.5 174.9V180.9M597.0 174.9V185.7M597.5 178.7V186.0M598.0 178.4V183.7M598.5 174.2V182.3M599.0 178.7V185.6M599.5 176.5V187.4M600.0 181.6V184.0M600.5 178.5V185.3M601.0 175.9V187.3M601.5 183.0V187.5M602.0 183.5V188.8M602.5 177.9V185.8M603.0 177.2V185.9M603.5 180.9V187.8M604.0 184.5V194.2M604.5 188.3V193.5M605.0 188.0V193.4M605.5 188.8V198.3M606.0 190.8V197.7M606.5 185.2V195.6M607.0 184.8V191.9M607.5 185.9V194.5M608.0 188.0V195.6M608.5 188.9V193.4M609.0 182.2V190.5M609.5 181.2V190.5M610.0 181.7V189.3M610.5 181.6V187.4M611.0 177.1V187.4M611.5 177.7V186.6M612.0 176.7V186.3M612.5 183.0V189.4M613.0 187.7V193.2M613.5 186.4V193.2M614.0 183.6V191.0M614.5 180.4V189.0M615.0 180.2V187.6M615.5 182.6V189.2M616.0 178.2V186.7M616.5 180.0V183.9M617.0 178.3V185.6M617.5 177.4V182.8M618.0 177.4V184.1M618.5 174.3V186.5M619.0 173.3V184.5M619.5 181.2V186.9M620.0 175.4V183.3M620.5 178.0V184.9M621.0 176.5V184.9M621.5 178.8V184.7M622.0 175.2V186.8M622.5 177.3V184.1M623.0 174.6V186.9M623.5 179.1V185.7M624.0 172.9V182.2M624.5 174.1V182.7M625.0 173.7V180.2M625.5 171.5V182.7M626.0 173.8V181.0M626.5 176.5V181.4M627.0 175.1V180.7M627.5 179.5V183.2M628.0 173.2V181.0M628.5 170.1V182.2M629.0 174.8V180.9M629.5 169.3V177.5M630.0 175.8V180.7M630.5 178.5V184.1M631.0 180.0V187.3M631.5 179.5V190.6M632.0 181.8V190.6M632.5 180.0V186.0M633.0 178.0V184.0M633.5 178.7V183.3M634.0 176.6V183.4M634.5 178.8V186.0M635.0 178.2V183.3M635.5 178.0V183.8M636.0 179.2V187.3M636.5 177.7V187.3M637.0 177.9V185.3M637.5 177.3V185.3M638.0 179.1V185.1M638.5 178.6V185.0M639.0 183.5V188.9M639.5 182.2V189.1M640.0 180.3V186.9M640.5 183.0V189.0M641.0 180.2V188.8M641.5 180.4V189.1M642.0 181.9V189.6M642.5 178.8V187.9M643.0 180.7V188.4M643.5 183.5V189.3M644.0 178.9V190.6M644.5 182.5V191.0M645.0 185.0V192.1M645.5 184.4V192.1M646.0 184.2V191.7M646.5 184.0V191.1M647.0 182.1V191.1M647.5 184.4V191.8M648.0 182.2V197.1M648.5 186.4V195.3M649.0 184.2V194.5M649.5 179.1V191.2M650.0 179.4V191.2M650.5 179.6V191.6M651.0 181.0V191.2M651.5 186.3V191.0M652.0 186.5V197.0M652.5 187.7V193.9M653.0 183.9V189.5M653.5 188.3V193.5M654.0 187.8V190.5M654.5 188.6V193.2M655.0 184.7V194.1M655.5 183.2V189.8M656.0 184.6V193.0M656.5 186.0V192.4M657.0 184.7V191.5M657.5 184.5V193.6M658.0 183.3V189.2M658.5 184.1V191.6M659.0 184.1V193.6M659.5 186.0V193.5M660.0 186.7V197.0M660.5 186.7V196.1M661.0 194.3V200.6M661.5 189.3V199.5M662.0 187.2V195.7M662.5 187.6V196.8M663.0 189.7V195.3M663.5 188.3V194.8M664.0 187.9V196.1M664.5 188.7V199.0M665.0 188.5V198.6M665.5 189.4V198.3M666.0 189.6V197.2M666.5 184.9V192.0M667.0 186.9V189.6M667.5 180.8V191.8M668.0 182.9V189.5M668.5 177.3V191.7M669.0 178.6V188.1M669.5 177.8V186.6M670.0 176.8V183.0M670.5 174.1V183.4M671.0 168.9V183.4M671.5 168.9V179.3M672.0 172.9V181.8M672.5 172.2V177.9M673.0 174.6V183.9M673.5 176.5V182.5M674.0 172.8V181.3M674.5 176.5V179.5M675.0 173.9V179.7M675.5 174.8V184.5M676.0 173.9V183.3M676.5 171.7V184.3M677.0 175.3V182.3M677.5 172.6V175.5" fill="none" stroke="#f70a8b" stroke-width="1.0" clip-path="url(#cD)"/>
<path d="M351.5 122.5H677.5V211.0H351.5Z" fill="none" stroke="#5c5c5c" stroke-width="1"/>
<path d="M349.70 211.00H351.5M349.70 196.25H351.5M349.70 181.50H351.5M349.70 166.75H351.5M349.70 152.00H351.5M349.70 137.25H351.5M349.70 122.50H351.5M351.50 211.0V212.80M416.70 211.0V212.80M481.90 211.0V212.80M547.10 211.0V212.80M612.30 211.0V212.80M677.50 211.0V212.80M384.10 211.0V212.00M449.30 211.0V212.00M514.50 211.0V212.00M579.70 211.0V212.00M644.90 211.0V212.00" stroke="#5c5c5c" stroke-width="1"/>
<text x="348.1" y="211.90" font-size="7.0" text-anchor="end" dominant-baseline="central">2.10</text>
<text x="348.1" y="197.15" font-size="7.0" text-anchor="end" dominant-baseline="central">2.15</text>
<text x="348.1" y="182.40" font-size="7.0" text-anchor="end" dominant-baseline="central">2.20</text>
<text x="348.1" y="167.65" font-size="7.0" text-anchor="end" dominant-baseline="central">2.25</text>
<text x="348.1" y="152.90" font-size="7.0" text-anchor="end" dominant-baseline="central">2.30</text>
<text x="348.1" y="138.15" font-size="7.0" text-anchor="end" dominant-baseline="central">2.35</text>
<text x="348.1" y="123.40" font-size="7.0" text-anchor="end" dominant-baseline="central">2.40</text>
<text x="351.50" y="217.6" font-size="7.4" text-anchor="middle" dominant-baseline="central">0</text>
<text x="416.70" y="217.6" font-size="7.4" text-anchor="middle" dominant-baseline="central">20</text>
<text x="481.90" y="217.6" font-size="7.4" text-anchor="middle" dominant-baseline="central">40</text>
<text x="547.10" y="217.6" font-size="7.4" text-anchor="middle" dominant-baseline="central">60</text>
<text x="612.30" y="217.6" font-size="7.4" text-anchor="middle" dominant-baseline="central">80</text>
<text x="677.50" y="217.6" font-size="7.4" text-anchor="middle" dominant-baseline="central">100</text>
<text x="352.9" y="136.2" font-size="12">D</text>
<text x="496.9" y="230.8" font-size="8.6" textLength="31.1" lengthAdjust="spacingAndGlyphs">Time(ns)</text>
<text transform="translate(329.8,178.4) rotate(-90)" font-size="8.5" textLength="27.2" lengthAdjust="spacingAndGlyphs">Rg (nm)</text>
<path d="M351.1 307.2V318.0M351.6 307.2V315.8M352.1 312.7V321.8M352.6 310.8V320.3M353.1 314.6V319.6M353.6 314.6V320.2M354.1 312.4V319.6M354.6 307.3V319.4M355.1 307.3V322.6M355.6 315.4V320.5M356.1 312.3V322.2M356.6 310.7V321.9M357.1 312.0V319.9M357.6 314.5V321.5M358.1 308.8V319.6M358.6 306.4V313.7M359.1 303.5V311.2M359.6 305.8V314.9M360.1 303.4V309.9M360.6 298.7V308.8M361.1 306.3V314.8M361.6 303.9V310.4M362.1 303.0V313.1M362.6 305.6V315.6M363.1 305.4V311.0M363.6 305.4V313.4M364.1 298.7V307.3M364.6 301.0V308.4M365.1 299.5V307.3M365.6 297.9V306.7M366.1 296.7V308.1M366.6 298.7V307.6M367.1 297.1V308.6M367.6 294.2V301.3M368.1 294.1V307.9M368.6 298.6V305.8M369.1 301.1V307.3M369.6 301.3V307.0M370.1 300.4V309.0M370.6 302.1V305.4M371.1 300.3V306.9M371.6 297.4V305.3M372.1 299.2V304.4M372.6 300.8V308.2M373.1 296.5V305.4M373.6 294.3V309.9M374.1 302.7V309.3M374.6 303.8V309.0M375.1 302.9V312.3M375.6 301.9V309.8M376.1 301.4V309.8M376.6 300.5V307.8M377.1 300.3V308.7M377.6 296.8V303.9M378.1 297.6V302.4M378.6 295.3V303.7M379.1 300.1V305.0M379.6 300.1V311.4M380.1 297.8V308.2M380.6 298.1V304.7M381.1 295.7V305.9M381.6 296.9V306.5M382.1 297.6V308.7M382.6 303.2V310.4M383.1 298.9V308.4M383.6 299.5V306.6M384.1 293.3V300.6M384.6 293.4V299.6M385.1 292.2V302.2M385.6 291.6V299.0M386.1 293.8V302.4M386.6 293.0V301.4M387.1 293.2V298.9M387.6 290.5V300.5M388.1 286.5V296.8M388.6 292.3V297.3M389.1 292.3V300.3M389.6 292.5V300.3M390.1 290.9V299.7M390.6 292.0V297.8M391.1 290.7V297.8M391.6 288.3V293.9M392.1 287.3V294.6M392.6 287.1V296.0M393.1 290.6V300.9M393.6 289.5V300.9M394.1 285.7V293.8M394.6 290.2V296.9M395.1 285.6V299.6M395.6 285.0V298.4M396.1 292.5V296.3M396.6 290.3V294.8M397.1 289.5V297.1M397.6 283.3V294.1M398.1 283.3V300.8M398.6 290.2V300.8M399.1 290.6V296.7M399.6 293.1V299.3M400.1 293.3V302.8M400.6 294.3V305.6M401.1 296.9V302.3M401.6 291.0V302.5M402.1 292.0V300.5M402.6 294.7V300.5M403.1 289.5V298.6M403.6 290.6V298.0M404.1 288.6V294.4M404.6 292.2V302.7M405.1 290.5V304.8M405.6 294.2V298.9M406.1 289.9V299.8M406.6 293.8V302.0M407.1 294.2V302.7M407.6 297.2V302.2M408.1 295.6V302.9M408.6 294.1V302.9M409.1 293.1V302.7M409.6 294.9V300.6M410.1 294.1V298.1M410.6 293.4V302.5M411.1 298.0V302.5M411.6 290.1V300.8M412.1 290.1V300.5M412.6 293.4V300.5M413.1 293.9V301.4M413.6 290.9V302.9M414.1 291.3V296.5M414.6 291.3V297.5M415.1 289.8V297.2M415.6 290.0V295.2M416.1 294.5V301.2M416.6 290.5V297.3M417.1 290.7V296.7M417.6 289.9V294.0M418.1 293.0V300.1M418.6 292.7V298.0M419.1 294.1V299.8M419.6 295.4V303.3M420.1 294.1V300.4M420.6 295.6V304.9M421.1 295.7V301.4M421.6 296.0V303.2M422.1 296.7V304.6M422.6 295.4V303.1M423.1 295.6V303.3M423.6 298.4V304.7M424.1 298.4V309.3M424.6 296.0V305.2M425.1 297.6V310.2M425.6 301.2V310.9M426.1 297.5V310.9M426.6 299.4V308.6M427.1 300.3V309.1M427.6 304.4V311.3M428.1 300.9V308.2M428.6 293.6V305.1M429.1 298.2V305.9M429.6 296.5V304.3M430.1 295.9V307.2M430.6 292.0V303.6M431.1 292.0V300.1M431.6 294.3V305.1M432.1 293.5V306.4M432.6 295.2V303.5M433.1 293.3V301.0M433.6 298.5V301.7M434.1 294.0V302.4M434.6 297.9V306.2M435.1 297.1V302.3M435.6 294.8V302.3M436.1 296.1V306.6M436.6 295.3V301.8M437.1 297.2V301.8M437.6 294.3V304.5M438.1 292.1V304.0M438.6 295.3V300.7M439.1 296.5V304.4M439.6 295.1V302.7M440.1 294.4V299.4M440.6 294.7V299.7M441.1 295.1V301.8M441.6 293.2V301.9M442.1 296.4V304.9M442.6 294.9V301.7M443.1 294.0V303.1M443.6 292.5V299.8M444.1 291.6V300.4M444.6 288.1V303.2M445.1 292.5V298.2M445.6 295.2V301.1M446.1 290.9V301.1M446.6 288.6V298.1M447.1 289.2V295.7M447.6 283.9V294.8M448.1 284.1V290.4M448.6 282.8V290.9M449.1 286.3V292.2M449.6 286.3V290.7M450.1 287.1V293.6M450.6 282.8V292.4M451.1 282.8V289.8M451.6 284.0V294.3M452.1 285.1V291.9M452.6 289.1V296.0M453.1 289.3V294.9M453.6 288.0V296.9M454.1 289.7V297.7M454.6 285.8V297.7M455.1 283.2V290.6M455.6 285.7V292.7M456.1 282.0V295.7M456.6 284.8V292.0M457.1 288.1V295.7M457.6 280.4V288.5M458.1 283.0V291.6M458.6 283.9V290.3M459.1 283.9V290.8M459.6 283.9V292.8M460.1 280.6V288.5M460.6 280.4V290.8M461.1 284.2V289.1M461.6 284.2V289.4M462.1 281.9V294.9M462.6 280.9V289.5M463.1 283.6V291.1M463.6 279.6V289.9M464.1 279.7V292.6M464.6 284.7V292.6M465.1 289.2V293.5M465.6 284.1V291.6M466.1 284.9V288.5M466.6 280.5V287.9M467.1 281.1V288.9M467.6 278.9V291.0M468.1 278.9V288.6M468.6 280.2V288.6M469.1 286.6V293.8M469.6 284.4V293.8M470.1 281.4V289.2M470.6 280.4V292.0M471.1 286.1V290.3M471.6 284.2V289.9M472.1 282.7V291.6M472.6 283.9V294.9M473.1 282.7V294.4M473.6 282.7V289.7M474.1 279.1V292.8M474.6 279.1V293.2M475.1 284.5V293.8M475.6 285.9V299.1M476.1 290.4V299.1M476.6 291.2V300.4M477.1 290.8V297.5M477.6 290.6V298.4M478.1 289.1V296.7M478.6 290.8V297.4M479.1 291.4V298.3M479.6 288.9V298.7M480.1 290.3V297.9M480.6 288.2V297.6M481.1 288.3V296.1M481.6 289.9V297.9M482.1 282.1V290.6M482.6 282.1V291.7M483.1 287.1V293.0M483.6 287.2V295.0M484.1 287.6V292.7M484.6 289.2V295.0M485.1 286.9V297.5M485.6 284.8V290.9M486.1 283.3V290.8M486.6 285.5V295.1M487.1 282.3V294.4M487.6 285.7V293.3M488.1 282.8V289.9M488.6 283.7V293.5M489.1 287.5V293.3M489.6 283.9V291.5M490.1 281.3V285.7M490.6 282.6V289.1M491.1 284.2V291.5M491.6 286.2V295.8M492.1 284.5V292.4M492.6 289.1V294.6M493.1 289.3V296.6M493.6 284.0V294.1M494.1 287.0V293.4M494.6 288.6V293.7M495.1 286.1V293.8M495.6 283.5V298.3M496.1 284.8V290.9M496.6 287.4V294.5M497.1 284.0V294.3M497.6 280.6V291.2M498.1 285.8V290.5M498.6 284.8V290.8M499.1 283.0V294.4M499.6 284.7V291.0M500.1 284.8V290.6M500.6 281.1V290.6M501.1 284.4V292.1M501.6 284.1V289.6M502.1 282.1V293.7M502.6 284.6V290.9M503.1 282.9V291.6M503.6 287.8V294.3M504.1 286.8V292.5M504.6 285.3V293.9M505.1 280.2V288.0M505.6 284.1V288.6M506.1 283.0V291.7M506.6 279.4V285.9M507.1 281.7V293.3M507.6 285.7V292.7M508.1 282.0V291.1M508.6 282.3V290.2M509.1 283.2V290.2M509.6 274.2V287.1M510.1 276.5V290.3M510.6 281.0V290.9M511.1 283.6V292.5M511.6 283.6V288.0M512.0 283.8V289.6M512.5 280.6V290.7M513.0 285.5V293.1M513.5 282.1V287.9M514.0 281.7V288.4M514.5 281.7V292.5M515.0 281.8V289.9M515.5 281.8V288.7M516.0 283.7V289.0M516.5 282.6V290.5M517.0 287.5V293.7M517.5 284.5V293.9M518.0 285.5V292.4M518.5 285.8V293.2M519.0 288.2V295.2M519.5 287.7V295.2M520.0 284.4V291.4M520.5 282.9V291.3M521.0 287.9V297.6M521.5 289.8V293.6M522.0 291.7V303.8M522.5 289.4V296.4M523.0 283.7V295.9M523.5 286.3V299.0M524.0 290.6V299.0M524.5 291.3V296.8M525.0 292.0V298.0M525.5 290.2V295.6M526.0 287.4V293.1M526.5 289.1V296.3M527.0 287.8V298.4M527.5 286.0V292.5M528.0 285.8V293.6M528.5 281.2V288.7M529.0 283.0V292.5M529.5 287.3V292.6M530.0 283.3V294.2M530.5 287.8V292.1M531.0 282.8V293.9M531.5 281.5V288.6M532.0 281.9V291.6M532.5 286.8V291.4M533.0 283.7V290.3M533.5 288.3V294.1M534.0 286.8V294.1M534.5 287.7V294.7M535.0 286.6V291.4M535.5 282.1V293.3M536.0 279.7V289.5M536.5 284.0V294.2M537.0 280.4V293.0M537.5 280.4V286.6M538.0 278.4V286.6M538.5 282.0V286.6M539.0 282.1V291.8M539.5 284.1V292.4M540.0 282.6V292.4M540.5 283.6V290.2M541.0 280.9V290.7M541.5 284.3V287.9M542.0 279.1V286.4M542.5 278.9V288.8M543.0 280.1V285.4M543.5 281.6V290.1M544.0 279.7V290.4M544.5 280.1V285.4M545.0 279.7V284.3M545.5 275.5V286.2M546.0 275.5V285.8M546.5 283.3V291.9M547.0 284.4V293.0M547.5 279.4V288.9M548.0 279.5V289.5M548.5 284.8V289.5M549.0 278.9V287.7M549.5 282.0V290.0M550.0 279.6V285.3M550.5 281.6V287.6M551.0 281.6V291.0M551.5 279.4V291.0M552.0 281.0V285.0M552.5 279.7V288.8M553.0 284.3V291.8M553.5 280.3V288.7M554.0 279.1V289.3M554.5 279.3V292.6M555.0 281.6V289.0M555.5 279.5V289.5M556.0 279.2V293.2M556.5 279.2V288.0M557.0 283.2V297.5M557.5 286.7V291.1M558.0 282.9V288.7M558.5 284.9V291.6M559.0 285.3V292.7M559.5 284.2V294.1M560.0 285.4V294.0M560.5 290.5V296.5M561.0 288.8V296.2M561.5 287.8V296.5M562.0 289.6V295.4M562.5 289.0V295.4M563.0 289.0V295.1M563.5 290.5V296.0M564.0 294.6V299.1M564.5 289.9V301.3M565.0 286.4V292.8M565.5 287.1V294.3M566.0 286.8V295.2M566.5 282.0V295.0M567.0 288.5V294.6M567.5 289.8V297.7M568.0 288.6V297.0M568.5 294.9V299.2M569.0 291.2V297.0M569.5 293.0V300.3M570.0 291.1V300.1M570.5 291.1V302.2M571.0 296.4V300.9M571.5 294.2V300.6M572.0 294.5V305.1M572.5 294.1V299.8M573.0 292.0V301.9M573.5 293.7V300.8M574.0 294.3V300.3M574.5 296.6V303.7M575.0 293.1V299.9M575.5 291.1V296.2M576.0 287.2V296.8M576.5 284.5V291.1M577.0 281.2V290.3M577.5 281.2V293.8M578.0 286.9V296.9M578.5 284.2V296.9M579.0 285.8V293.9M579.5 280.9V293.5M580.0 284.1V291.0M580.5 281.7V291.5M581.0 284.7V291.0M581.5 280.1V291.8M582.0 284.2V291.8M582.5 285.4V288.8M583.0 286.2V294.4M583.5 282.5V290.1M584.0 282.7V290.9M584.5 285.8V294.2M585.0 282.9V288.0M585.5 282.7V289.7M586.0 281.1V289.4M586.5 280.9V289.4M587.0 280.8V290.5M587.5 283.3V290.5M588.0 277.9V286.6M588.5 280.5V285.6M589.0 282.2V291.2M589.5 277.6V284.9M590.0 278.4V285.9M590.5 279.9V285.3M591.0 278.1V283.2M591.5 282.5V288.0M592.0 278.2V284.3M592.5 277.4V282.1M593.0 279.0V286.1M593.5 281.2V286.5M594.0 273.7V285.0M594.5 273.7V283.8M595.0 274.8V280.7M595.5 274.5V282.2M596.0 272.7V282.2M596.5 273.6V285.0M597.0 276.3V283.4M597.5 276.6V279.6M598.0 273.3V280.9M598.5 271.5V278.5M599.0 273.0V280.1M599.5 274.2V280.6M600.0 274.6V285.8M600.5 276.7V285.8M601.0 271.6V282.5M601.5 272.8V277.3M602.0 269.8V278.5M602.5 269.8V282.5M603.0 276.9V280.8M603.5 279.6V287.1M604.0 278.7V285.5M604.5 279.9V290.8M605.0 277.7V281.7M605.5 275.8V283.1M606.0 276.6V283.9M606.5 280.1V284.8M607.0 275.1V282.8M607.5 275.8V281.5M608.0 277.8V285.2M608.5 276.1V284.0M609.0 278.0V286.3M609.5 273.3V289.8M610.0 276.6V285.4M610.5 278.9V284.9M611.0 275.1V282.5M611.5 274.9V280.9M612.0 277.6V283.7M612.5 277.7V283.2M613.0 274.7V280.2M613.5 275.3V283.9M614.0 275.3V281.8M614.5 278.5V287.0M615.0 274.5V284.0M615.5 279.3V288.0M616.0 282.0V290.4M616.5 279.3V283.9M617.0 272.5V281.8M617.5 275.5V283.0M618.0 278.0V284.5M618.5 279.7V285.6M619.0 279.4V285.6M619.5 273.5V286.0M620.0 278.7V283.7M620.5 278.5V286.2M621.0 276.4V281.8M621.5 273.6V281.3M622.0 277.3V280.9M622.5 269.7V280.2M623.0 273.5V280.5M623.5 276.7V284.8M624.0 271.9V282.9M624.5 270.1V278.5M625.0 272.5V281.1M625.5 271.9V277.6M626.0 271.5V278.4M626.5 269.3V278.6M627.0 271.7V279.3M627.5 272.3V283.7M628.0 272.0V278.4M628.5 275.2V279.7M629.0 274.8V286.7M629.5 274.7V279.6M630.0 271.2V279.5M630.5 269.5V278.8M631.0 272.6V280.2M631.5 270.1V280.6M632.0 271.3V278.6M632.5 271.3V281.4M633.0 268.9V277.1M633.5 273.0V280.4M634.0 271.1V281.6M634.5 271.1V276.4M635.0 270.5V275.3M635.5 268.8V276.0M636.0 272.1V278.1M636.5 273.1V279.1M637.0 273.2V280.1M637.5 268.5V277.5M638.0 268.5V276.8M638.5 273.7V280.6M639.0 275.4V282.2M639.5 278.3V283.4M640.0 279.2V283.2M640.5 280.5V287.9M641.0 277.5V285.9M641.5 272.2V280.4M642.0 275.9V280.7M642.5 274.2V283.3M643.0 270.7V279.4M643.5 270.8V282.3M644.0 276.1V282.1M644.5 272.7V280.4M645.0 272.7V278.7M645.5 275.2V282.1M646.0 274.9V282.5M646.5 273.9V278.8M647.0 269.4V276.8M647.5 268.2V276.8M648.0 269.7V277.6M648.5 268.4V277.2M649.0 265.3V271.9M649.5 264.4V271.6M650.0 269.0V280.5M650.5 267.9V276.0M651.0 269.3V278.6M651.5 268.8V277.7M652.0 271.8V281.0M652.5 270.2V282.5M653.0 273.5V283.5M653.5 272.8V281.0M654.0 273.5V280.9M654.5 274.8V279.3M655.0 275.0V282.9M655.5 272.4V280.9M656.0 276.8V281.9M656.5 276.3V284.3M657.0 281.7V288.1M657.5 282.1V287.3M658.0 274.5V283.8M658.5 276.8V283.8M659.0 278.1V284.9M659.5 273.4V279.2M660.0 275.3V283.0M660.5 275.0V285.0M661.0 274.2V286.4M661.5 272.6V279.3M662.0 275.9V287.4M662.5 276.8V287.4M663.0 274.4V285.5M663.5 281.8V286.7M664.0 280.1V287.7M664.5 280.3V286.4M665.0 281.2V291.9M665.5 281.8V290.9M666.0 277.5V284.6M666.5 278.5V288.6M667.0 275.4V284.9M667.5 278.9V292.2M668.0 285.6V293.4M668.5 279.5V287.8M669.0 278.2V285.6M669.5 279.9V288.5M670.0 278.1V284.9M670.5 281.7V290.5M671.0 280.3V290.8M671.5 282.0V289.2M672.0 282.0V286.3M672.5 281.1V286.7M673.0 278.5V286.3M673.5 274.7V284.8M674.0 276.4V286.9M674.5 278.4V286.8M675.0 281.6V287.3M675.5 284.3V289.1M676.0 280.6V289.5M676.5 283.9V284.6" fill="none" stroke="#08c985" stroke-width="1.0" clip-path="url(#cF)"/>
<path d="M351.1 325.1V331.4M351.6 326.2V334.7M352.1 324.6V334.7M352.6 328.5V334.0M353.1 321.5V334.2M353.6 317.1V328.3M354.1 317.1V331.5M354.6 323.3V335.1M355.1 320.5V329.3M355.6 323.0V327.3M356.1 319.1V327.6M356.6 316.9V325.9M357.1 316.7V331.2M357.6 323.7V335.2M358.1 321.5V327.7M358.6 319.8V327.7M359.1 321.7V327.7M359.6 318.2V324.3M360.1 316.7V324.0M360.6 316.3V320.7M361.1 317.3V323.8M361.6 314.6V331.6M362.1 322.2V328.9M362.6 323.8V329.6M363.1 321.5V329.6M363.6 320.4V328.6M364.1 318.7V326.7M364.6 318.9V327.1M365.1 315.4V327.7M365.6 322.3V332.0M366.1 322.5V329.1M366.6 320.6V329.1M367.1 320.8V327.7M367.6 322.1V326.3M368.1 320.2V325.8M368.6 319.7V329.7M369.1 317.3V326.3M369.6 320.7V327.6M370.1 316.9V325.7M370.6 312.4V323.4M371.1 317.1V323.3M371.6 315.7V321.3M372.1 314.1V321.3M372.6 312.1V321.1M373.1 312.1V321.5M373.6 315.8V325.1M374.1 312.7V321.2M374.6 316.8V320.7M375.1 313.9V321.8M375.6 312.7V320.5M376.1 316.0V324.7M376.6 312.0V322.0M377.1 315.4V326.3M377.6 321.8V330.4M378.1 323.7V330.2M378.6 324.9V331.9M379.1 326.0V334.5M379.6 320.2V330.3M380.1 319.8V328.3M380.6 321.1V329.4M381.1 319.5V329.0M381.6 319.5V328.5M382.1 322.5V330.4M382.6 326.1V333.6M383.1 317.8V329.7M383.6 320.9V329.1M384.1 318.4V326.6M384.6 319.4V328.5M385.1 317.0V321.6M385.6 316.4V321.7M386.1 316.4V326.6M386.6 317.3V328.2M387.1 317.3V321.5M387.6 318.2V325.4M388.1 318.3V324.9M388.6 319.7V325.4M389.1 320.4V328.3M389.6 319.3V327.1M390.1 319.9V326.4M390.6 316.2V326.4M391.1 318.6V324.1M391.6 322.4V328.2M392.1 321.6V328.0M392.6 318.6V325.5M393.1 318.0V322.8M393.6 319.0V329.3M394.1 315.4V323.1M394.6 317.4V328.0M395.1 321.9V328.3M395.6 318.0V325.4M396.1 320.2V326.4M396.6 321.3V330.2M397.1 319.6V326.9M397.6 316.6V323.0M398.1 312.2V325.2M398.6 318.3V328.1M399.1 317.9V323.7M399.6 318.9V324.3M400.1 319.8V326.0M400.6 315.9V325.2M401.1 315.9V329.8M401.6 321.4V327.6M402.1 321.1V331.1M402.6 317.3V324.3M403.1 316.5V325.1M403.6 311.3V324.2M404.1 313.3V323.3M404.6 317.8V324.5M405.1 319.2V323.5M405.6 315.4V326.9M406.1 314.8V322.8M406.6 317.9V324.5M407.1 318.6V323.7M407.6 315.6V320.8M408.1 307.8V316.8M408.6 311.1V323.0M409.1 319.8V325.7M409.6 315.7V327.6M410.1 312.4V325.0M410.6 308.5V318.4M411.1 313.3V321.5M411.6 312.9V319.0M412.1 314.3V321.4M412.6 317.9V326.3M413.1 317.4V327.5M413.6 320.8V328.7M414.1 317.8V323.2M414.6 317.1V323.4M415.1 316.1V323.5M415.6 316.0V327.0M416.1 314.9V323.5M416.6 316.3V327.7M417.1 319.2V327.7M417.6 319.6V327.6M418.1 320.1V327.6M418.6 320.1V326.5M419.1 319.4V327.8M419.6 316.0V328.3M420.1 321.5V328.3M420.6 322.8V326.5M421.1 323.1V327.6M421.6 326.2V337.6M422.1 323.0V333.0M422.6 329.3V335.7M423.1 325.8V335.9M423.6 332.3V335.0M424.1 328.4V333.9M424.6 326.3V333.4M425.1 326.3V338.3M425.6 323.5V332.7M426.1 322.9V330.9M426.6 324.3V333.8M427.1 322.9V334.4M427.6 322.7V329.7M428.1 321.3V326.1M428.6 320.6V325.9M429.1 320.6V329.8M429.6 326.0V332.8M430.1 322.6V328.1M430.6 318.4V328.7M431.1 318.8V323.8M431.6 318.9V325.5M432.1 319.9V325.5M432.6 323.1V327.8M433.1 324.9V330.8M433.6 321.9V329.0M434.1 321.0V330.5M434.6 323.1V329.5M435.1 318.2V328.0M435.6 319.1V327.3M436.1 317.1V325.7M436.6 322.7V325.8M437.1 323.7V327.8M437.6 321.2V332.3M438.1 324.5V336.7M438.6 327.8V336.5M439.1 322.9V328.6M439.6 315.0V328.1M440.1 318.9V325.5M440.6 314.9V324.9M441.1 313.2V324.9M441.6 312.3V316.9M442.1 311.9V316.3M442.6 308.2V315.9M443.1 308.2V321.2M443.6 312.8V323.6M444.1 313.9V322.2M444.6 311.3V322.2M445.1 314.7V320.9M445.6 314.0V318.3M446.1 315.0V324.6M446.6 316.8V325.4M447.1 319.0V327.6M447.6 320.5V324.9M448.1 314.7V323.7M448.6 317.5V322.9M449.1 314.6V323.4M449.6 315.6V318.6M450.1 316.2V321.0M450.6 317.1V322.7M451.1 316.7V321.6M451.6 316.0V324.5M452.1 319.0V325.7M452.6 319.0V323.0M453.1 317.7V322.2M453.6 317.7V323.2M454.1 317.1V323.2M454.6 312.9V324.9M455.1 315.6V326.6M455.6 316.6V322.8M456.1 316.1V320.5M456.6 315.0V322.8M457.1 317.0V325.3M457.6 314.4V325.3M458.1 313.6V324.2M458.6 312.6V324.2M459.1 313.5V319.9M459.6 312.4V327.4M460.1 313.6V322.8M460.6 319.2V327.0M461.1 316.4V324.3M461.6 314.0V322.1M462.1 318.3V322.9M462.6 318.2V326.1M463.1 316.3V324.7M463.6 317.9V326.7M464.1 313.9V322.2M464.6 318.7V326.0M465.1 321.7V326.7M465.6 316.1V328.1M466.1 316.6V324.1M466.6 316.6V323.5M467.1 318.7V327.4M467.6 317.9V323.9M468.1 319.5V326.8M468.6 319.5V325.3M469.1 314.2V325.9M469.6 319.3V329.2M470.1 319.2V327.6M470.6 320.6V328.7M471.1 321.5V328.9M471.6 327.9V332.2M472.1 324.3V330.4M472.6 319.2V324.5M473.1 320.1V330.6M473.6 317.0V326.8M474.1 321.5V330.4M474.6 314.5V325.6M475.1 316.1V325.0M475.6 314.2V326.8M476.1 319.7V326.3M476.6 315.1V324.0M477.1 314.6V324.8M477.6 314.7V322.6M478.1 317.3V323.0M478.6 315.1V324.5M479.1 310.3V321.2M479.6 304.6V319.6M480.1 308.7V317.8M480.6 313.1V320.7M481.1 317.5V324.9M481.6 313.8V320.3M482.1 310.4V322.6M482.6 310.3V318.3M483.1 309.5V316.8M483.6 315.0V322.5M484.1 312.6V322.6M484.6 309.9V320.3M485.1 314.3V320.4M485.6 315.5V324.2M486.1 318.1V327.5M486.6 317.8V325.1M487.1 316.4V323.7M487.6 312.9V322.5M488.1 312.4V323.9M488.6 316.0V326.6M489.1 310.7V322.6M489.6 318.1V325.1M490.1 318.7V329.5M490.6 317.2V327.4M491.1 315.3V323.5M491.6 315.5V329.4M492.1 315.5V321.7M492.6 318.9V329.2M493.1 313.8V324.3M493.6 313.4V321.2M494.1 309.3V315.6M494.6 308.7V317.0M495.1 314.1V320.2M495.6 313.1V321.0M496.1 309.2V322.0M496.6 313.3V320.5M497.1 313.5V319.8M497.6 311.5V320.0M498.1 311.9V317.6M498.6 310.1V316.6M499.1 312.8V320.8M499.6 317.5V324.7M500.1 317.6V328.2M500.6 313.5V321.2M501.1 315.4V325.2M501.6 312.3V323.9M502.1 308.9V319.9M502.6 313.1V319.0M503.1 314.0V320.7M503.6 310.2V315.5M504.1 308.9V314.2M504.6 306.9V314.4M505.1 307.3V317.8M505.6 310.6V321.2M506.1 307.1V317.4M506.6 307.7V316.1M507.1 310.6V318.9M507.6 303.6V318.9M508.1 305.2V310.6M508.6 304.4V314.2M509.1 304.4V308.9M509.6 301.3V306.3M510.1 302.1V308.3M510.6 301.9V311.1M511.1 302.8V311.1M511.6 306.6V317.0M512.0 301.6V311.0M512.5 301.6V312.2M513.0 305.5V311.3M513.5 308.5V315.9M514.0 303.9V314.3M514.5 308.3V313.6M515.0 309.4V316.3M515.5 309.7V317.0M516.0 306.7V312.6M516.5 306.1V315.1M517.0 308.8V311.3M517.5 307.4V313.3M518.0 308.3V316.3M518.5 305.7V314.1M519.0 308.0V319.1M519.5 310.9V316.0M520.0 308.8V317.5M520.5 302.3V318.2M521.0 309.4V317.3M521.5 312.5V316.2M522.0 314.2V322.9M522.5 311.1V317.4M523.0 311.2V320.5M523.5 312.9V319.0M524.0 315.9V325.2M524.5 316.7V325.0M525.0 315.2V323.6M525.5 316.8V323.6M526.0 318.8V327.0M526.5 312.2V327.4M527.0 317.7V327.4M527.5 315.8V328.0M528.0 321.0V327.2M528.5 310.7V323.6M529.0 317.3V328.0M529.5 319.6V324.3M530.0 315.0V323.2M530.5 316.3V321.8M531.0 316.7V327.1M531.5 318.5V325.5M532.0 316.4V327.1M532.5 316.7V327.1M533.0 320.0V326.3M533.5 320.3V324.4M534.0 318.7V325.0M534.5 316.7V327.5M535.0 318.5V326.7M535.5 319.3V331.5M536.0 321.0V326.1M536.5 319.1V328.1M537.0 318.9V331.7M537.5 321.9V332.2M538.0 320.1V332.2M538.5 321.7V330.0M539.0 322.9V329.6M539.5 315.4V329.3M540.0 314.7V321.6M540.5 316.2V324.9M541.0 315.2V321.7M541.5 311.5V318.2M542.0 311.5V321.7M542.5 306.3V316.0M543.0 306.2V316.6M543.5 309.5V318.6M544.0 309.0V317.5M544.5 306.1V318.0M545.0 306.6V314.8M545.5 304.9V314.2M546.0 304.9V313.6M546.5 309.4V318.0M547.0 310.6V318.6M547.5 310.7V318.3M548.0 308.3V316.6M548.5 306.1V317.8M549.0 306.1V319.0M549.5 310.3V316.4M550.0 310.3V318.4M550.5 313.3V322.5M551.0 319.5V324.6M551.5 313.9V319.9M552.0 316.2V319.4M552.5 315.6V321.6M553.0 313.3V318.7M553.5 313.0V320.0M554.0 312.0V317.2M554.5 312.6V322.1M555.0 315.9V325.4M555.5 311.9V320.8M556.0 313.3V317.4M556.5 313.8V320.0M557.0 313.3V316.5M557.5 310.2V318.8M558.0 314.6V319.8M558.5 310.2V318.8M559.0 310.2V321.1M559.5 312.0V318.3M560.0 314.3V324.3M560.5 315.8V326.0M561.0 311.7V321.2M561.5 315.9V327.6M562.0 317.8V324.3M562.5 315.8V324.4M563.0 312.7V323.2M563.5 312.7V325.2M564.0 313.6V322.8M564.5 316.5V322.9M565.0 313.5V318.2M565.5 312.5V318.3M566.0 311.8V317.6M566.5 306.2V318.9M567.0 308.2V316.7M567.5 313.3V319.5M568.0 314.9V319.5M568.5 305.6V318.6M569.0 310.3V315.6M569.5 310.9V315.6M570.0 311.5V316.0M570.5 314.4V321.7M571.0 312.1V316.6M571.5 311.9V317.7M572.0 311.3V321.5M572.5 317.4V321.6M573.0 312.6V320.9M573.5 318.1V326.2M574.0 315.0V324.9M574.5 316.5V321.8M575.0 308.6V319.5M575.5 308.9V317.7M576.0 306.4V315.3M576.5 308.6V314.6M577.0 306.1V310.7M577.5 306.9V313.5M578.0 305.5V312.8M578.5 303.9V312.7M579.0 306.4V312.1M579.5 308.8V313.2M580.0 310.3V316.0M580.5 312.2V319.7M581.0 312.3V321.0M581.5 314.8V319.0M582.0 310.1V317.8M582.5 311.2V316.7M583.0 310.4V320.1M583.5 314.0V322.8M584.0 314.4V321.1M584.5 313.6V322.1M585.0 318.3V323.0M585.5 317.2V325.3M586.0 317.0V325.3M586.5 311.5V324.3M587.0 316.5V326.1M587.5 318.0V323.8M588.0 318.5V324.9M588.5 318.1V326.2M589.0 315.8V328.3M589.5 315.8V325.6M590.0 315.9V325.1M590.5 319.5V326.0M591.0 320.0V325.5M591.5 315.8V323.4M592.0 320.5V327.4M592.5 315.5V325.5M593.0 315.2V321.3M593.5 313.2V321.0M594.0 313.6V321.4M594.5 314.3V322.6M595.0 306.3V317.2M595.5 308.5V319.0M596.0 312.2V318.1M596.5 307.0V321.1M597.0 308.3V319.6M597.5 309.9V318.4M598.0 309.9V318.1M598.5 311.3V316.3M599.0 312.8V319.0M599.5 316.2V325.1M600.0 311.1V319.7M600.5 315.8V324.2M601.0 317.2V325.5M601.5 315.4V324.2M602.0 318.3V326.0M602.5 319.0V325.9M603.0 321.0V326.0M603.5 321.0V327.5M604.0 320.5V329.1M604.5 321.6V330.5M605.0 323.1V333.4M605.5 325.6V331.8M606.0 325.6V329.9M606.5 321.2V330.5M607.0 325.5V337.0M607.5 320.2V337.0M608.0 320.7V326.8M608.5 322.6V330.6M609.0 323.3V332.3M609.5 324.1V329.6M610.0 321.1V327.4M610.5 321.0V329.6M611.0 320.7V329.3M611.5 319.7V328.3M612.0 319.9V328.0M612.5 318.2V322.6M613.0 313.5V324.8M613.5 316.9V325.2M614.0 321.4V332.3M614.5 324.7V332.3M615.0 323.4V327.8M615.5 322.5V327.8M616.0 324.5V329.4M616.5 319.7V328.7M617.0 320.8V325.9M617.5 321.2V325.6M618.0 318.6V323.1M618.5 317.4V324.0M619.0 319.1V324.5M619.5 312.6V322.8M620.0 317.3V327.8M620.5 315.1V328.6M621.0 323.4V329.7M621.5 323.6V331.8M622.0 321.7V330.1M622.5 317.8V326.2M623.0 317.8V328.0M623.5 320.1V327.1M624.0 322.2V328.4M624.5 321.9V328.9M625.0 321.1V323.9M625.5 320.8V327.6M626.0 317.4V329.9M626.5 319.1V324.4M627.0 316.7V328.0M627.5 323.5V329.9M628.0 322.4V336.4M628.5 319.4V325.3M629.0 315.5V326.1M629.5 314.4V323.4M630.0 311.6V323.6M630.5 317.7V323.5M631.0 312.2V325.6M631.5 314.7V326.3M632.0 321.5V326.0M632.5 312.8V326.0M633.0 312.8V321.3M633.5 308.7V322.8M634.0 308.7V322.0M634.5 313.5V323.2M635.0 317.7V323.9M635.5 312.7V321.7M636.0 312.7V320.6M636.5 315.2V322.5M637.0 315.2V327.4M637.5 315.2V324.0M638.0 309.6V322.1M638.5 321.4V325.2M639.0 318.8V326.6M639.5 321.8V333.0M640.0 324.9V330.1M640.5 316.3V326.7M641.0 312.0V319.7M641.5 313.6V319.8M642.0 316.4V325.3M642.5 312.4V317.5M643.0 311.4V317.2M643.5 312.1V322.7M644.0 312.1V319.9M644.5 316.1V324.7M645.0 316.6V319.9M645.5 311.5V318.9M646.0 313.0V319.3M646.5 310.4V319.6M647.0 311.2V320.1M647.5 309.3V316.9M648.0 307.8V315.7M648.5 307.8V316.5M649.0 310.9V317.9M649.5 311.4V317.9M650.0 314.5V322.0M650.5 311.8V322.5M651.0 307.7V317.6M651.5 308.2V315.9M652.0 306.3V312.5M652.5 308.3V314.7M653.0 309.2V314.4M653.5 311.8V323.1M654.0 314.5V321.0M654.5 312.6V319.9M655.0 316.4V323.3M655.5 312.7V327.8M656.0 316.9V327.8M656.5 315.4V323.9M657.0 314.7V318.8M657.5 311.6V318.4M658.0 310.2V316.0M658.5 311.1V317.7M659.0 309.1V316.6M659.5 310.3V317.5M660.0 306.5V315.2M660.5 308.8V318.8M661.0 310.8V317.4M661.5 314.5V320.5M662.0 313.0V318.6M662.5 312.6V318.6M663.0 314.3V319.9M663.5 314.8V325.3M664.0 318.5V325.3M664.5 319.9V326.2M665.0 319.2V325.1M665.5 317.9V322.3M666.0 316.2V326.1M666.5 324.3V331.6M667.0 322.5V328.3M667.5 321.3V328.7M668.0 320.6V327.0M668.5 320.5V325.8M669.0 320.8V331.4M669.5 320.4V327.2M670.0 320.1V324.3M670.5 315.1V323.3M671.0 309.4V317.6M671.5 311.4V318.6M672.0 311.1V320.9M672.5 306.6V319.4M673.0 313.3V324.3M673.5 310.9V324.3M674.0 310.9V316.7M674.5 308.3V319.8M675.0 312.3V324.1M675.5 313.5V321.3M676.0 310.6V319.1M676.5 313.7V314.0" fill="none" stroke="#f70a8b" stroke-width="1.0" clip-path="url(#cF)"/>
<path d="M350.7 243.5H677.0V351.5H350.7Z" fill="none" stroke="#5c5c5c" stroke-width="1"/>
<path d="M348.90 351.50H350.7M348.90 338.00H350.7M348.90 324.50H350.7M348.90 311.00H350.7M348.90 297.50H350.7M348.90 284.00H350.7M348.90 270.50H350.7M348.90 257.00H350.7M348.90 243.50H350.7M349.70 344.75H350.7M349.70 331.25H350.7M349.70 317.75H350.7M349.70 304.25H350.7M349.70 290.75H350.7M349.70 277.25H350.7M349.70 263.75H350.7M349.70 250.25H350.7M350.70 351.5V353.30M415.96 351.5V353.30M481.22 351.5V353.30M546.48 351.5V353.30M611.74 351.5V353.30M677.00 351.5V353.30M383.33 351.5V352.50M448.59 351.5V352.50M513.85 351.5V352.50M579.11 351.5V352.50M644.37 351.5V352.50" stroke="#5c5c5c" stroke-width="1"/>
<text x="347.9" y="351.90" font-size="8.2" text-anchor="end" dominant-baseline="central">170</text>
<text x="347.9" y="338.40" font-size="8.2" text-anchor="end" dominant-baseline="central">180</text>
<text x="347.9" y="324.90" font-size="8.2" text-anchor="end" dominant-baseline="central">190</text>
<text x="347.9" y="311.40" font-size="8.2" text-anchor="end" dominant-baseline="central">200</text>
<text x="347.9" y="297.90" font-size="8.2" text-anchor="end" dominant-baseline="central">210</text>
<text x="347.9" y="284.40" font-size="8.2" text-anchor="end" dominant-baseline="central">220</text>
<text x="347.9" y="270.90" font-size="8.2" text-anchor="end" dominant-baseline="central">230</text>
<text x="347.9" y="257.40" font-size="8.2" text-anchor="end" dominant-baseline="central">240</text>
<text x="347.9" y="243.90" font-size="8.2" text-anchor="end" dominant-baseline="central">250</text>
<text x="350.70" y="358.6" font-size="8.2" text-anchor="middle" dominant-baseline="central">0</text>
<text x="415.96" y="358.6" font-size="8.2" text-anchor="middle" dominant-baseline="central">20</text>
<text x="481.22" y="358.6" font-size="8.2" text-anchor="middle" dominant-baseline="central">40</text>
<text x="546.48" y="358.6" font-size="8.2" text-anchor="middle" dominant-baseline="central">60</text>
<text x="611.74" y="358.6" font-size="8.2" text-anchor="middle" dominant-baseline="central">80</text>
<text x="677.00" y="358.6" font-size="8.2" text-anchor="middle" dominant-baseline="central">100</text>
<text x="354.8" y="258.2" font-size="12">F</text>
<text x="500.9" y="373.9" font-size="8.2" textLength="26" lengthAdjust="spacingAndGlyphs">Time(ns)</text>
<text transform="translate(328.6,306.7) rotate(-90)" font-size="7.6" textLength="32.8" lengthAdjust="spacingAndGlyphs">Area (nm<tspan font-size="5" dy="-3">2</tspan><tspan dy="3">)</tspan></text>
<path d="M562.2 343.4H582.6" stroke="#f70a8b" stroke-width="0.8" opacity="0.6"/>
<text x="584.4" y="346.2" font-size="7.2" textLength="28.8" lengthAdjust="spacingAndGlyphs">Free AKT1</text>
<path d="M615.8 343.4H636.7" stroke="#08c985" stroke-width="0.8" opacity="0.6"/>
<text x="638.3" y="346.2" font-size="7.2" textLength="31.5" lengthAdjust="spacingAndGlyphs">AKT1/GNP</text>
</svg>
</body></html>
